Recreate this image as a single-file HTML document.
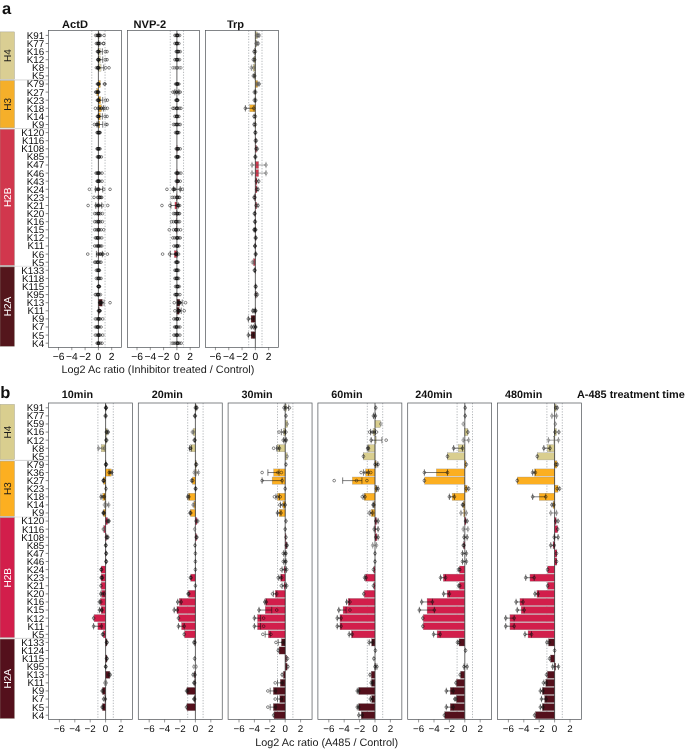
<!DOCTYPE html>
<html><head><meta charset="utf-8"><title>Figure</title>
<style>html,body{margin:0;padding:0;background:#fff}svg{display:block}</style></head>
<body>
<svg width="685" height="749" viewBox="0 0 685 749" font-family="'Liberation Sans', sans-serif" text-rendering="geometricPrecision">
<rect width="685" height="749" fill="#fff"/>
<text x="2" y="13.9" font-size="16.5" font-weight="bold" fill="#111">a</text>
<text x="0.2" y="398.3" font-size="16.5" font-weight="bold" fill="#111">b</text>
<rect x="0" y="31.9" width="14.5" height="47.35" fill="#DACE93" stroke="#9a9a8a" stroke-width="0.4"/>
<text transform="translate(10.6,55.58) rotate(-90)" text-anchor="middle" font-size="10" fill="#1a1a1a">H4</text>
<line x1="0" x2="14.7" y1="79.95" y2="79.95" stroke="#c8c8c8" stroke-width="1.2"/>
<line x1="14.7" x2="48.5" y1="79.95" y2="79.95" stroke="#d6d6d6" stroke-width="1.0"/>
<rect x="0" y="80.65" width="14.5" height="47.2" fill="#F5AF2A" stroke="#9a9a8a" stroke-width="0.4"/>
<text transform="translate(10.6,104.25) rotate(-90)" text-anchor="middle" font-size="10" fill="#1a1a1a">H3</text>
<line x1="0" x2="14.7" y1="128.55" y2="128.55" stroke="#e0e0e0" stroke-width="1.0"/>
<line x1="14.7" x2="48.5" y1="128.55" y2="128.55" stroke="#cccccc" stroke-width="0.7"/>
<rect x="0" y="129.25" width="14.5" height="136.3" fill="#D1374D" stroke="#9a9a8a" stroke-width="0.4"/>
<text transform="translate(10.6,197.4) rotate(-90)" text-anchor="middle" font-size="10" fill="#fff">H2B</text>
<line x1="0" x2="14.7" y1="266.25" y2="266.25" stroke="#bebebe" stroke-width="1.5"/>
<line x1="14.7" x2="48.5" y1="266.25" y2="266.25" stroke="#e2e2e2" stroke-width="1.0"/>
<rect x="0" y="266.95" width="14.5" height="79.35" fill="#54161C" stroke="#9a9a8a" stroke-width="0.4"/>
<text transform="translate(10.6,306.62) rotate(-90)" text-anchor="middle" font-size="10" fill="#fff">H2A</text>
<text x="44.1" y="38.8" text-anchor="end" font-size="9.8" fill="#0a0a0a">K91</text>
<line x1="45.7" x2="48.5" y1="35.4" y2="35.4" stroke="#333" stroke-width="0.6"/>
<text x="44.1" y="46.9" text-anchor="end" font-size="9.8" fill="#0a0a0a">K77</text>
<line x1="45.7" x2="48.5" y1="43.5" y2="43.5" stroke="#333" stroke-width="0.6"/>
<text x="44.1" y="55" text-anchor="end" font-size="9.8" fill="#0a0a0a">K16</text>
<line x1="45.7" x2="48.5" y1="51.6" y2="51.6" stroke="#333" stroke-width="0.6"/>
<text x="44.1" y="63.1" text-anchor="end" font-size="9.8" fill="#0a0a0a">K12</text>
<line x1="45.7" x2="48.5" y1="59.7" y2="59.7" stroke="#333" stroke-width="0.6"/>
<text x="44.1" y="71.2" text-anchor="end" font-size="9.8" fill="#0a0a0a">K8</text>
<line x1="45.7" x2="48.5" y1="67.8" y2="67.8" stroke="#333" stroke-width="0.6"/>
<text x="44.1" y="79.3" text-anchor="end" font-size="9.8" fill="#0a0a0a">K5</text>
<line x1="45.7" x2="48.5" y1="75.9" y2="75.9" stroke="#333" stroke-width="0.6"/>
<text x="44.1" y="87.4" text-anchor="end" font-size="9.8" fill="#0a0a0a">K79</text>
<line x1="45.7" x2="48.5" y1="84" y2="84" stroke="#333" stroke-width="0.6"/>
<text x="44.1" y="95.5" text-anchor="end" font-size="9.8" fill="#0a0a0a">K27</text>
<line x1="45.7" x2="48.5" y1="92.1" y2="92.1" stroke="#333" stroke-width="0.6"/>
<text x="44.1" y="103.6" text-anchor="end" font-size="9.8" fill="#0a0a0a">K23</text>
<line x1="45.7" x2="48.5" y1="100.2" y2="100.2" stroke="#333" stroke-width="0.6"/>
<text x="44.1" y="111.7" text-anchor="end" font-size="9.8" fill="#0a0a0a">K18</text>
<line x1="45.7" x2="48.5" y1="108.3" y2="108.3" stroke="#333" stroke-width="0.6"/>
<text x="44.1" y="119.8" text-anchor="end" font-size="9.8" fill="#0a0a0a">K14</text>
<line x1="45.7" x2="48.5" y1="116.4" y2="116.4" stroke="#333" stroke-width="0.6"/>
<text x="44.1" y="127.9" text-anchor="end" font-size="9.8" fill="#0a0a0a">K9</text>
<line x1="45.7" x2="48.5" y1="124.5" y2="124.5" stroke="#333" stroke-width="0.6"/>
<text x="44.1" y="136" text-anchor="end" font-size="9.8" fill="#0a0a0a">K120</text>
<line x1="45.7" x2="48.5" y1="132.6" y2="132.6" stroke="#333" stroke-width="0.6"/>
<text x="44.1" y="144.1" text-anchor="end" font-size="9.8" fill="#0a0a0a">K116</text>
<line x1="45.7" x2="48.5" y1="140.7" y2="140.7" stroke="#333" stroke-width="0.6"/>
<text x="44.1" y="152.2" text-anchor="end" font-size="9.8" fill="#0a0a0a">K108</text>
<line x1="45.7" x2="48.5" y1="148.8" y2="148.8" stroke="#333" stroke-width="0.6"/>
<text x="44.1" y="160.3" text-anchor="end" font-size="9.8" fill="#0a0a0a">K85</text>
<line x1="45.7" x2="48.5" y1="156.9" y2="156.9" stroke="#333" stroke-width="0.6"/>
<text x="44.1" y="168.4" text-anchor="end" font-size="9.8" fill="#0a0a0a">K47</text>
<line x1="45.7" x2="48.5" y1="165" y2="165" stroke="#333" stroke-width="0.6"/>
<text x="44.1" y="176.5" text-anchor="end" font-size="9.8" fill="#0a0a0a">K46</text>
<line x1="45.7" x2="48.5" y1="173.1" y2="173.1" stroke="#333" stroke-width="0.6"/>
<text x="44.1" y="184.6" text-anchor="end" font-size="9.8" fill="#0a0a0a">K43</text>
<line x1="45.7" x2="48.5" y1="181.2" y2="181.2" stroke="#333" stroke-width="0.6"/>
<text x="44.1" y="192.7" text-anchor="end" font-size="9.8" fill="#0a0a0a">K24</text>
<line x1="45.7" x2="48.5" y1="189.3" y2="189.3" stroke="#333" stroke-width="0.6"/>
<text x="44.1" y="200.8" text-anchor="end" font-size="9.8" fill="#0a0a0a">K23</text>
<line x1="45.7" x2="48.5" y1="197.4" y2="197.4" stroke="#333" stroke-width="0.6"/>
<text x="44.1" y="208.9" text-anchor="end" font-size="9.8" fill="#0a0a0a">K21</text>
<line x1="45.7" x2="48.5" y1="205.5" y2="205.5" stroke="#333" stroke-width="0.6"/>
<text x="44.1" y="217" text-anchor="end" font-size="9.8" fill="#0a0a0a">K20</text>
<line x1="45.7" x2="48.5" y1="213.6" y2="213.6" stroke="#333" stroke-width="0.6"/>
<text x="44.1" y="225.1" text-anchor="end" font-size="9.8" fill="#0a0a0a">K16</text>
<line x1="45.7" x2="48.5" y1="221.7" y2="221.7" stroke="#333" stroke-width="0.6"/>
<text x="44.1" y="233.2" text-anchor="end" font-size="9.8" fill="#0a0a0a">K15</text>
<line x1="45.7" x2="48.5" y1="229.8" y2="229.8" stroke="#333" stroke-width="0.6"/>
<text x="44.1" y="241.3" text-anchor="end" font-size="9.8" fill="#0a0a0a">K12</text>
<line x1="45.7" x2="48.5" y1="237.9" y2="237.9" stroke="#333" stroke-width="0.6"/>
<text x="44.1" y="249.4" text-anchor="end" font-size="9.8" fill="#0a0a0a">K11</text>
<line x1="45.7" x2="48.5" y1="246" y2="246" stroke="#333" stroke-width="0.6"/>
<text x="44.1" y="257.5" text-anchor="end" font-size="9.8" fill="#0a0a0a">K6</text>
<line x1="45.7" x2="48.5" y1="254.1" y2="254.1" stroke="#333" stroke-width="0.6"/>
<text x="44.1" y="265.6" text-anchor="end" font-size="9.8" fill="#0a0a0a">K5</text>
<line x1="45.7" x2="48.5" y1="262.2" y2="262.2" stroke="#333" stroke-width="0.6"/>
<text x="44.1" y="273.7" text-anchor="end" font-size="9.8" fill="#0a0a0a">K133</text>
<line x1="45.7" x2="48.5" y1="270.3" y2="270.3" stroke="#333" stroke-width="0.6"/>
<text x="44.1" y="281.8" text-anchor="end" font-size="9.8" fill="#0a0a0a">K118</text>
<line x1="45.7" x2="48.5" y1="278.4" y2="278.4" stroke="#333" stroke-width="0.6"/>
<text x="44.1" y="289.9" text-anchor="end" font-size="9.8" fill="#0a0a0a">K115</text>
<line x1="45.7" x2="48.5" y1="286.5" y2="286.5" stroke="#333" stroke-width="0.6"/>
<text x="44.1" y="298" text-anchor="end" font-size="9.8" fill="#0a0a0a">K95</text>
<line x1="45.7" x2="48.5" y1="294.6" y2="294.6" stroke="#333" stroke-width="0.6"/>
<text x="44.1" y="306.1" text-anchor="end" font-size="9.8" fill="#0a0a0a">K13</text>
<line x1="45.7" x2="48.5" y1="302.7" y2="302.7" stroke="#333" stroke-width="0.6"/>
<text x="44.1" y="314.2" text-anchor="end" font-size="9.8" fill="#0a0a0a">K11</text>
<line x1="45.7" x2="48.5" y1="310.8" y2="310.8" stroke="#333" stroke-width="0.6"/>
<text x="44.1" y="322.3" text-anchor="end" font-size="9.8" fill="#0a0a0a">K9</text>
<line x1="45.7" x2="48.5" y1="318.9" y2="318.9" stroke="#333" stroke-width="0.6"/>
<text x="44.1" y="330.4" text-anchor="end" font-size="9.8" fill="#0a0a0a">K7</text>
<line x1="45.7" x2="48.5" y1="327" y2="327" stroke="#333" stroke-width="0.6"/>
<text x="44.1" y="338.5" text-anchor="end" font-size="9.8" fill="#0a0a0a">K5</text>
<line x1="45.7" x2="48.5" y1="335.1" y2="335.1" stroke="#333" stroke-width="0.6"/>
<text x="44.1" y="346.6" text-anchor="end" font-size="9.8" fill="#0a0a0a">K4</text>
<line x1="45.7" x2="48.5" y1="343.2" y2="343.2" stroke="#333" stroke-width="0.6"/>
<rect x="48.5" y="30.5" width="73" height="316.9" fill="#fff" stroke="none"/>
<line x1="91.75" x2="91.75" y1="30.5" y2="347.4" stroke="#4a5058" stroke-width="0.4" stroke-dasharray="1.3 1.45"/>
<line x1="105.05" x2="105.05" y1="30.5" y2="347.4" stroke="#4a5058" stroke-width="0.4" stroke-dasharray="1.3 1.45"/>
<rect x="98.4" y="31.9" width="0.67" height="7" fill="#DACE93" fill-opacity="0.7" stroke="#8f8f8f" stroke-width="0.3"/>
<rect x="98.4" y="40" width="0.67" height="7" fill="#DACE93" fill-opacity="0.7" stroke="#8f8f8f" stroke-width="0.3"/>
<rect x="98.4" y="48.1" width="2" height="7" fill="#DACE93" fill-opacity="0.7" stroke="#8f8f8f" stroke-width="0.3"/>
<rect x="98.4" y="56.2" width="2" height="7" fill="#DACE93" fill-opacity="0.7" stroke="#8f8f8f" stroke-width="0.3"/>
<rect x="98.4" y="64.3" width="2.66" height="7" fill="#DACE93" fill-opacity="0.7" stroke="#8f8f8f" stroke-width="0.3"/>
<rect x="98.4" y="80.5" width="2" height="7" fill="#F5AF2A" stroke="#8f8f8f" stroke-width="0.3"/>
<rect x="96.74" y="88.6" width="1.66" height="7" fill="#F5AF2A" stroke="#8f8f8f" stroke-width="0.3"/>
<rect x="98.4" y="96.7" width="2.33" height="7" fill="#F5AF2A" stroke="#8f8f8f" stroke-width="0.3"/>
<rect x="98.4" y="104.8" width="2.99" height="7" fill="#F5AF2A" stroke="#8f8f8f" stroke-width="0.3"/>
<rect x="98.4" y="112.9" width="2" height="7" fill="#F5AF2A" stroke="#8f8f8f" stroke-width="0.3"/>
<rect x="98.4" y="121" width="1.33" height="7" fill="#F5AF2A" stroke="#8f8f8f" stroke-width="0.3"/>
<rect x="98.4" y="185.8" width="0.33" height="7" fill="#D1374D" stroke="#8f8f8f" stroke-width="0.3"/>
<rect x="98.4" y="193.9" width="0.33" height="7" fill="#D1374D" stroke="#8f8f8f" stroke-width="0.3"/>
<rect x="98.4" y="202" width="0.33" height="7" fill="#D1374D" stroke="#8f8f8f" stroke-width="0.3"/>
<rect x="98.4" y="210.1" width="0.33" height="7" fill="#D1374D" stroke="#8f8f8f" stroke-width="0.3"/>
<rect x="98.4" y="218.2" width="0.33" height="7" fill="#D1374D" stroke="#8f8f8f" stroke-width="0.3"/>
<rect x="98.4" y="226.3" width="0.33" height="7" fill="#D1374D" stroke="#8f8f8f" stroke-width="0.3"/>
<rect x="98.4" y="234.4" width="0.2" height="7" fill="#D1374D" stroke="#8f8f8f" stroke-width="0.3"/>
<rect x="98.4" y="242.5" width="0.2" height="7" fill="#D1374D" stroke="#8f8f8f" stroke-width="0.3"/>
<rect x="98.4" y="250.6" width="0.33" height="7" fill="#D1374D" stroke="#8f8f8f" stroke-width="0.3"/>
<rect x="98.4" y="299.2" width="3.99" height="7" fill="#54161C" stroke="#8f8f8f" stroke-width="0.3"/>
<rect x="98.4" y="307.3" width="1" height="7" fill="#54161C" stroke="#8f8f8f" stroke-width="0.3"/>
<rect x="98.4" y="315.4" width="0.2" height="7" fill="#54161C" stroke="#8f8f8f" stroke-width="0.3"/>
<rect x="98.4" y="331.6" width="0.2" height="7" fill="#54161C" stroke="#8f8f8f" stroke-width="0.3"/>
<line x1="98.4" x2="98.4" y1="30.5" y2="347.4" stroke="#222" stroke-width="0.7"/>
<circle cx="95.74" cy="35.4" r="1.35" fill="none" stroke="#111" stroke-width="0.5"/>
<circle cx="97.07" cy="35.4" r="1.35" fill="none" stroke="#111" stroke-width="0.5"/>
<circle cx="97.73" cy="35.4" r="1.35" fill="none" stroke="#111" stroke-width="0.5"/>
<circle cx="98.4" cy="35.4" r="1.35" fill="none" stroke="#111" stroke-width="0.5"/>
<circle cx="99.07" cy="35.4" r="1.35" fill="none" stroke="#111" stroke-width="0.5"/>
<circle cx="99.73" cy="35.4" r="1.35" fill="none" stroke="#111" stroke-width="0.5"/>
<circle cx="100.4" cy="35.4" r="1.35" fill="none" stroke="#111" stroke-width="0.5"/>
<circle cx="104.05" cy="35.4" r="1.35" fill="none" stroke="#111" stroke-width="0.5"/>
<circle cx="98.6" cy="35.4" r="1.35" fill="none" stroke="#111" stroke-width="0.5"/>
<circle cx="98.93" cy="35.4" r="1.35" fill="none" stroke="#111" stroke-width="0.5"/>
<circle cx="96.41" cy="43.5" r="1.35" fill="none" stroke="#111" stroke-width="0.5"/>
<circle cx="97.4" cy="43.5" r="1.35" fill="none" stroke="#111" stroke-width="0.5"/>
<circle cx="98.4" cy="43.5" r="1.35" fill="none" stroke="#111" stroke-width="0.5"/>
<circle cx="99.07" cy="43.5" r="1.35" fill="none" stroke="#111" stroke-width="0.5"/>
<circle cx="100.06" cy="43.5" r="1.35" fill="none" stroke="#111" stroke-width="0.5"/>
<circle cx="103.39" cy="43.5" r="1.35" fill="none" stroke="#111" stroke-width="0.5"/>
<circle cx="103.72" cy="43.5" r="1.35" fill="none" stroke="#111" stroke-width="0.5"/>
<circle cx="98.13" cy="43.5" r="1.35" fill="none" stroke="#111" stroke-width="0.5"/>
<circle cx="98.47" cy="43.5" r="1.35" fill="none" stroke="#111" stroke-width="0.5"/>
<path d="M98.4 51.6H102.39M98.4 48.4v6.4M102.39 48.4v6.4" stroke="#111" stroke-width="0.55" fill="none"/>
<circle cx="97.4" cy="51.6" r="1.35" fill="none" stroke="#111" stroke-width="0.5"/>
<circle cx="98.4" cy="51.6" r="1.35" fill="none" stroke="#111" stroke-width="0.5"/>
<circle cx="99.07" cy="51.6" r="1.35" fill="none" stroke="#111" stroke-width="0.5"/>
<circle cx="105.38" cy="51.6" r="1.35" fill="none" stroke="#111" stroke-width="0.5"/>
<circle cx="107.05" cy="51.6" r="1.35" fill="none" stroke="#111" stroke-width="0.5"/>
<circle cx="98.16" cy="51.6" r="1.35" fill="none" stroke="#111" stroke-width="0.5"/>
<circle cx="98.49" cy="51.6" r="1.35" fill="none" stroke="#111" stroke-width="0.5"/>
<path d="M98.4 59.7H102.72M98.4 56.5v6.4M102.72 56.5v6.4" stroke="#111" stroke-width="0.55" fill="none"/>
<circle cx="97.73" cy="59.7" r="1.35" fill="none" stroke="#111" stroke-width="0.5"/>
<circle cx="98.4" cy="59.7" r="1.35" fill="none" stroke="#111" stroke-width="0.5"/>
<circle cx="99.07" cy="59.7" r="1.35" fill="none" stroke="#111" stroke-width="0.5"/>
<circle cx="105.38" cy="59.7" r="1.35" fill="none" stroke="#111" stroke-width="0.5"/>
<circle cx="107.05" cy="59.7" r="1.35" fill="none" stroke="#111" stroke-width="0.5"/>
<circle cx="98.27" cy="59.7" r="1.35" fill="none" stroke="#111" stroke-width="0.5"/>
<circle cx="98.6" cy="59.7" r="1.35" fill="none" stroke="#111" stroke-width="0.5"/>
<path d="M98.4 67.8H103.72M98.4 64.6v6.4M103.72 64.6v6.4" stroke="#111" stroke-width="0.55" fill="none"/>
<circle cx="96.41" cy="67.8" r="1.35" fill="none" stroke="#111" stroke-width="0.5"/>
<circle cx="97.73" cy="67.8" r="1.35" fill="none" stroke="#111" stroke-width="0.5"/>
<circle cx="98.4" cy="67.8" r="1.35" fill="none" stroke="#111" stroke-width="0.5"/>
<circle cx="99.07" cy="67.8" r="1.35" fill="none" stroke="#111" stroke-width="0.5"/>
<circle cx="105.72" cy="67.8" r="1.35" fill="none" stroke="#111" stroke-width="0.5"/>
<circle cx="109.04" cy="67.8" r="1.35" fill="none" stroke="#111" stroke-width="0.5"/>
<circle cx="97.77" cy="67.8" r="1.35" fill="none" stroke="#111" stroke-width="0.5"/>
<circle cx="98.1" cy="67.8" r="1.35" fill="none" stroke="#111" stroke-width="0.5"/>
<circle cx="97.4" cy="84" r="1.35" fill="none" stroke="#111" stroke-width="0.5"/>
<circle cx="98.4" cy="84" r="1.35" fill="none" stroke="#111" stroke-width="0.5"/>
<circle cx="99.07" cy="84" r="1.35" fill="none" stroke="#111" stroke-width="0.5"/>
<circle cx="104.39" cy="84" r="1.35" fill="none" stroke="#111" stroke-width="0.5"/>
<circle cx="105.05" cy="84" r="1.35" fill="none" stroke="#111" stroke-width="0.5"/>
<circle cx="98.16" cy="84" r="1.35" fill="none" stroke="#111" stroke-width="0.5"/>
<circle cx="98.49" cy="84" r="1.35" fill="none" stroke="#111" stroke-width="0.5"/>
<circle cx="95.74" cy="92.1" r="1.35" fill="none" stroke="#111" stroke-width="0.5"/>
<circle cx="96.41" cy="92.1" r="1.35" fill="none" stroke="#111" stroke-width="0.5"/>
<circle cx="97.73" cy="92.1" r="1.35" fill="none" stroke="#111" stroke-width="0.5"/>
<circle cx="98.4" cy="92.1" r="1.35" fill="none" stroke="#111" stroke-width="0.5"/>
<circle cx="98.73" cy="92.1" r="1.35" fill="none" stroke="#111" stroke-width="0.5"/>
<circle cx="97.27" cy="92.1" r="1.35" fill="none" stroke="#111" stroke-width="0.5"/>
<circle cx="97.6" cy="92.1" r="1.35" fill="none" stroke="#111" stroke-width="0.5"/>
<path d="M98.73 100.2H102.72M98.73 97v6.4M102.72 97v6.4" stroke="#111" stroke-width="0.55" fill="none"/>
<circle cx="97.4" cy="100.2" r="1.35" fill="none" stroke="#111" stroke-width="0.5"/>
<circle cx="98.4" cy="100.2" r="1.35" fill="none" stroke="#111" stroke-width="0.5"/>
<circle cx="99.07" cy="100.2" r="1.35" fill="none" stroke="#111" stroke-width="0.5"/>
<circle cx="105.38" cy="100.2" r="1.35" fill="none" stroke="#111" stroke-width="0.5"/>
<circle cx="107.38" cy="100.2" r="1.35" fill="none" stroke="#111" stroke-width="0.5"/>
<circle cx="98.16" cy="100.2" r="1.35" fill="none" stroke="#111" stroke-width="0.5"/>
<circle cx="98.49" cy="100.2" r="1.35" fill="none" stroke="#111" stroke-width="0.5"/>
<path d="M98.73 108.3H103.39M98.73 105.1v6.4M103.39 105.1v6.4" stroke="#111" stroke-width="0.55" fill="none"/>
<circle cx="95.41" cy="108.3" r="1.35" fill="none" stroke="#111" stroke-width="0.5"/>
<circle cx="98.07" cy="108.3" r="1.35" fill="none" stroke="#111" stroke-width="0.5"/>
<circle cx="99.07" cy="108.3" r="1.35" fill="none" stroke="#111" stroke-width="0.5"/>
<circle cx="103.72" cy="108.3" r="1.35" fill="none" stroke="#111" stroke-width="0.5"/>
<circle cx="105.38" cy="108.3" r="1.35" fill="none" stroke="#111" stroke-width="0.5"/>
<circle cx="107.38" cy="108.3" r="1.35" fill="none" stroke="#111" stroke-width="0.5"/>
<circle cx="101.26" cy="108.3" r="1.35" fill="none" stroke="#111" stroke-width="0.5"/>
<circle cx="101.59" cy="108.3" r="1.35" fill="none" stroke="#111" stroke-width="0.5"/>
<path d="M98.4 116.4H102.39M98.4 113.2v6.4M102.39 113.2v6.4" stroke="#111" stroke-width="0.55" fill="none"/>
<circle cx="97.4" cy="116.4" r="1.35" fill="none" stroke="#111" stroke-width="0.5"/>
<circle cx="98.4" cy="116.4" r="1.35" fill="none" stroke="#111" stroke-width="0.5"/>
<circle cx="99.07" cy="116.4" r="1.35" fill="none" stroke="#111" stroke-width="0.5"/>
<circle cx="105.05" cy="116.4" r="1.35" fill="none" stroke="#111" stroke-width="0.5"/>
<circle cx="107.05" cy="116.4" r="1.35" fill="none" stroke="#111" stroke-width="0.5"/>
<circle cx="98.16" cy="116.4" r="1.35" fill="none" stroke="#111" stroke-width="0.5"/>
<circle cx="98.49" cy="116.4" r="1.35" fill="none" stroke="#111" stroke-width="0.5"/>
<path d="M97.07 124.5H102.72M97.07 121.3v6.4M102.72 121.3v6.4" stroke="#111" stroke-width="0.55" fill="none"/>
<circle cx="94.41" cy="124.5" r="1.35" fill="none" stroke="#111" stroke-width="0.5"/>
<circle cx="96.41" cy="124.5" r="1.35" fill="none" stroke="#111" stroke-width="0.5"/>
<circle cx="98.4" cy="124.5" r="1.35" fill="none" stroke="#111" stroke-width="0.5"/>
<circle cx="105.72" cy="124.5" r="1.35" fill="none" stroke="#111" stroke-width="0.5"/>
<circle cx="107.05" cy="124.5" r="1.35" fill="none" stroke="#111" stroke-width="0.5"/>
<circle cx="97.27" cy="124.5" r="1.35" fill="none" stroke="#111" stroke-width="0.5"/>
<circle cx="97.6" cy="124.5" r="1.35" fill="none" stroke="#111" stroke-width="0.5"/>
<circle cx="97.07" cy="132.6" r="1.35" fill="none" stroke="#111" stroke-width="0.5"/>
<circle cx="97.73" cy="132.6" r="1.35" fill="none" stroke="#111" stroke-width="0.5"/>
<circle cx="98.4" cy="132.6" r="1.35" fill="none" stroke="#111" stroke-width="0.5"/>
<circle cx="99.07" cy="132.6" r="1.35" fill="none" stroke="#111" stroke-width="0.5"/>
<circle cx="99.73" cy="132.6" r="1.35" fill="none" stroke="#111" stroke-width="0.5"/>
<circle cx="100.06" cy="132.6" r="1.35" fill="none" stroke="#111" stroke-width="0.5"/>
<circle cx="98.54" cy="132.6" r="1.35" fill="none" stroke="#111" stroke-width="0.5"/>
<circle cx="98.88" cy="132.6" r="1.35" fill="none" stroke="#111" stroke-width="0.5"/>
<circle cx="97.07" cy="148.8" r="1.35" fill="none" stroke="#111" stroke-width="0.5"/>
<circle cx="97.73" cy="148.8" r="1.35" fill="none" stroke="#111" stroke-width="0.5"/>
<circle cx="98.4" cy="148.8" r="1.35" fill="none" stroke="#111" stroke-width="0.5"/>
<circle cx="99.07" cy="148.8" r="1.35" fill="none" stroke="#111" stroke-width="0.5"/>
<circle cx="100.06" cy="148.8" r="1.35" fill="none" stroke="#111" stroke-width="0.5"/>
<circle cx="98.33" cy="148.8" r="1.35" fill="none" stroke="#111" stroke-width="0.5"/>
<circle cx="98.67" cy="148.8" r="1.35" fill="none" stroke="#111" stroke-width="0.5"/>
<circle cx="97.4" cy="156.9" r="1.35" fill="none" stroke="#111" stroke-width="0.5"/>
<circle cx="98.07" cy="156.9" r="1.35" fill="none" stroke="#111" stroke-width="0.5"/>
<circle cx="98.73" cy="156.9" r="1.35" fill="none" stroke="#111" stroke-width="0.5"/>
<circle cx="99.73" cy="156.9" r="1.35" fill="none" stroke="#111" stroke-width="0.5"/>
<circle cx="101.39" cy="156.9" r="1.35" fill="none" stroke="#111" stroke-width="0.5"/>
<circle cx="98.93" cy="156.9" r="1.35" fill="none" stroke="#111" stroke-width="0.5"/>
<circle cx="99.26" cy="156.9" r="1.35" fill="none" stroke="#111" stroke-width="0.5"/>
<circle cx="96.07" cy="173.1" r="1.35" fill="none" stroke="#111" stroke-width="0.5"/>
<circle cx="97.07" cy="173.1" r="1.35" fill="none" stroke="#111" stroke-width="0.5"/>
<circle cx="98.4" cy="173.1" r="1.35" fill="none" stroke="#111" stroke-width="0.5"/>
<circle cx="99.07" cy="173.1" r="1.35" fill="none" stroke="#111" stroke-width="0.5"/>
<circle cx="99.73" cy="173.1" r="1.35" fill="none" stroke="#111" stroke-width="0.5"/>
<circle cx="102.06" cy="173.1" r="1.35" fill="none" stroke="#111" stroke-width="0.5"/>
<circle cx="97.93" cy="173.1" r="1.35" fill="none" stroke="#111" stroke-width="0.5"/>
<circle cx="98.27" cy="173.1" r="1.35" fill="none" stroke="#111" stroke-width="0.5"/>
<circle cx="97.07" cy="181.2" r="1.35" fill="none" stroke="#111" stroke-width="0.5"/>
<circle cx="97.73" cy="181.2" r="1.35" fill="none" stroke="#111" stroke-width="0.5"/>
<circle cx="98.4" cy="181.2" r="1.35" fill="none" stroke="#111" stroke-width="0.5"/>
<circle cx="99.07" cy="181.2" r="1.35" fill="none" stroke="#111" stroke-width="0.5"/>
<circle cx="99.73" cy="181.2" r="1.35" fill="none" stroke="#111" stroke-width="0.5"/>
<circle cx="102.06" cy="181.2" r="1.35" fill="none" stroke="#111" stroke-width="0.5"/>
<circle cx="98.27" cy="181.2" r="1.35" fill="none" stroke="#111" stroke-width="0.5"/>
<circle cx="98.6" cy="181.2" r="1.35" fill="none" stroke="#111" stroke-width="0.5"/>
<path d="M95.41 189.3H102.72M95.41 186.1v6.4M102.72 186.1v6.4" stroke="#111" stroke-width="0.55" fill="none"/>
<circle cx="89.42" cy="189.3" r="1.35" fill="none" stroke="#111" stroke-width="0.5"/>
<circle cx="96.07" cy="189.3" r="1.35" fill="none" stroke="#111" stroke-width="0.5"/>
<circle cx="98.4" cy="189.3" r="1.35" fill="none" stroke="#111" stroke-width="0.5"/>
<circle cx="99.07" cy="189.3" r="1.35" fill="none" stroke="#111" stroke-width="0.5"/>
<circle cx="103.72" cy="189.3" r="1.35" fill="none" stroke="#111" stroke-width="0.5"/>
<circle cx="110.04" cy="189.3" r="1.35" fill="none" stroke="#111" stroke-width="0.5"/>
<circle cx="97.71" cy="189.3" r="1.35" fill="none" stroke="#111" stroke-width="0.5"/>
<circle cx="98.05" cy="189.3" r="1.35" fill="none" stroke="#111" stroke-width="0.5"/>
<circle cx="94.08" cy="197.4" r="1.35" fill="none" stroke="#111" stroke-width="0.5"/>
<circle cx="97.73" cy="197.4" r="1.35" fill="none" stroke="#111" stroke-width="0.5"/>
<circle cx="98.4" cy="197.4" r="1.35" fill="none" stroke="#111" stroke-width="0.5"/>
<circle cx="99.73" cy="197.4" r="1.35" fill="none" stroke="#111" stroke-width="0.5"/>
<circle cx="101.06" cy="197.4" r="1.35" fill="none" stroke="#111" stroke-width="0.5"/>
<circle cx="101.73" cy="197.4" r="1.35" fill="none" stroke="#111" stroke-width="0.5"/>
<circle cx="99.6" cy="197.4" r="1.35" fill="none" stroke="#111" stroke-width="0.5"/>
<circle cx="99.93" cy="197.4" r="1.35" fill="none" stroke="#111" stroke-width="0.5"/>
<path d="M95.74 205.5H101.73M95.74 202.3v6.4M101.73 202.3v6.4" stroke="#111" stroke-width="0.55" fill="none"/>
<circle cx="88.09" cy="205.5" r="1.35" fill="none" stroke="#111" stroke-width="0.5"/>
<circle cx="96.07" cy="205.5" r="1.35" fill="none" stroke="#111" stroke-width="0.5"/>
<circle cx="98.4" cy="205.5" r="1.35" fill="none" stroke="#111" stroke-width="0.5"/>
<circle cx="99.4" cy="205.5" r="1.35" fill="none" stroke="#111" stroke-width="0.5"/>
<circle cx="102.39" cy="205.5" r="1.35" fill="none" stroke="#111" stroke-width="0.5"/>
<circle cx="107.71" cy="205.5" r="1.35" fill="none" stroke="#111" stroke-width="0.5"/>
<circle cx="97.82" cy="205.5" r="1.35" fill="none" stroke="#111" stroke-width="0.5"/>
<circle cx="98.16" cy="205.5" r="1.35" fill="none" stroke="#111" stroke-width="0.5"/>
<circle cx="94.74" cy="213.6" r="1.35" fill="none" stroke="#111" stroke-width="0.5"/>
<circle cx="96.41" cy="213.6" r="1.35" fill="none" stroke="#111" stroke-width="0.5"/>
<circle cx="97.73" cy="213.6" r="1.35" fill="none" stroke="#111" stroke-width="0.5"/>
<circle cx="99.07" cy="213.6" r="1.35" fill="none" stroke="#111" stroke-width="0.5"/>
<circle cx="100.4" cy="213.6" r="1.35" fill="none" stroke="#111" stroke-width="0.5"/>
<circle cx="102.39" cy="213.6" r="1.35" fill="none" stroke="#111" stroke-width="0.5"/>
<circle cx="98.27" cy="213.6" r="1.35" fill="none" stroke="#111" stroke-width="0.5"/>
<circle cx="98.6" cy="213.6" r="1.35" fill="none" stroke="#111" stroke-width="0.5"/>
<circle cx="94.74" cy="221.7" r="1.35" fill="none" stroke="#111" stroke-width="0.5"/>
<circle cx="96.41" cy="221.7" r="1.35" fill="none" stroke="#111" stroke-width="0.5"/>
<circle cx="97.73" cy="221.7" r="1.35" fill="none" stroke="#111" stroke-width="0.5"/>
<circle cx="99.07" cy="221.7" r="1.35" fill="none" stroke="#111" stroke-width="0.5"/>
<circle cx="100.4" cy="221.7" r="1.35" fill="none" stroke="#111" stroke-width="0.5"/>
<circle cx="102.39" cy="221.7" r="1.35" fill="none" stroke="#111" stroke-width="0.5"/>
<circle cx="98.27" cy="221.7" r="1.35" fill="none" stroke="#111" stroke-width="0.5"/>
<circle cx="98.6" cy="221.7" r="1.35" fill="none" stroke="#111" stroke-width="0.5"/>
<circle cx="94.74" cy="229.8" r="1.35" fill="none" stroke="#111" stroke-width="0.5"/>
<circle cx="96.41" cy="229.8" r="1.35" fill="none" stroke="#111" stroke-width="0.5"/>
<circle cx="97.73" cy="229.8" r="1.35" fill="none" stroke="#111" stroke-width="0.5"/>
<circle cx="99.07" cy="229.8" r="1.35" fill="none" stroke="#111" stroke-width="0.5"/>
<circle cx="101.06" cy="229.8" r="1.35" fill="none" stroke="#111" stroke-width="0.5"/>
<circle cx="103.72" cy="229.8" r="1.35" fill="none" stroke="#111" stroke-width="0.5"/>
<circle cx="98.43" cy="229.8" r="1.35" fill="none" stroke="#111" stroke-width="0.5"/>
<circle cx="98.77" cy="229.8" r="1.35" fill="none" stroke="#111" stroke-width="0.5"/>
<circle cx="95.41" cy="237.9" r="1.35" fill="none" stroke="#111" stroke-width="0.5"/>
<circle cx="96.41" cy="237.9" r="1.35" fill="none" stroke="#111" stroke-width="0.5"/>
<circle cx="97.73" cy="237.9" r="1.35" fill="none" stroke="#111" stroke-width="0.5"/>
<circle cx="98.4" cy="237.9" r="1.35" fill="none" stroke="#111" stroke-width="0.5"/>
<circle cx="99.73" cy="237.9" r="1.35" fill="none" stroke="#111" stroke-width="0.5"/>
<circle cx="101.73" cy="237.9" r="1.35" fill="none" stroke="#111" stroke-width="0.5"/>
<circle cx="97.4" cy="237.9" r="1.35" fill="none" stroke="#111" stroke-width="0.5"/>
<circle cx="97.73" cy="237.9" r="1.35" fill="none" stroke="#111" stroke-width="0.5"/>
<circle cx="94.74" cy="246" r="1.35" fill="none" stroke="#111" stroke-width="0.5"/>
<circle cx="96.41" cy="246" r="1.35" fill="none" stroke="#111" stroke-width="0.5"/>
<circle cx="97.73" cy="246" r="1.35" fill="none" stroke="#111" stroke-width="0.5"/>
<circle cx="99.07" cy="246" r="1.35" fill="none" stroke="#111" stroke-width="0.5"/>
<circle cx="100.4" cy="246" r="1.35" fill="none" stroke="#111" stroke-width="0.5"/>
<circle cx="101.73" cy="246" r="1.35" fill="none" stroke="#111" stroke-width="0.5"/>
<circle cx="98.27" cy="246" r="1.35" fill="none" stroke="#111" stroke-width="0.5"/>
<circle cx="98.6" cy="246" r="1.35" fill="none" stroke="#111" stroke-width="0.5"/>
<path d="M96.41 254.1H102.39M96.41 250.9v6.4M102.39 250.9v6.4" stroke="#111" stroke-width="0.55" fill="none"/>
<circle cx="87.76" cy="254.1" r="1.35" fill="none" stroke="#111" stroke-width="0.5"/>
<circle cx="97.73" cy="254.1" r="1.35" fill="none" stroke="#111" stroke-width="0.5"/>
<circle cx="99.07" cy="254.1" r="1.35" fill="none" stroke="#111" stroke-width="0.5"/>
<circle cx="102.39" cy="254.1" r="1.35" fill="none" stroke="#111" stroke-width="0.5"/>
<circle cx="103.06" cy="254.1" r="1.35" fill="none" stroke="#111" stroke-width="0.5"/>
<circle cx="107.38" cy="254.1" r="1.35" fill="none" stroke="#111" stroke-width="0.5"/>
<circle cx="100.43" cy="254.1" r="1.35" fill="none" stroke="#111" stroke-width="0.5"/>
<circle cx="100.76" cy="254.1" r="1.35" fill="none" stroke="#111" stroke-width="0.5"/>
<circle cx="94.74" cy="262.2" r="1.35" fill="none" stroke="#111" stroke-width="0.5"/>
<circle cx="95.74" cy="262.2" r="1.35" fill="none" stroke="#111" stroke-width="0.5"/>
<circle cx="97.07" cy="262.2" r="1.35" fill="none" stroke="#111" stroke-width="0.5"/>
<circle cx="98.4" cy="262.2" r="1.35" fill="none" stroke="#111" stroke-width="0.5"/>
<circle cx="99.73" cy="262.2" r="1.35" fill="none" stroke="#111" stroke-width="0.5"/>
<circle cx="101.06" cy="262.2" r="1.35" fill="none" stroke="#111" stroke-width="0.5"/>
<circle cx="97.6" cy="262.2" r="1.35" fill="none" stroke="#111" stroke-width="0.5"/>
<circle cx="97.93" cy="262.2" r="1.35" fill="none" stroke="#111" stroke-width="0.5"/>
<circle cx="96.41" cy="270.3" r="1.35" fill="none" stroke="#111" stroke-width="0.5"/>
<circle cx="97.4" cy="270.3" r="1.35" fill="none" stroke="#111" stroke-width="0.5"/>
<circle cx="98.4" cy="270.3" r="1.35" fill="none" stroke="#111" stroke-width="0.5"/>
<circle cx="99.07" cy="270.3" r="1.35" fill="none" stroke="#111" stroke-width="0.5"/>
<circle cx="99.4" cy="270.3" r="1.35" fill="none" stroke="#111" stroke-width="0.5"/>
<circle cx="98" cy="270.3" r="1.35" fill="none" stroke="#111" stroke-width="0.5"/>
<circle cx="98.33" cy="270.3" r="1.35" fill="none" stroke="#111" stroke-width="0.5"/>
<circle cx="96.41" cy="278.4" r="1.35" fill="none" stroke="#111" stroke-width="0.5"/>
<circle cx="97.73" cy="278.4" r="1.35" fill="none" stroke="#111" stroke-width="0.5"/>
<circle cx="98.4" cy="278.4" r="1.35" fill="none" stroke="#111" stroke-width="0.5"/>
<circle cx="99.73" cy="278.4" r="1.35" fill="none" stroke="#111" stroke-width="0.5"/>
<circle cx="101.06" cy="278.4" r="1.35" fill="none" stroke="#111" stroke-width="0.5"/>
<circle cx="98.53" cy="278.4" r="1.35" fill="none" stroke="#111" stroke-width="0.5"/>
<circle cx="98.87" cy="278.4" r="1.35" fill="none" stroke="#111" stroke-width="0.5"/>
<circle cx="98.07" cy="286.5" r="1.35" fill="none" stroke="#111" stroke-width="0.5"/>
<circle cx="98.4" cy="286.5" r="1.35" fill="none" stroke="#111" stroke-width="0.5"/>
<circle cx="98.73" cy="286.5" r="1.35" fill="none" stroke="#111" stroke-width="0.5"/>
<circle cx="99.07" cy="286.5" r="1.35" fill="none" stroke="#111" stroke-width="0.5"/>
<circle cx="99.4" cy="286.5" r="1.35" fill="none" stroke="#111" stroke-width="0.5"/>
<circle cx="98.6" cy="286.5" r="1.35" fill="none" stroke="#111" stroke-width="0.5"/>
<circle cx="98.93" cy="286.5" r="1.35" fill="none" stroke="#111" stroke-width="0.5"/>
<circle cx="95.41" cy="294.6" r="1.35" fill="none" stroke="#111" stroke-width="0.5"/>
<circle cx="96.41" cy="294.6" r="1.35" fill="none" stroke="#111" stroke-width="0.5"/>
<circle cx="97.73" cy="294.6" r="1.35" fill="none" stroke="#111" stroke-width="0.5"/>
<circle cx="98.4" cy="294.6" r="1.35" fill="none" stroke="#111" stroke-width="0.5"/>
<circle cx="99.07" cy="294.6" r="1.35" fill="none" stroke="#111" stroke-width="0.5"/>
<circle cx="100.4" cy="294.6" r="1.35" fill="none" stroke="#111" stroke-width="0.5"/>
<circle cx="97.77" cy="294.6" r="1.35" fill="none" stroke="#111" stroke-width="0.5"/>
<circle cx="98.1" cy="294.6" r="1.35" fill="none" stroke="#111" stroke-width="0.5"/>
<path d="M101.06 302.7H104.05M101.06 299.5v6.4M104.05 299.5v6.4" stroke="#111" stroke-width="0.55" fill="none"/>
<circle cx="99.73" cy="302.7" r="1.35" fill="none" stroke="#111" stroke-width="0.5"/>
<circle cx="100.4" cy="302.7" r="1.35" fill="none" stroke="#111" stroke-width="0.5"/>
<circle cx="101.73" cy="302.7" r="1.35" fill="none" stroke="#111" stroke-width="0.5"/>
<circle cx="110.04" cy="302.7" r="1.35" fill="none" stroke="#111" stroke-width="0.5"/>
<circle cx="100.48" cy="302.7" r="1.35" fill="none" stroke="#111" stroke-width="0.5"/>
<circle cx="100.82" cy="302.7" r="1.35" fill="none" stroke="#111" stroke-width="0.5"/>
<circle cx="98.4" cy="310.8" r="1.35" fill="none" stroke="#111" stroke-width="0.5"/>
<circle cx="99.07" cy="310.8" r="1.35" fill="none" stroke="#111" stroke-width="0.5"/>
<circle cx="99.73" cy="310.8" r="1.35" fill="none" stroke="#111" stroke-width="0.5"/>
<circle cx="100.06" cy="310.8" r="1.35" fill="none" stroke="#111" stroke-width="0.5"/>
<circle cx="99.18" cy="310.8" r="1.35" fill="none" stroke="#111" stroke-width="0.5"/>
<circle cx="99.51" cy="310.8" r="1.35" fill="none" stroke="#111" stroke-width="0.5"/>
<circle cx="95.41" cy="318.9" r="1.35" fill="none" stroke="#111" stroke-width="0.5"/>
<circle cx="97.07" cy="318.9" r="1.35" fill="none" stroke="#111" stroke-width="0.5"/>
<circle cx="98.4" cy="318.9" r="1.35" fill="none" stroke="#111" stroke-width="0.5"/>
<circle cx="99.07" cy="318.9" r="1.35" fill="none" stroke="#111" stroke-width="0.5"/>
<circle cx="100.4" cy="318.9" r="1.35" fill="none" stroke="#111" stroke-width="0.5"/>
<circle cx="102.72" cy="318.9" r="1.35" fill="none" stroke="#111" stroke-width="0.5"/>
<circle cx="98.6" cy="318.9" r="1.35" fill="none" stroke="#111" stroke-width="0.5"/>
<circle cx="98.93" cy="318.9" r="1.35" fill="none" stroke="#111" stroke-width="0.5"/>
<circle cx="95.41" cy="327" r="1.35" fill="none" stroke="#111" stroke-width="0.5"/>
<circle cx="96.74" cy="327" r="1.35" fill="none" stroke="#111" stroke-width="0.5"/>
<circle cx="97.73" cy="327" r="1.35" fill="none" stroke="#111" stroke-width="0.5"/>
<circle cx="98.4" cy="327" r="1.35" fill="none" stroke="#111" stroke-width="0.5"/>
<circle cx="99.07" cy="327" r="1.35" fill="none" stroke="#111" stroke-width="0.5"/>
<circle cx="101.06" cy="327" r="1.35" fill="none" stroke="#111" stroke-width="0.5"/>
<circle cx="97.34" cy="327" r="1.35" fill="none" stroke="#111" stroke-width="0.5"/>
<circle cx="97.67" cy="327" r="1.35" fill="none" stroke="#111" stroke-width="0.5"/>
<circle cx="95.41" cy="335.1" r="1.35" fill="none" stroke="#111" stroke-width="0.5"/>
<circle cx="97.07" cy="335.1" r="1.35" fill="none" stroke="#111" stroke-width="0.5"/>
<circle cx="98.4" cy="335.1" r="1.35" fill="none" stroke="#111" stroke-width="0.5"/>
<circle cx="99.07" cy="335.1" r="1.35" fill="none" stroke="#111" stroke-width="0.5"/>
<circle cx="100.4" cy="335.1" r="1.35" fill="none" stroke="#111" stroke-width="0.5"/>
<circle cx="102.72" cy="335.1" r="1.35" fill="none" stroke="#111" stroke-width="0.5"/>
<circle cx="98.6" cy="335.1" r="1.35" fill="none" stroke="#111" stroke-width="0.5"/>
<circle cx="98.93" cy="335.1" r="1.35" fill="none" stroke="#111" stroke-width="0.5"/>
<circle cx="97.07" cy="343.2" r="1.35" fill="none" stroke="#111" stroke-width="0.5"/>
<circle cx="98.07" cy="343.2" r="1.35" fill="none" stroke="#111" stroke-width="0.5"/>
<circle cx="98.73" cy="343.2" r="1.35" fill="none" stroke="#111" stroke-width="0.5"/>
<circle cx="100.4" cy="343.2" r="1.35" fill="none" stroke="#111" stroke-width="0.5"/>
<circle cx="102.06" cy="343.2" r="1.35" fill="none" stroke="#111" stroke-width="0.5"/>
<circle cx="98.43" cy="343.2" r="1.35" fill="none" stroke="#111" stroke-width="0.5"/>
<circle cx="98.77" cy="343.2" r="1.35" fill="none" stroke="#111" stroke-width="0.5"/>
<rect x="48.5" y="30.5" width="73" height="316.9" fill="none" stroke="#4e5256" stroke-width="0.7"/>
<line x1="58.5" x2="58.5" y1="347.4" y2="350.2" stroke="#333" stroke-width="0.5"/>
<text x="58.5" y="360" text-anchor="middle" font-size="10.3" fill="#0a0a0a">−6</text>
<line x1="71.8" x2="71.8" y1="347.4" y2="350.2" stroke="#333" stroke-width="0.5"/>
<text x="71.8" y="360" text-anchor="middle" font-size="10.3" fill="#0a0a0a">−4</text>
<line x1="85.1" x2="85.1" y1="347.4" y2="350.2" stroke="#333" stroke-width="0.5"/>
<text x="85.1" y="360" text-anchor="middle" font-size="10.3" fill="#0a0a0a">−2</text>
<line x1="98.4" x2="98.4" y1="347.4" y2="350.2" stroke="#333" stroke-width="0.5"/>
<text x="98.4" y="360" text-anchor="middle" font-size="10.3" fill="#0a0a0a">0</text>
<line x1="111.7" x2="111.7" y1="347.4" y2="350.2" stroke="#333" stroke-width="0.5"/>
<text x="111.7" y="360" text-anchor="middle" font-size="10.3" fill="#0a0a0a">2</text>
<rect x="127.4" y="30.5" width="72" height="316.9" fill="#fff" stroke="none"/>
<line x1="170.25" x2="170.25" y1="30.5" y2="347.4" stroke="#4a5058" stroke-width="0.4" stroke-dasharray="1.3 1.45"/>
<line x1="183.55" x2="183.55" y1="30.5" y2="347.4" stroke="#4a5058" stroke-width="0.4" stroke-dasharray="1.3 1.45"/>
<rect x="176.9" y="145.3" width="0.33" height="7" fill="#D1374D" stroke="#8f8f8f" stroke-width="0.3"/>
<rect x="176.9" y="169.6" width="0.33" height="7" fill="#D1374D" stroke="#8f8f8f" stroke-width="0.3"/>
<rect x="176.9" y="177.7" width="0.33" height="7" fill="#D1374D" stroke="#8f8f8f" stroke-width="0.3"/>
<rect x="176.57" y="193.9" width="0.33" height="7" fill="#D1374D" stroke="#8f8f8f" stroke-width="0.3"/>
<rect x="174.91" y="202" width="2" height="7" fill="#D1374D" stroke="#8f8f8f" stroke-width="0.3"/>
<rect x="176.57" y="210.1" width="0.33" height="7" fill="#D1374D" stroke="#8f8f8f" stroke-width="0.3"/>
<rect x="176.57" y="218.2" width="0.33" height="7" fill="#D1374D" stroke="#8f8f8f" stroke-width="0.3"/>
<rect x="176.57" y="226.3" width="0.33" height="7" fill="#D1374D" stroke="#8f8f8f" stroke-width="0.3"/>
<rect x="174.24" y="250.6" width="2.66" height="7" fill="#D1374D" stroke="#8f8f8f" stroke-width="0.3"/>
<rect x="176.9" y="299.2" width="2.99" height="7" fill="#54161C" stroke="#8f8f8f" stroke-width="0.3"/>
<rect x="176.9" y="307.3" width="2.33" height="7" fill="#54161C" stroke="#8f8f8f" stroke-width="0.3"/>
<line x1="176.9" x2="176.9" y1="30.5" y2="347.4" stroke="#222" stroke-width="0.7"/>
<circle cx="174.91" cy="35.4" r="1.35" fill="none" stroke="#111" stroke-width="0.5"/>
<circle cx="175.9" cy="35.4" r="1.35" fill="none" stroke="#111" stroke-width="0.5"/>
<circle cx="176.9" cy="35.4" r="1.35" fill="none" stroke="#111" stroke-width="0.5"/>
<circle cx="177.56" cy="35.4" r="1.35" fill="none" stroke="#111" stroke-width="0.5"/>
<circle cx="178.23" cy="35.4" r="1.35" fill="none" stroke="#111" stroke-width="0.5"/>
<circle cx="179.56" cy="35.4" r="1.35" fill="none" stroke="#111" stroke-width="0.5"/>
<circle cx="177.04" cy="35.4" r="1.35" fill="none" stroke="#111" stroke-width="0.5"/>
<circle cx="177.38" cy="35.4" r="1.35" fill="none" stroke="#111" stroke-width="0.5"/>
<circle cx="174.91" cy="43.5" r="1.35" fill="none" stroke="#111" stroke-width="0.5"/>
<circle cx="176.24" cy="43.5" r="1.35" fill="none" stroke="#111" stroke-width="0.5"/>
<circle cx="176.9" cy="43.5" r="1.35" fill="none" stroke="#111" stroke-width="0.5"/>
<circle cx="177.56" cy="43.5" r="1.35" fill="none" stroke="#111" stroke-width="0.5"/>
<circle cx="178.9" cy="43.5" r="1.35" fill="none" stroke="#111" stroke-width="0.5"/>
<circle cx="176.77" cy="43.5" r="1.35" fill="none" stroke="#111" stroke-width="0.5"/>
<circle cx="177.1" cy="43.5" r="1.35" fill="none" stroke="#111" stroke-width="0.5"/>
<circle cx="176.24" cy="51.6" r="1.35" fill="none" stroke="#111" stroke-width="0.5"/>
<circle cx="176.9" cy="51.6" r="1.35" fill="none" stroke="#111" stroke-width="0.5"/>
<circle cx="177.56" cy="51.6" r="1.35" fill="none" stroke="#111" stroke-width="0.5"/>
<circle cx="178.9" cy="51.6" r="1.35" fill="none" stroke="#111" stroke-width="0.5"/>
<circle cx="180.22" cy="51.6" r="1.35" fill="none" stroke="#111" stroke-width="0.5"/>
<circle cx="177.83" cy="51.6" r="1.35" fill="none" stroke="#111" stroke-width="0.5"/>
<circle cx="178.16" cy="51.6" r="1.35" fill="none" stroke="#111" stroke-width="0.5"/>
<circle cx="174.91" cy="59.7" r="1.35" fill="none" stroke="#111" stroke-width="0.5"/>
<circle cx="176.24" cy="59.7" r="1.35" fill="none" stroke="#111" stroke-width="0.5"/>
<circle cx="176.9" cy="59.7" r="1.35" fill="none" stroke="#111" stroke-width="0.5"/>
<circle cx="178.23" cy="59.7" r="1.35" fill="none" stroke="#111" stroke-width="0.5"/>
<circle cx="179.56" cy="59.7" r="1.35" fill="none" stroke="#111" stroke-width="0.5"/>
<circle cx="177.03" cy="59.7" r="1.35" fill="none" stroke="#111" stroke-width="0.5"/>
<circle cx="177.37" cy="59.7" r="1.35" fill="none" stroke="#111" stroke-width="0.5"/>
<circle cx="172.91" cy="67.8" r="1.35" fill="none" stroke="#5a5a5a" stroke-width="0.5"/>
<circle cx="174.57" cy="67.8" r="1.35" fill="none" stroke="#5a5a5a" stroke-width="0.5"/>
<circle cx="176.24" cy="67.8" r="1.35" fill="none" stroke="#5a5a5a" stroke-width="0.5"/>
<circle cx="177.56" cy="67.8" r="1.35" fill="none" stroke="#5a5a5a" stroke-width="0.5"/>
<circle cx="179.56" cy="67.8" r="1.35" fill="none" stroke="#5a5a5a" stroke-width="0.5"/>
<circle cx="180.89" cy="67.8" r="1.35" fill="none" stroke="#5a5a5a" stroke-width="0.5"/>
<circle cx="176.85" cy="67.8" r="1.35" fill="none" stroke="#5a5a5a" stroke-width="0.5"/>
<circle cx="177.18" cy="67.8" r="1.35" fill="none" stroke="#5a5a5a" stroke-width="0.5"/>
<circle cx="175.57" cy="84" r="1.35" fill="none" stroke="#111" stroke-width="0.5"/>
<circle cx="176.57" cy="84" r="1.35" fill="none" stroke="#111" stroke-width="0.5"/>
<circle cx="177.23" cy="84" r="1.35" fill="none" stroke="#111" stroke-width="0.5"/>
<circle cx="177.9" cy="84" r="1.35" fill="none" stroke="#111" stroke-width="0.5"/>
<circle cx="178.9" cy="84" r="1.35" fill="none" stroke="#111" stroke-width="0.5"/>
<circle cx="177.1" cy="84" r="1.35" fill="none" stroke="#111" stroke-width="0.5"/>
<circle cx="177.43" cy="84" r="1.35" fill="none" stroke="#111" stroke-width="0.5"/>
<path d="M174.91 92.1H178.9M174.91 88.9v6.4M178.9 88.9v6.4" stroke="#111" stroke-width="0.55" fill="none"/>
<circle cx="172.91" cy="92.1" r="1.35" fill="none" stroke="#111" stroke-width="0.5"/>
<circle cx="174.57" cy="92.1" r="1.35" fill="none" stroke="#111" stroke-width="0.5"/>
<circle cx="178.9" cy="92.1" r="1.35" fill="none" stroke="#111" stroke-width="0.5"/>
<circle cx="180.22" cy="92.1" r="1.35" fill="none" stroke="#111" stroke-width="0.5"/>
<circle cx="176.6" cy="92.1" r="1.35" fill="none" stroke="#111" stroke-width="0.5"/>
<circle cx="176.93" cy="92.1" r="1.35" fill="none" stroke="#111" stroke-width="0.5"/>
<circle cx="175.9" cy="100.2" r="1.35" fill="none" stroke="#111" stroke-width="0.5"/>
<circle cx="176.9" cy="100.2" r="1.35" fill="none" stroke="#111" stroke-width="0.5"/>
<circle cx="177.23" cy="100.2" r="1.35" fill="none" stroke="#111" stroke-width="0.5"/>
<circle cx="177.9" cy="100.2" r="1.35" fill="none" stroke="#111" stroke-width="0.5"/>
<circle cx="176.85" cy="100.2" r="1.35" fill="none" stroke="#111" stroke-width="0.5"/>
<circle cx="177.18" cy="100.2" r="1.35" fill="none" stroke="#111" stroke-width="0.5"/>
<circle cx="172.91" cy="108.3" r="1.35" fill="none" stroke="#111" stroke-width="0.5"/>
<circle cx="174.24" cy="108.3" r="1.35" fill="none" stroke="#111" stroke-width="0.5"/>
<circle cx="176.24" cy="108.3" r="1.35" fill="none" stroke="#111" stroke-width="0.5"/>
<circle cx="177.56" cy="108.3" r="1.35" fill="none" stroke="#111" stroke-width="0.5"/>
<circle cx="179.23" cy="108.3" r="1.35" fill="none" stroke="#111" stroke-width="0.5"/>
<circle cx="180.89" cy="108.3" r="1.35" fill="none" stroke="#111" stroke-width="0.5"/>
<circle cx="176.68" cy="108.3" r="1.35" fill="none" stroke="#111" stroke-width="0.5"/>
<circle cx="177.02" cy="108.3" r="1.35" fill="none" stroke="#111" stroke-width="0.5"/>
<circle cx="174.91" cy="116.4" r="1.35" fill="none" stroke="#111" stroke-width="0.5"/>
<circle cx="176.24" cy="116.4" r="1.35" fill="none" stroke="#111" stroke-width="0.5"/>
<circle cx="176.9" cy="116.4" r="1.35" fill="none" stroke="#111" stroke-width="0.5"/>
<circle cx="177.56" cy="116.4" r="1.35" fill="none" stroke="#111" stroke-width="0.5"/>
<circle cx="178.9" cy="116.4" r="1.35" fill="none" stroke="#111" stroke-width="0.5"/>
<circle cx="176.77" cy="116.4" r="1.35" fill="none" stroke="#111" stroke-width="0.5"/>
<circle cx="177.1" cy="116.4" r="1.35" fill="none" stroke="#111" stroke-width="0.5"/>
<circle cx="173.58" cy="124.5" r="1.35" fill="none" stroke="#111" stroke-width="0.5"/>
<circle cx="174.91" cy="124.5" r="1.35" fill="none" stroke="#111" stroke-width="0.5"/>
<circle cx="176.24" cy="124.5" r="1.35" fill="none" stroke="#111" stroke-width="0.5"/>
<circle cx="177.56" cy="124.5" r="1.35" fill="none" stroke="#111" stroke-width="0.5"/>
<circle cx="178.9" cy="124.5" r="1.35" fill="none" stroke="#111" stroke-width="0.5"/>
<circle cx="180.22" cy="124.5" r="1.35" fill="none" stroke="#111" stroke-width="0.5"/>
<circle cx="176.77" cy="124.5" r="1.35" fill="none" stroke="#111" stroke-width="0.5"/>
<circle cx="177.1" cy="124.5" r="1.35" fill="none" stroke="#111" stroke-width="0.5"/>
<circle cx="175.57" cy="132.6" r="1.35" fill="none" stroke="#111" stroke-width="0.5"/>
<circle cx="176.57" cy="132.6" r="1.35" fill="none" stroke="#111" stroke-width="0.5"/>
<circle cx="177.23" cy="132.6" r="1.35" fill="none" stroke="#111" stroke-width="0.5"/>
<circle cx="177.9" cy="132.6" r="1.35" fill="none" stroke="#111" stroke-width="0.5"/>
<circle cx="178.9" cy="132.6" r="1.35" fill="none" stroke="#111" stroke-width="0.5"/>
<circle cx="177.1" cy="132.6" r="1.35" fill="none" stroke="#111" stroke-width="0.5"/>
<circle cx="177.43" cy="132.6" r="1.35" fill="none" stroke="#111" stroke-width="0.5"/>
<circle cx="176.24" cy="148.8" r="1.35" fill="none" stroke="#111" stroke-width="0.5"/>
<circle cx="176.9" cy="148.8" r="1.35" fill="none" stroke="#111" stroke-width="0.5"/>
<circle cx="177.56" cy="148.8" r="1.35" fill="none" stroke="#111" stroke-width="0.5"/>
<circle cx="178.56" cy="148.8" r="1.35" fill="none" stroke="#111" stroke-width="0.5"/>
<circle cx="180.22" cy="148.8" r="1.35" fill="none" stroke="#111" stroke-width="0.5"/>
<circle cx="177.76" cy="148.8" r="1.35" fill="none" stroke="#111" stroke-width="0.5"/>
<circle cx="178.1" cy="148.8" r="1.35" fill="none" stroke="#111" stroke-width="0.5"/>
<circle cx="175.9" cy="156.9" r="1.35" fill="none" stroke="#111" stroke-width="0.5"/>
<circle cx="176.9" cy="156.9" r="1.35" fill="none" stroke="#111" stroke-width="0.5"/>
<circle cx="177.56" cy="156.9" r="1.35" fill="none" stroke="#111" stroke-width="0.5"/>
<circle cx="177.9" cy="156.9" r="1.35" fill="none" stroke="#111" stroke-width="0.5"/>
<circle cx="178.9" cy="156.9" r="1.35" fill="none" stroke="#111" stroke-width="0.5"/>
<circle cx="177.3" cy="156.9" r="1.35" fill="none" stroke="#111" stroke-width="0.5"/>
<circle cx="177.63" cy="156.9" r="1.35" fill="none" stroke="#111" stroke-width="0.5"/>
<circle cx="175.9" cy="173.1" r="1.35" fill="none" stroke="#111" stroke-width="0.5"/>
<circle cx="176.9" cy="173.1" r="1.35" fill="none" stroke="#111" stroke-width="0.5"/>
<circle cx="177.56" cy="173.1" r="1.35" fill="none" stroke="#111" stroke-width="0.5"/>
<circle cx="178.9" cy="173.1" r="1.35" fill="none" stroke="#111" stroke-width="0.5"/>
<circle cx="180.89" cy="173.1" r="1.35" fill="none" stroke="#111" stroke-width="0.5"/>
<circle cx="177.18" cy="173.1" r="1.35" fill="none" stroke="#111" stroke-width="0.5"/>
<circle cx="177.52" cy="173.1" r="1.35" fill="none" stroke="#111" stroke-width="0.5"/>
<circle cx="176.24" cy="181.2" r="1.35" fill="none" stroke="#111" stroke-width="0.5"/>
<circle cx="176.9" cy="181.2" r="1.35" fill="none" stroke="#111" stroke-width="0.5"/>
<circle cx="177.56" cy="181.2" r="1.35" fill="none" stroke="#111" stroke-width="0.5"/>
<circle cx="178.23" cy="181.2" r="1.35" fill="none" stroke="#111" stroke-width="0.5"/>
<circle cx="180.22" cy="181.2" r="1.35" fill="none" stroke="#111" stroke-width="0.5"/>
<circle cx="177.7" cy="181.2" r="1.35" fill="none" stroke="#111" stroke-width="0.5"/>
<circle cx="178.03" cy="181.2" r="1.35" fill="none" stroke="#111" stroke-width="0.5"/>
<path d="M173.58 189.3H180.22M173.58 186.1v6.4M180.22 186.1v6.4" stroke="#111" stroke-width="0.55" fill="none"/>
<circle cx="166.93" cy="189.3" r="1.35" fill="none" stroke="#111" stroke-width="0.5"/>
<circle cx="172.91" cy="189.3" r="1.35" fill="none" stroke="#111" stroke-width="0.5"/>
<circle cx="174.91" cy="189.3" r="1.35" fill="none" stroke="#111" stroke-width="0.5"/>
<circle cx="180.22" cy="189.3" r="1.35" fill="none" stroke="#111" stroke-width="0.5"/>
<circle cx="182.22" cy="189.3" r="1.35" fill="none" stroke="#111" stroke-width="0.5"/>
<circle cx="173.77" cy="189.3" r="1.35" fill="none" stroke="#111" stroke-width="0.5"/>
<circle cx="174.11" cy="189.3" r="1.35" fill="none" stroke="#111" stroke-width="0.5"/>
<circle cx="172.25" cy="197.4" r="1.35" fill="none" stroke="#111" stroke-width="0.5"/>
<circle cx="174.24" cy="197.4" r="1.35" fill="none" stroke="#111" stroke-width="0.5"/>
<circle cx="176.24" cy="197.4" r="1.35" fill="none" stroke="#111" stroke-width="0.5"/>
<circle cx="177.56" cy="197.4" r="1.35" fill="none" stroke="#111" stroke-width="0.5"/>
<circle cx="178.9" cy="197.4" r="1.35" fill="none" stroke="#111" stroke-width="0.5"/>
<circle cx="179.56" cy="197.4" r="1.35" fill="none" stroke="#111" stroke-width="0.5"/>
<circle cx="177.17" cy="197.4" r="1.35" fill="none" stroke="#111" stroke-width="0.5"/>
<circle cx="177.5" cy="197.4" r="1.35" fill="none" stroke="#111" stroke-width="0.5"/>
<path d="M170.91 205.5H178.23M170.91 202.3v6.4M178.23 202.3v6.4" stroke="#111" stroke-width="0.55" fill="none"/>
<circle cx="161.94" cy="205.5" r="1.35" fill="none" stroke="#111" stroke-width="0.5"/>
<circle cx="169.92" cy="205.5" r="1.35" fill="none" stroke="#111" stroke-width="0.5"/>
<circle cx="176.9" cy="205.5" r="1.35" fill="none" stroke="#111" stroke-width="0.5"/>
<circle cx="178.23" cy="205.5" r="1.35" fill="none" stroke="#111" stroke-width="0.5"/>
<circle cx="179.56" cy="205.5" r="1.35" fill="none" stroke="#111" stroke-width="0.5"/>
<circle cx="178.1" cy="205.5" r="1.35" fill="none" stroke="#111" stroke-width="0.5"/>
<circle cx="178.43" cy="205.5" r="1.35" fill="none" stroke="#111" stroke-width="0.5"/>
<circle cx="173.58" cy="213.6" r="1.35" fill="none" stroke="#111" stroke-width="0.5"/>
<circle cx="174.91" cy="213.6" r="1.35" fill="none" stroke="#111" stroke-width="0.5"/>
<circle cx="176.24" cy="213.6" r="1.35" fill="none" stroke="#111" stroke-width="0.5"/>
<circle cx="177.56" cy="213.6" r="1.35" fill="none" stroke="#111" stroke-width="0.5"/>
<circle cx="178.9" cy="213.6" r="1.35" fill="none" stroke="#111" stroke-width="0.5"/>
<circle cx="179.56" cy="213.6" r="1.35" fill="none" stroke="#111" stroke-width="0.5"/>
<circle cx="177.3" cy="213.6" r="1.35" fill="none" stroke="#111" stroke-width="0.5"/>
<circle cx="177.63" cy="213.6" r="1.35" fill="none" stroke="#111" stroke-width="0.5"/>
<circle cx="171.58" cy="221.7" r="1.35" fill="none" stroke="#111" stroke-width="0.5"/>
<circle cx="173.58" cy="221.7" r="1.35" fill="none" stroke="#111" stroke-width="0.5"/>
<circle cx="175.57" cy="221.7" r="1.35" fill="none" stroke="#111" stroke-width="0.5"/>
<circle cx="176.9" cy="221.7" r="1.35" fill="none" stroke="#111" stroke-width="0.5"/>
<circle cx="178.23" cy="221.7" r="1.35" fill="none" stroke="#111" stroke-width="0.5"/>
<circle cx="179.56" cy="221.7" r="1.35" fill="none" stroke="#111" stroke-width="0.5"/>
<circle cx="175.94" cy="221.7" r="1.35" fill="none" stroke="#111" stroke-width="0.5"/>
<circle cx="176.27" cy="221.7" r="1.35" fill="none" stroke="#111" stroke-width="0.5"/>
<circle cx="169.25" cy="229.8" r="1.35" fill="none" stroke="#111" stroke-width="0.5"/>
<circle cx="173.58" cy="229.8" r="1.35" fill="none" stroke="#111" stroke-width="0.5"/>
<circle cx="175.57" cy="229.8" r="1.35" fill="none" stroke="#111" stroke-width="0.5"/>
<circle cx="176.9" cy="229.8" r="1.35" fill="none" stroke="#111" stroke-width="0.5"/>
<circle cx="178.23" cy="229.8" r="1.35" fill="none" stroke="#111" stroke-width="0.5"/>
<circle cx="180.56" cy="229.8" r="1.35" fill="none" stroke="#111" stroke-width="0.5"/>
<circle cx="175.94" cy="229.8" r="1.35" fill="none" stroke="#111" stroke-width="0.5"/>
<circle cx="176.27" cy="229.8" r="1.35" fill="none" stroke="#111" stroke-width="0.5"/>
<circle cx="172.91" cy="237.9" r="1.35" fill="none" stroke="#111" stroke-width="0.5"/>
<circle cx="174.91" cy="237.9" r="1.35" fill="none" stroke="#111" stroke-width="0.5"/>
<circle cx="176.9" cy="237.9" r="1.35" fill="none" stroke="#111" stroke-width="0.5"/>
<circle cx="177.56" cy="237.9" r="1.35" fill="none" stroke="#111" stroke-width="0.5"/>
<circle cx="178.9" cy="237.9" r="1.35" fill="none" stroke="#111" stroke-width="0.5"/>
<circle cx="180.22" cy="237.9" r="1.35" fill="none" stroke="#111" stroke-width="0.5"/>
<circle cx="176.93" cy="237.9" r="1.35" fill="none" stroke="#111" stroke-width="0.5"/>
<circle cx="177.27" cy="237.9" r="1.35" fill="none" stroke="#111" stroke-width="0.5"/>
<circle cx="173.91" cy="246" r="1.35" fill="none" stroke="#111" stroke-width="0.5"/>
<circle cx="175.57" cy="246" r="1.35" fill="none" stroke="#111" stroke-width="0.5"/>
<circle cx="176.9" cy="246" r="1.35" fill="none" stroke="#111" stroke-width="0.5"/>
<circle cx="177.56" cy="246" r="1.35" fill="none" stroke="#111" stroke-width="0.5"/>
<circle cx="178.9" cy="246" r="1.35" fill="none" stroke="#111" stroke-width="0.5"/>
<circle cx="177.1" cy="246" r="1.35" fill="none" stroke="#111" stroke-width="0.5"/>
<circle cx="177.43" cy="246" r="1.35" fill="none" stroke="#111" stroke-width="0.5"/>
<path d="M170.25 254.1H177.56M170.25 250.9v6.4M177.56 250.9v6.4" stroke="#111" stroke-width="0.55" fill="none"/>
<circle cx="162.6" cy="254.1" r="1.35" fill="none" stroke="#111" stroke-width="0.5"/>
<circle cx="169.59" cy="254.1" r="1.35" fill="none" stroke="#111" stroke-width="0.5"/>
<circle cx="175.57" cy="254.1" r="1.35" fill="none" stroke="#111" stroke-width="0.5"/>
<circle cx="176.9" cy="254.1" r="1.35" fill="none" stroke="#111" stroke-width="0.5"/>
<circle cx="178.56" cy="254.1" r="1.35" fill="none" stroke="#111" stroke-width="0.5"/>
<circle cx="176.1" cy="254.1" r="1.35" fill="none" stroke="#111" stroke-width="0.5"/>
<circle cx="176.43" cy="254.1" r="1.35" fill="none" stroke="#111" stroke-width="0.5"/>
<circle cx="175.57" cy="262.2" r="1.35" fill="none" stroke="#111" stroke-width="0.5"/>
<circle cx="176.57" cy="262.2" r="1.35" fill="none" stroke="#111" stroke-width="0.5"/>
<circle cx="177.23" cy="262.2" r="1.35" fill="none" stroke="#111" stroke-width="0.5"/>
<circle cx="178.23" cy="262.2" r="1.35" fill="none" stroke="#111" stroke-width="0.5"/>
<circle cx="176.77" cy="262.2" r="1.35" fill="none" stroke="#111" stroke-width="0.5"/>
<circle cx="177.1" cy="262.2" r="1.35" fill="none" stroke="#111" stroke-width="0.5"/>
<circle cx="174.91" cy="270.3" r="1.35" fill="none" stroke="#111" stroke-width="0.5"/>
<circle cx="175.9" cy="270.3" r="1.35" fill="none" stroke="#111" stroke-width="0.5"/>
<circle cx="176.9" cy="270.3" r="1.35" fill="none" stroke="#111" stroke-width="0.5"/>
<circle cx="177.56" cy="270.3" r="1.35" fill="none" stroke="#111" stroke-width="0.5"/>
<circle cx="178.56" cy="270.3" r="1.35" fill="none" stroke="#111" stroke-width="0.5"/>
<circle cx="176.63" cy="270.3" r="1.35" fill="none" stroke="#111" stroke-width="0.5"/>
<circle cx="176.97" cy="270.3" r="1.35" fill="none" stroke="#111" stroke-width="0.5"/>
<circle cx="174.91" cy="278.4" r="1.35" fill="none" stroke="#111" stroke-width="0.5"/>
<circle cx="175.9" cy="278.4" r="1.35" fill="none" stroke="#111" stroke-width="0.5"/>
<circle cx="176.9" cy="278.4" r="1.35" fill="none" stroke="#111" stroke-width="0.5"/>
<circle cx="177.56" cy="278.4" r="1.35" fill="none" stroke="#111" stroke-width="0.5"/>
<circle cx="178.56" cy="278.4" r="1.35" fill="none" stroke="#111" stroke-width="0.5"/>
<circle cx="176.63" cy="278.4" r="1.35" fill="none" stroke="#111" stroke-width="0.5"/>
<circle cx="176.97" cy="278.4" r="1.35" fill="none" stroke="#111" stroke-width="0.5"/>
<circle cx="175.57" cy="286.5" r="1.35" fill="none" stroke="#111" stroke-width="0.5"/>
<circle cx="176.57" cy="286.5" r="1.35" fill="none" stroke="#111" stroke-width="0.5"/>
<circle cx="177.56" cy="286.5" r="1.35" fill="none" stroke="#111" stroke-width="0.5"/>
<circle cx="178.23" cy="286.5" r="1.35" fill="none" stroke="#111" stroke-width="0.5"/>
<circle cx="179.23" cy="286.5" r="1.35" fill="none" stroke="#111" stroke-width="0.5"/>
<circle cx="177.3" cy="286.5" r="1.35" fill="none" stroke="#111" stroke-width="0.5"/>
<circle cx="177.63" cy="286.5" r="1.35" fill="none" stroke="#111" stroke-width="0.5"/>
<circle cx="174.91" cy="294.6" r="1.35" fill="none" stroke="#111" stroke-width="0.5"/>
<circle cx="175.9" cy="294.6" r="1.35" fill="none" stroke="#111" stroke-width="0.5"/>
<circle cx="176.9" cy="294.6" r="1.35" fill="none" stroke="#111" stroke-width="0.5"/>
<circle cx="177.9" cy="294.6" r="1.35" fill="none" stroke="#111" stroke-width="0.5"/>
<circle cx="179.89" cy="294.6" r="1.35" fill="none" stroke="#111" stroke-width="0.5"/>
<circle cx="176.27" cy="294.6" r="1.35" fill="none" stroke="#111" stroke-width="0.5"/>
<circle cx="176.6" cy="294.6" r="1.35" fill="none" stroke="#111" stroke-width="0.5"/>
<path d="M177.56 302.7H182.22M177.56 299.5v6.4M182.22 299.5v6.4" stroke="#111" stroke-width="0.55" fill="none"/>
<circle cx="174.24" cy="302.7" r="1.35" fill="none" stroke="#111" stroke-width="0.5"/>
<circle cx="178.23" cy="302.7" r="1.35" fill="none" stroke="#111" stroke-width="0.5"/>
<circle cx="179.56" cy="302.7" r="1.35" fill="none" stroke="#111" stroke-width="0.5"/>
<circle cx="180.22" cy="302.7" r="1.35" fill="none" stroke="#111" stroke-width="0.5"/>
<circle cx="185.55" cy="302.7" r="1.35" fill="none" stroke="#111" stroke-width="0.5"/>
<circle cx="179.21" cy="302.7" r="1.35" fill="none" stroke="#111" stroke-width="0.5"/>
<circle cx="179.54" cy="302.7" r="1.35" fill="none" stroke="#111" stroke-width="0.5"/>
<path d="M177.23 310.8H181.22M177.23 307.6v6.4M181.22 307.6v6.4" stroke="#111" stroke-width="0.55" fill="none"/>
<circle cx="174.91" cy="310.8" r="1.35" fill="none" stroke="#111" stroke-width="0.5"/>
<circle cx="178.23" cy="310.8" r="1.35" fill="none" stroke="#111" stroke-width="0.5"/>
<circle cx="178.9" cy="310.8" r="1.35" fill="none" stroke="#111" stroke-width="0.5"/>
<circle cx="179.56" cy="310.8" r="1.35" fill="none" stroke="#111" stroke-width="0.5"/>
<circle cx="184.22" cy="310.8" r="1.35" fill="none" stroke="#111" stroke-width="0.5"/>
<circle cx="178.76" cy="310.8" r="1.35" fill="none" stroke="#111" stroke-width="0.5"/>
<circle cx="179.09" cy="310.8" r="1.35" fill="none" stroke="#111" stroke-width="0.5"/>
<circle cx="173.91" cy="318.9" r="1.35" fill="none" stroke="#111" stroke-width="0.5"/>
<circle cx="175.57" cy="318.9" r="1.35" fill="none" stroke="#111" stroke-width="0.5"/>
<circle cx="176.9" cy="318.9" r="1.35" fill="none" stroke="#111" stroke-width="0.5"/>
<circle cx="177.56" cy="318.9" r="1.35" fill="none" stroke="#111" stroke-width="0.5"/>
<circle cx="179.23" cy="318.9" r="1.35" fill="none" stroke="#111" stroke-width="0.5"/>
<circle cx="177.18" cy="318.9" r="1.35" fill="none" stroke="#111" stroke-width="0.5"/>
<circle cx="177.52" cy="318.9" r="1.35" fill="none" stroke="#111" stroke-width="0.5"/>
<circle cx="174.57" cy="327" r="1.35" fill="none" stroke="#111" stroke-width="0.5"/>
<circle cx="175.9" cy="327" r="1.35" fill="none" stroke="#111" stroke-width="0.5"/>
<circle cx="176.9" cy="327" r="1.35" fill="none" stroke="#111" stroke-width="0.5"/>
<circle cx="178.23" cy="327" r="1.35" fill="none" stroke="#111" stroke-width="0.5"/>
<circle cx="179.89" cy="327" r="1.35" fill="none" stroke="#111" stroke-width="0.5"/>
<circle cx="176.27" cy="327" r="1.35" fill="none" stroke="#111" stroke-width="0.5"/>
<circle cx="176.6" cy="327" r="1.35" fill="none" stroke="#111" stroke-width="0.5"/>
<circle cx="173.91" cy="335.1" r="1.35" fill="none" stroke="#111" stroke-width="0.5"/>
<circle cx="175.24" cy="335.1" r="1.35" fill="none" stroke="#111" stroke-width="0.5"/>
<circle cx="176.9" cy="335.1" r="1.35" fill="none" stroke="#111" stroke-width="0.5"/>
<circle cx="177.9" cy="335.1" r="1.35" fill="none" stroke="#111" stroke-width="0.5"/>
<circle cx="179.89" cy="335.1" r="1.35" fill="none" stroke="#111" stroke-width="0.5"/>
<circle cx="176.55" cy="335.1" r="1.35" fill="none" stroke="#111" stroke-width="0.5"/>
<circle cx="176.88" cy="335.1" r="1.35" fill="none" stroke="#111" stroke-width="0.5"/>
<circle cx="172.25" cy="343.2" r="1.35" fill="none" stroke="#111" stroke-width="0.5"/>
<circle cx="173.91" cy="343.2" r="1.35" fill="none" stroke="#111" stroke-width="0.5"/>
<circle cx="175.57" cy="343.2" r="1.35" fill="none" stroke="#111" stroke-width="0.5"/>
<circle cx="176.9" cy="343.2" r="1.35" fill="none" stroke="#111" stroke-width="0.5"/>
<circle cx="178.23" cy="343.2" r="1.35" fill="none" stroke="#111" stroke-width="0.5"/>
<circle cx="179.56" cy="343.2" r="1.35" fill="none" stroke="#111" stroke-width="0.5"/>
<circle cx="181.22" cy="343.2" r="1.35" fill="none" stroke="#111" stroke-width="0.5"/>
<circle cx="177.43" cy="343.2" r="1.35" fill="none" stroke="#111" stroke-width="0.5"/>
<circle cx="177.76" cy="343.2" r="1.35" fill="none" stroke="#111" stroke-width="0.5"/>
<rect x="127.4" y="30.5" width="72" height="316.9" fill="none" stroke="#4e5256" stroke-width="0.7"/>
<line x1="137" x2="137" y1="347.4" y2="350.2" stroke="#333" stroke-width="0.5"/>
<text x="137" y="360" text-anchor="middle" font-size="10.3" fill="#0a0a0a">−6</text>
<line x1="150.3" x2="150.3" y1="347.4" y2="350.2" stroke="#333" stroke-width="0.5"/>
<text x="150.3" y="360" text-anchor="middle" font-size="10.3" fill="#0a0a0a">−4</text>
<line x1="163.6" x2="163.6" y1="347.4" y2="350.2" stroke="#333" stroke-width="0.5"/>
<text x="163.6" y="360" text-anchor="middle" font-size="10.3" fill="#0a0a0a">−2</text>
<line x1="176.9" x2="176.9" y1="347.4" y2="350.2" stroke="#333" stroke-width="0.5"/>
<text x="176.9" y="360" text-anchor="middle" font-size="10.3" fill="#0a0a0a">0</text>
<line x1="190.2" x2="190.2" y1="347.4" y2="350.2" stroke="#333" stroke-width="0.5"/>
<text x="190.2" y="360" text-anchor="middle" font-size="10.3" fill="#0a0a0a">2</text>
<rect x="205.55" y="30.5" width="73.05" height="316.9" fill="#fff" stroke="none"/>
<line x1="248.7" x2="248.7" y1="30.5" y2="347.4" stroke="#4a5058" stroke-width="0.4" stroke-dasharray="1.3 1.45"/>
<line x1="262" x2="262" y1="30.5" y2="347.4" stroke="#4a5058" stroke-width="0.4" stroke-dasharray="1.3 1.45"/>
<rect x="255.35" y="31.9" width="2" height="7" fill="#DACE93" stroke="#8f8f8f" stroke-width="0.3"/>
<rect x="255.35" y="40" width="1.33" height="7" fill="#DACE93" stroke="#8f8f8f" stroke-width="0.3"/>
<rect x="254.69" y="48.1" width="0.67" height="7" fill="#DACE93" stroke="#8f8f8f" stroke-width="0.3"/>
<rect x="254.02" y="56.2" width="1.33" height="7" fill="#DACE93" stroke="#8f8f8f" stroke-width="0.3"/>
<rect x="253.02" y="64.3" width="2.33" height="7" fill="#DACE93" stroke="#8f8f8f" stroke-width="0.3"/>
<rect x="254.35" y="72.4" width="1" height="7" fill="#DACE93" stroke="#8f8f8f" stroke-width="0.3"/>
<rect x="255.35" y="80.5" width="2.33" height="7" fill="#F5AF2A" stroke="#8f8f8f" stroke-width="0.3"/>
<rect x="255.15" y="88.6" width="0.2" height="7" fill="#F5AF2A" stroke="#8f8f8f" stroke-width="0.3"/>
<rect x="255.15" y="96.7" width="0.2" height="7" fill="#F5AF2A" stroke="#8f8f8f" stroke-width="0.3"/>
<rect x="249.7" y="104.8" width="5.65" height="7" fill="#F5AF2A" stroke="#8f8f8f" stroke-width="0.3"/>
<rect x="255.02" y="112.9" width="0.33" height="7" fill="#F5AF2A" stroke="#8f8f8f" stroke-width="0.3"/>
<rect x="255.02" y="121" width="0.33" height="7" fill="#F5AF2A" stroke="#8f8f8f" stroke-width="0.3"/>
<rect x="255.35" y="137.2" width="0.33" height="7" fill="#D1374D" stroke="#8f8f8f" stroke-width="0.3"/>
<rect x="255.35" y="145.3" width="1.33" height="7" fill="#D1374D" stroke="#8f8f8f" stroke-width="0.3"/>
<rect x="255.35" y="161.5" width="3.33" height="7" fill="#D1374D" stroke="#8f8f8f" stroke-width="0.3"/>
<rect x="255.35" y="169.6" width="3.33" height="7" fill="#D1374D" stroke="#8f8f8f" stroke-width="0.3"/>
<rect x="255.35" y="177.7" width="1.66" height="7" fill="#D1374D" stroke="#8f8f8f" stroke-width="0.3"/>
<rect x="255.35" y="185.8" width="1.66" height="7" fill="#D1374D" stroke="#8f8f8f" stroke-width="0.3"/>
<rect x="254.69" y="193.9" width="0.67" height="7" fill="#D1374D" stroke="#8f8f8f" stroke-width="0.3"/>
<rect x="255.35" y="202" width="1.33" height="7" fill="#D1374D" stroke="#8f8f8f" stroke-width="0.3"/>
<rect x="255.02" y="210.1" width="0.33" height="7" fill="#D1374D" stroke="#8f8f8f" stroke-width="0.3"/>
<rect x="255.15" y="218.2" width="0.2" height="7" fill="#D1374D" stroke="#8f8f8f" stroke-width="0.3"/>
<rect x="255.15" y="226.3" width="0.2" height="7" fill="#D1374D" stroke="#8f8f8f" stroke-width="0.3"/>
<rect x="255.35" y="234.4" width="0.2" height="7" fill="#D1374D" stroke="#8f8f8f" stroke-width="0.3"/>
<rect x="255.15" y="242.5" width="0.2" height="7" fill="#D1374D" stroke="#8f8f8f" stroke-width="0.3"/>
<rect x="255.35" y="250.6" width="0.2" height="7" fill="#D1374D" stroke="#8f8f8f" stroke-width="0.3"/>
<rect x="253.36" y="258.7" width="2" height="7" fill="#D1374D" stroke="#8f8f8f" stroke-width="0.3"/>
<rect x="255.02" y="266.8" width="0.33" height="7" fill="#54161C" stroke="#8f8f8f" stroke-width="0.3"/>
<rect x="255.35" y="283" width="0.2" height="7" fill="#54161C" stroke="#8f8f8f" stroke-width="0.3"/>
<rect x="255.35" y="291.1" width="1" height="7" fill="#54161C" stroke="#8f8f8f" stroke-width="0.3"/>
<rect x="255.02" y="307.3" width="0.33" height="7" fill="#54161C" stroke="#8f8f8f" stroke-width="0.3"/>
<rect x="251.03" y="315.4" width="4.32" height="7" fill="#54161C" stroke="#8f8f8f" stroke-width="0.3"/>
<rect x="254.69" y="323.5" width="0.67" height="7" fill="#54161C" stroke="#8f8f8f" stroke-width="0.3"/>
<rect x="251.03" y="331.6" width="4.32" height="7" fill="#54161C" stroke="#8f8f8f" stroke-width="0.3"/>
<line x1="255.35" x2="255.35" y1="30.5" y2="347.4" stroke="#222" stroke-width="0.7"/>
<circle cx="256.68" cy="35.4" r="1.35" fill="none" stroke="#5a5a5a" stroke-width="0.5"/>
<line x1="256.68" x2="256.68" y1="32.8" y2="38" stroke="#5a5a5a" stroke-width="0.45"/>
<circle cx="257.68" cy="35.4" r="1.35" fill="none" stroke="#5a5a5a" stroke-width="0.5"/>
<line x1="257.68" x2="257.68" y1="32.8" y2="38" stroke="#5a5a5a" stroke-width="0.45"/>
<circle cx="258.34" cy="35.4" r="1.35" fill="none" stroke="#5a5a5a" stroke-width="0.5"/>
<line x1="258.34" x2="258.34" y1="32.8" y2="38" stroke="#5a5a5a" stroke-width="0.45"/>
<circle cx="259.34" cy="35.4" r="1.35" fill="none" stroke="#5a5a5a" stroke-width="0.5"/>
<line x1="259.34" x2="259.34" y1="32.8" y2="38" stroke="#5a5a5a" stroke-width="0.45"/>
<circle cx="256.02" cy="43.5" r="1.35" fill="none" stroke="#5a5a5a" stroke-width="0.5"/>
<line x1="256.02" x2="256.02" y1="40.9" y2="46.1" stroke="#5a5a5a" stroke-width="0.45"/>
<circle cx="256.68" cy="43.5" r="1.35" fill="none" stroke="#5a5a5a" stroke-width="0.5"/>
<line x1="256.68" x2="256.68" y1="40.9" y2="46.1" stroke="#5a5a5a" stroke-width="0.45"/>
<circle cx="257.68" cy="43.5" r="1.35" fill="none" stroke="#5a5a5a" stroke-width="0.5"/>
<line x1="257.68" x2="257.68" y1="40.9" y2="46.1" stroke="#5a5a5a" stroke-width="0.45"/>
<circle cx="258.34" cy="43.5" r="1.35" fill="none" stroke="#5a5a5a" stroke-width="0.5"/>
<line x1="258.34" x2="258.34" y1="40.9" y2="46.1" stroke="#5a5a5a" stroke-width="0.45"/>
<circle cx="254.02" cy="51.6" r="1.35" fill="none" stroke="#111" stroke-width="0.5"/>
<line x1="254.02" x2="254.02" y1="49" y2="54.2" stroke="#111" stroke-width="0.45"/>
<circle cx="255.35" cy="51.6" r="1.35" fill="none" stroke="#111" stroke-width="0.5"/>
<line x1="255.35" x2="255.35" y1="49" y2="54.2" stroke="#111" stroke-width="0.45"/>
<circle cx="253.36" cy="59.7" r="1.35" fill="none" stroke="#111" stroke-width="0.5"/>
<line x1="253.36" x2="253.36" y1="57.1" y2="62.3" stroke="#111" stroke-width="0.45"/>
<circle cx="254.69" cy="59.7" r="1.35" fill="none" stroke="#111" stroke-width="0.5"/>
<line x1="254.69" x2="254.69" y1="57.1" y2="62.3" stroke="#111" stroke-width="0.45"/>
<path d="M251.36 67.8H254.69M251.36 64.6v6.4M254.69 64.6v6.4" stroke="#5a5a5a" stroke-width="0.55" fill="none"/>
<circle cx="251.36" cy="67.8" r="1.35" fill="none" stroke="#5a5a5a" stroke-width="0.5"/>
<circle cx="253.69" cy="67.8" r="1.35" fill="none" stroke="#5a5a5a" stroke-width="0.5"/>
<circle cx="253.36" cy="75.9" r="1.35" fill="none" stroke="#111" stroke-width="0.5"/>
<line x1="253.36" x2="253.36" y1="73.3" y2="78.5" stroke="#111" stroke-width="0.45"/>
<circle cx="254.69" cy="75.9" r="1.35" fill="none" stroke="#111" stroke-width="0.5"/>
<line x1="254.69" x2="254.69" y1="73.3" y2="78.5" stroke="#111" stroke-width="0.45"/>
<circle cx="256.68" cy="84" r="1.35" fill="none" stroke="#5a5a5a" stroke-width="0.5"/>
<line x1="256.68" x2="256.68" y1="81.4" y2="86.6" stroke="#5a5a5a" stroke-width="0.45"/>
<circle cx="257.68" cy="84" r="1.35" fill="none" stroke="#5a5a5a" stroke-width="0.5"/>
<line x1="257.68" x2="257.68" y1="81.4" y2="86.6" stroke="#5a5a5a" stroke-width="0.45"/>
<circle cx="258.68" cy="84" r="1.35" fill="none" stroke="#5a5a5a" stroke-width="0.5"/>
<line x1="258.68" x2="258.68" y1="81.4" y2="86.6" stroke="#5a5a5a" stroke-width="0.45"/>
<circle cx="259.34" cy="84" r="1.35" fill="none" stroke="#5a5a5a" stroke-width="0.5"/>
<line x1="259.34" x2="259.34" y1="81.4" y2="86.6" stroke="#5a5a5a" stroke-width="0.45"/>
<circle cx="254.35" cy="92.1" r="1.35" fill="none" stroke="#111" stroke-width="0.5"/>
<line x1="254.35" x2="254.35" y1="89.5" y2="94.7" stroke="#111" stroke-width="0.45"/>
<circle cx="255.68" cy="92.1" r="1.35" fill="none" stroke="#111" stroke-width="0.5"/>
<line x1="255.68" x2="255.68" y1="89.5" y2="94.7" stroke="#111" stroke-width="0.45"/>
<circle cx="254.35" cy="100.2" r="1.35" fill="none" stroke="#111" stroke-width="0.5"/>
<line x1="254.35" x2="254.35" y1="97.6" y2="102.8" stroke="#111" stroke-width="0.45"/>
<circle cx="255.68" cy="100.2" r="1.35" fill="none" stroke="#111" stroke-width="0.5"/>
<line x1="255.68" x2="255.68" y1="97.6" y2="102.8" stroke="#111" stroke-width="0.45"/>
<path d="M245.38 108.3H254.02M245.38 105.1v6.4M254.02 105.1v6.4" stroke="#111" stroke-width="0.55" fill="none"/>
<circle cx="245.38" cy="108.3" r="1.35" fill="none" stroke="#111" stroke-width="0.5"/>
<circle cx="253.69" cy="108.3" r="1.35" fill="none" stroke="#111" stroke-width="0.5"/>
<circle cx="254.02" cy="116.4" r="1.35" fill="none" stroke="#111" stroke-width="0.5"/>
<line x1="254.02" x2="254.02" y1="113.8" y2="119" stroke="#111" stroke-width="0.45"/>
<circle cx="255.35" cy="116.4" r="1.35" fill="none" stroke="#111" stroke-width="0.5"/>
<line x1="255.35" x2="255.35" y1="113.8" y2="119" stroke="#111" stroke-width="0.45"/>
<circle cx="254.02" cy="124.5" r="1.35" fill="none" stroke="#111" stroke-width="0.5"/>
<line x1="254.02" x2="254.02" y1="121.9" y2="127.1" stroke="#111" stroke-width="0.45"/>
<circle cx="255.35" cy="124.5" r="1.35" fill="none" stroke="#111" stroke-width="0.5"/>
<line x1="255.35" x2="255.35" y1="121.9" y2="127.1" stroke="#111" stroke-width="0.45"/>
<circle cx="255.02" cy="132.6" r="1.35" fill="none" stroke="#111" stroke-width="0.5"/>
<line x1="255.02" x2="255.02" y1="130" y2="135.2" stroke="#111" stroke-width="0.45"/>
<circle cx="255.68" cy="132.6" r="1.35" fill="none" stroke="#111" stroke-width="0.5"/>
<line x1="255.68" x2="255.68" y1="130" y2="135.2" stroke="#111" stroke-width="0.45"/>
<circle cx="255.35" cy="140.7" r="1.35" fill="none" stroke="#111" stroke-width="0.5"/>
<line x1="255.35" x2="255.35" y1="138.1" y2="143.3" stroke="#111" stroke-width="0.45"/>
<circle cx="256.35" cy="140.7" r="1.35" fill="none" stroke="#111" stroke-width="0.5"/>
<line x1="256.35" x2="256.35" y1="138.1" y2="143.3" stroke="#111" stroke-width="0.45"/>
<circle cx="256.02" cy="148.8" r="1.35" fill="none" stroke="#111" stroke-width="0.5"/>
<line x1="256.02" x2="256.02" y1="146.2" y2="151.4" stroke="#111" stroke-width="0.45"/>
<circle cx="257.35" cy="148.8" r="1.35" fill="none" stroke="#111" stroke-width="0.5"/>
<line x1="257.35" x2="257.35" y1="146.2" y2="151.4" stroke="#111" stroke-width="0.45"/>
<circle cx="255.02" cy="156.9" r="1.35" fill="none" stroke="#111" stroke-width="0.5"/>
<line x1="255.02" x2="255.02" y1="154.3" y2="159.5" stroke="#111" stroke-width="0.45"/>
<circle cx="255.68" cy="156.9" r="1.35" fill="none" stroke="#111" stroke-width="0.5"/>
<line x1="255.68" x2="255.68" y1="154.3" y2="159.5" stroke="#111" stroke-width="0.45"/>
<path d="M252.03 165H265.99M252.03 161.8v6.4M265.99 161.8v6.4" stroke="#5a5a5a" stroke-width="0.55" fill="none"/>
<circle cx="252.03" cy="165" r="1.35" fill="none" stroke="#5a5a5a" stroke-width="0.5"/>
<circle cx="265.99" cy="165" r="1.35" fill="none" stroke="#5a5a5a" stroke-width="0.5"/>
<path d="M252.03 173.1H265.99M252.03 169.9v6.4M265.99 169.9v6.4" stroke="#5a5a5a" stroke-width="0.55" fill="none"/>
<circle cx="252.03" cy="173.1" r="1.35" fill="none" stroke="#5a5a5a" stroke-width="0.5"/>
<circle cx="265.99" cy="173.1" r="1.35" fill="none" stroke="#5a5a5a" stroke-width="0.5"/>
<circle cx="256.35" cy="181.2" r="1.35" fill="none" stroke="#111" stroke-width="0.5"/>
<line x1="256.35" x2="256.35" y1="178.6" y2="183.8" stroke="#111" stroke-width="0.45"/>
<circle cx="258.68" cy="181.2" r="1.35" fill="none" stroke="#111" stroke-width="0.5"/>
<line x1="258.68" x2="258.68" y1="178.6" y2="183.8" stroke="#111" stroke-width="0.45"/>
<circle cx="256.68" cy="189.3" r="1.35" fill="none" stroke="#111" stroke-width="0.5"/>
<line x1="256.68" x2="256.68" y1="186.7" y2="191.9" stroke="#111" stroke-width="0.45"/>
<circle cx="258.01" cy="189.3" r="1.35" fill="none" stroke="#111" stroke-width="0.5"/>
<line x1="258.01" x2="258.01" y1="186.7" y2="191.9" stroke="#111" stroke-width="0.45"/>
<circle cx="254.02" cy="197.4" r="1.35" fill="none" stroke="#111" stroke-width="0.5"/>
<line x1="254.02" x2="254.02" y1="194.8" y2="200" stroke="#111" stroke-width="0.45"/>
<circle cx="255.02" cy="197.4" r="1.35" fill="none" stroke="#111" stroke-width="0.5"/>
<line x1="255.02" x2="255.02" y1="194.8" y2="200" stroke="#111" stroke-width="0.45"/>
<circle cx="256.02" cy="205.5" r="1.35" fill="none" stroke="#111" stroke-width="0.5"/>
<line x1="256.02" x2="256.02" y1="202.9" y2="208.1" stroke="#111" stroke-width="0.45"/>
<circle cx="258.01" cy="205.5" r="1.35" fill="none" stroke="#111" stroke-width="0.5"/>
<line x1="258.01" x2="258.01" y1="202.9" y2="208.1" stroke="#111" stroke-width="0.45"/>
<circle cx="254.35" cy="213.6" r="1.35" fill="none" stroke="#111" stroke-width="0.5"/>
<line x1="254.35" x2="254.35" y1="211" y2="216.2" stroke="#111" stroke-width="0.45"/>
<circle cx="255.02" cy="213.6" r="1.35" fill="none" stroke="#111" stroke-width="0.5"/>
<line x1="255.02" x2="255.02" y1="211" y2="216.2" stroke="#111" stroke-width="0.45"/>
<circle cx="254.69" cy="221.7" r="1.35" fill="none" stroke="#111" stroke-width="0.5"/>
<line x1="254.69" x2="254.69" y1="219.1" y2="224.3" stroke="#111" stroke-width="0.45"/>
<circle cx="255.35" cy="221.7" r="1.35" fill="none" stroke="#111" stroke-width="0.5"/>
<line x1="255.35" x2="255.35" y1="219.1" y2="224.3" stroke="#111" stroke-width="0.45"/>
<circle cx="254.02" cy="229.8" r="1.35" fill="none" stroke="#111" stroke-width="0.5"/>
<line x1="254.02" x2="254.02" y1="227.2" y2="232.4" stroke="#111" stroke-width="0.45"/>
<circle cx="254.69" cy="229.8" r="1.35" fill="none" stroke="#111" stroke-width="0.5"/>
<line x1="254.69" x2="254.69" y1="227.2" y2="232.4" stroke="#111" stroke-width="0.45"/>
<circle cx="255.35" cy="229.8" r="1.35" fill="none" stroke="#111" stroke-width="0.5"/>
<line x1="255.35" x2="255.35" y1="227.2" y2="232.4" stroke="#111" stroke-width="0.45"/>
<circle cx="255.68" cy="229.8" r="1.35" fill="none" stroke="#111" stroke-width="0.5"/>
<line x1="255.68" x2="255.68" y1="227.2" y2="232.4" stroke="#111" stroke-width="0.45"/>
<circle cx="255.35" cy="237.9" r="1.35" fill="none" stroke="#111" stroke-width="0.5"/>
<line x1="255.35" x2="255.35" y1="235.3" y2="240.5" stroke="#111" stroke-width="0.45"/>
<circle cx="256.02" cy="237.9" r="1.35" fill="none" stroke="#111" stroke-width="0.5"/>
<line x1="256.02" x2="256.02" y1="235.3" y2="240.5" stroke="#111" stroke-width="0.45"/>
<circle cx="254.69" cy="246" r="1.35" fill="none" stroke="#111" stroke-width="0.5"/>
<line x1="254.69" x2="254.69" y1="243.4" y2="248.6" stroke="#111" stroke-width="0.45"/>
<circle cx="255.35" cy="246" r="1.35" fill="none" stroke="#111" stroke-width="0.5"/>
<line x1="255.35" x2="255.35" y1="243.4" y2="248.6" stroke="#111" stroke-width="0.45"/>
<circle cx="255.35" cy="254.1" r="1.35" fill="none" stroke="#111" stroke-width="0.5"/>
<line x1="255.35" x2="255.35" y1="251.5" y2="256.7" stroke="#111" stroke-width="0.45"/>
<circle cx="256.02" cy="254.1" r="1.35" fill="none" stroke="#111" stroke-width="0.5"/>
<line x1="256.02" x2="256.02" y1="251.5" y2="256.7" stroke="#111" stroke-width="0.45"/>
<circle cx="252.36" cy="262.2" r="1.35" fill="none" stroke="#5a5a5a" stroke-width="0.5"/>
<line x1="252.36" x2="252.36" y1="259.6" y2="264.8" stroke="#5a5a5a" stroke-width="0.45"/>
<circle cx="254.02" cy="262.2" r="1.35" fill="none" stroke="#5a5a5a" stroke-width="0.5"/>
<line x1="254.02" x2="254.02" y1="259.6" y2="264.8" stroke="#5a5a5a" stroke-width="0.45"/>
<circle cx="254.35" cy="270.3" r="1.35" fill="none" stroke="#111" stroke-width="0.5"/>
<line x1="254.35" x2="254.35" y1="267.7" y2="272.9" stroke="#111" stroke-width="0.45"/>
<circle cx="255.02" cy="270.3" r="1.35" fill="none" stroke="#111" stroke-width="0.5"/>
<line x1="255.02" x2="255.02" y1="267.7" y2="272.9" stroke="#111" stroke-width="0.45"/>
<circle cx="255.35" cy="286.5" r="1.35" fill="none" stroke="#111" stroke-width="0.5"/>
<line x1="255.35" x2="255.35" y1="283.9" y2="289.1" stroke="#111" stroke-width="0.45"/>
<circle cx="256.02" cy="286.5" r="1.35" fill="none" stroke="#111" stroke-width="0.5"/>
<line x1="256.02" x2="256.02" y1="283.9" y2="289.1" stroke="#111" stroke-width="0.45"/>
<circle cx="255.68" cy="294.6" r="1.35" fill="none" stroke="#111" stroke-width="0.5"/>
<line x1="255.68" x2="255.68" y1="292" y2="297.2" stroke="#111" stroke-width="0.45"/>
<circle cx="257.35" cy="294.6" r="1.35" fill="none" stroke="#111" stroke-width="0.5"/>
<line x1="257.35" x2="257.35" y1="292" y2="297.2" stroke="#111" stroke-width="0.45"/>
<circle cx="252.69" cy="310.8" r="1.35" fill="none" stroke="#111" stroke-width="0.5"/>
<line x1="252.69" x2="252.69" y1="308.2" y2="313.4" stroke="#111" stroke-width="0.45"/>
<circle cx="254.02" cy="310.8" r="1.35" fill="none" stroke="#111" stroke-width="0.5"/>
<line x1="254.02" x2="254.02" y1="308.2" y2="313.4" stroke="#111" stroke-width="0.45"/>
<circle cx="255.35" cy="310.8" r="1.35" fill="none" stroke="#111" stroke-width="0.5"/>
<line x1="255.35" x2="255.35" y1="308.2" y2="313.4" stroke="#111" stroke-width="0.45"/>
<circle cx="255.68" cy="310.8" r="1.35" fill="none" stroke="#111" stroke-width="0.5"/>
<line x1="255.68" x2="255.68" y1="308.2" y2="313.4" stroke="#111" stroke-width="0.45"/>
<path d="M248.37 318.9H253.69M248.37 315.7v6.4M253.69 315.7v6.4" stroke="#111" stroke-width="0.55" fill="none"/>
<circle cx="248.37" cy="318.9" r="1.35" fill="none" stroke="#111" stroke-width="0.5"/>
<circle cx="252.69" cy="318.9" r="1.35" fill="none" stroke="#111" stroke-width="0.5"/>
<circle cx="251.36" cy="327" r="1.35" fill="none" stroke="#111" stroke-width="0.5"/>
<line x1="251.36" x2="251.36" y1="324.4" y2="329.6" stroke="#111" stroke-width="0.45"/>
<circle cx="253.36" cy="327" r="1.35" fill="none" stroke="#111" stroke-width="0.5"/>
<line x1="253.36" x2="253.36" y1="324.4" y2="329.6" stroke="#111" stroke-width="0.45"/>
<circle cx="255.35" cy="327" r="1.35" fill="none" stroke="#111" stroke-width="0.5"/>
<line x1="255.35" x2="255.35" y1="324.4" y2="329.6" stroke="#111" stroke-width="0.45"/>
<circle cx="255.68" cy="327" r="1.35" fill="none" stroke="#111" stroke-width="0.5"/>
<line x1="255.68" x2="255.68" y1="324.4" y2="329.6" stroke="#111" stroke-width="0.45"/>
<path d="M248.37 335.1H253.69M248.37 331.9v6.4M253.69 331.9v6.4" stroke="#111" stroke-width="0.55" fill="none"/>
<circle cx="248.37" cy="335.1" r="1.35" fill="none" stroke="#111" stroke-width="0.5"/>
<circle cx="252.69" cy="335.1" r="1.35" fill="none" stroke="#111" stroke-width="0.5"/>
<rect x="205.55" y="30.5" width="73.05" height="316.9" fill="none" stroke="#4e5256" stroke-width="0.7"/>
<line x1="215.45" x2="215.45" y1="347.4" y2="350.2" stroke="#333" stroke-width="0.5"/>
<text x="215.45" y="360" text-anchor="middle" font-size="10.3" fill="#0a0a0a">−6</text>
<line x1="228.75" x2="228.75" y1="347.4" y2="350.2" stroke="#333" stroke-width="0.5"/>
<text x="228.75" y="360" text-anchor="middle" font-size="10.3" fill="#0a0a0a">−4</text>
<line x1="242.05" x2="242.05" y1="347.4" y2="350.2" stroke="#333" stroke-width="0.5"/>
<text x="242.05" y="360" text-anchor="middle" font-size="10.3" fill="#0a0a0a">−2</text>
<line x1="255.35" x2="255.35" y1="347.4" y2="350.2" stroke="#333" stroke-width="0.5"/>
<text x="255.35" y="360" text-anchor="middle" font-size="10.3" fill="#0a0a0a">0</text>
<line x1="268.65" x2="268.65" y1="347.4" y2="350.2" stroke="#333" stroke-width="0.5"/>
<text x="268.65" y="360" text-anchor="middle" font-size="10.3" fill="#0a0a0a">2</text>
<text x="62.0" y="27.6" font-size="11.1" font-weight="bold" fill="#111">ActD</text>
<text x="133.5" y="27.6" font-size="11.1" font-weight="bold" fill="#111">NVP-2</text>
<text x="226.9" y="27.6" font-size="11.1" font-weight="bold" fill="#111">Trp</text>
<text x="61.5" y="372.9" font-size="10.85" fill="#1a1a1a">Log2 Ac ratio (Inhibitor treated / Control)</text>
<rect x="0" y="404.4" width="14.5" height="55.29" fill="#D9CE8F" stroke="#9a9a8a" stroke-width="0.4"/>
<text transform="translate(10.6,432.04) rotate(-90)" text-anchor="middle" font-size="10" fill="#1a1a1a">H4</text>
<line x1="0" x2="14.7" y1="460.38" y2="460.38" stroke="#e2e2e2" stroke-width="1.0"/>
<line x1="14.7" x2="48.5" y1="460.38" y2="460.38" stroke="#c4c4c4" stroke-width="0.8"/>
<rect x="0" y="461.08" width="14.5" height="55.23" fill="#FCAF21" stroke="#9a9a8a" stroke-width="0.4"/>
<text transform="translate(10.6,488.7) rotate(-90)" text-anchor="middle" font-size="10" fill="#1a1a1a">H3</text>
<line x1="0" x2="14.7" y1="517.01" y2="517.01" stroke="#c0c0c0" stroke-width="1.5"/>
<line x1="14.7" x2="48.5" y1="517.01" y2="517.01" stroke="#e4e4e4" stroke-width="1.0"/>
<rect x="0" y="517.72" width="14.5" height="119.95" fill="#D21E4B" stroke="#9a9a8a" stroke-width="0.4"/>
<text transform="translate(10.6,577.69) rotate(-90)" text-anchor="middle" font-size="10" fill="#fff">H2B</text>
<line x1="0" x2="14.7" y1="638.37" y2="638.37" stroke="#e2e2e2" stroke-width="1.0"/>
<line x1="14.7" x2="48.5" y1="638.37" y2="638.37" stroke="#c8c8c8" stroke-width="0.8"/>
<rect x="0" y="639.07" width="14.5" height="79.43" fill="#54101C" stroke="#9a9a8a" stroke-width="0.4"/>
<text transform="translate(10.6,678.78) rotate(-90)" text-anchor="middle" font-size="10" fill="#fff">H2A</text>
<text x="44.1" y="411.2" text-anchor="end" font-size="9.8" fill="#0a0a0a">K91</text>
<line x1="45.7" x2="48.5" y1="407.8" y2="407.8" stroke="#333" stroke-width="0.6"/>
<text x="44.1" y="419.29" text-anchor="end" font-size="9.8" fill="#0a0a0a">K77</text>
<line x1="45.7" x2="48.5" y1="415.89" y2="415.89" stroke="#333" stroke-width="0.6"/>
<text x="44.1" y="427.38" text-anchor="end" font-size="9.8" fill="#0a0a0a">K59</text>
<line x1="45.7" x2="48.5" y1="423.98" y2="423.98" stroke="#333" stroke-width="0.6"/>
<text x="44.1" y="435.47" text-anchor="end" font-size="9.8" fill="#0a0a0a">K16</text>
<line x1="45.7" x2="48.5" y1="432.07" y2="432.07" stroke="#333" stroke-width="0.6"/>
<text x="44.1" y="443.56" text-anchor="end" font-size="9.8" fill="#0a0a0a">K12</text>
<line x1="45.7" x2="48.5" y1="440.16" y2="440.16" stroke="#333" stroke-width="0.6"/>
<text x="44.1" y="451.65" text-anchor="end" font-size="9.8" fill="#0a0a0a">K8</text>
<line x1="45.7" x2="48.5" y1="448.25" y2="448.25" stroke="#333" stroke-width="0.6"/>
<text x="44.1" y="459.74" text-anchor="end" font-size="9.8" fill="#0a0a0a">K5</text>
<line x1="45.7" x2="48.5" y1="456.34" y2="456.34" stroke="#333" stroke-width="0.6"/>
<text x="44.1" y="467.83" text-anchor="end" font-size="9.8" fill="#0a0a0a">K79</text>
<line x1="45.7" x2="48.5" y1="464.43" y2="464.43" stroke="#333" stroke-width="0.6"/>
<text x="44.1" y="475.92" text-anchor="end" font-size="9.8" fill="#0a0a0a">K36</text>
<line x1="45.7" x2="48.5" y1="472.52" y2="472.52" stroke="#333" stroke-width="0.6"/>
<text x="44.1" y="484.01" text-anchor="end" font-size="9.8" fill="#0a0a0a">K27</text>
<line x1="45.7" x2="48.5" y1="480.61" y2="480.61" stroke="#333" stroke-width="0.6"/>
<text x="44.1" y="492.1" text-anchor="end" font-size="9.8" fill="#0a0a0a">K23</text>
<line x1="45.7" x2="48.5" y1="488.7" y2="488.7" stroke="#333" stroke-width="0.6"/>
<text x="44.1" y="500.19" text-anchor="end" font-size="9.8" fill="#0a0a0a">K18</text>
<line x1="45.7" x2="48.5" y1="496.79" y2="496.79" stroke="#333" stroke-width="0.6"/>
<text x="44.1" y="508.28" text-anchor="end" font-size="9.8" fill="#0a0a0a">K14</text>
<line x1="45.7" x2="48.5" y1="504.88" y2="504.88" stroke="#333" stroke-width="0.6"/>
<text x="44.1" y="516.37" text-anchor="end" font-size="9.8" fill="#0a0a0a">K9</text>
<line x1="45.7" x2="48.5" y1="512.97" y2="512.97" stroke="#333" stroke-width="0.6"/>
<text x="44.1" y="524.46" text-anchor="end" font-size="9.8" fill="#0a0a0a">K120</text>
<line x1="45.7" x2="48.5" y1="521.06" y2="521.06" stroke="#333" stroke-width="0.6"/>
<text x="44.1" y="532.55" text-anchor="end" font-size="9.8" fill="#0a0a0a">K116</text>
<line x1="45.7" x2="48.5" y1="529.15" y2="529.15" stroke="#333" stroke-width="0.6"/>
<text x="44.1" y="540.64" text-anchor="end" font-size="9.8" fill="#0a0a0a">K108</text>
<line x1="45.7" x2="48.5" y1="537.24" y2="537.24" stroke="#333" stroke-width="0.6"/>
<text x="44.1" y="548.73" text-anchor="end" font-size="9.8" fill="#0a0a0a">K85</text>
<line x1="45.7" x2="48.5" y1="545.33" y2="545.33" stroke="#333" stroke-width="0.6"/>
<text x="44.1" y="556.82" text-anchor="end" font-size="9.8" fill="#0a0a0a">K47</text>
<line x1="45.7" x2="48.5" y1="553.42" y2="553.42" stroke="#333" stroke-width="0.6"/>
<text x="44.1" y="564.91" text-anchor="end" font-size="9.8" fill="#0a0a0a">K46</text>
<line x1="45.7" x2="48.5" y1="561.51" y2="561.51" stroke="#333" stroke-width="0.6"/>
<text x="44.1" y="573" text-anchor="end" font-size="9.8" fill="#0a0a0a">K24</text>
<line x1="45.7" x2="48.5" y1="569.6" y2="569.6" stroke="#333" stroke-width="0.6"/>
<text x="44.1" y="581.09" text-anchor="end" font-size="9.8" fill="#0a0a0a">K23</text>
<line x1="45.7" x2="48.5" y1="577.69" y2="577.69" stroke="#333" stroke-width="0.6"/>
<text x="44.1" y="589.18" text-anchor="end" font-size="9.8" fill="#0a0a0a">K21</text>
<line x1="45.7" x2="48.5" y1="585.78" y2="585.78" stroke="#333" stroke-width="0.6"/>
<text x="44.1" y="597.27" text-anchor="end" font-size="9.8" fill="#0a0a0a">K20</text>
<line x1="45.7" x2="48.5" y1="593.87" y2="593.87" stroke="#333" stroke-width="0.6"/>
<text x="44.1" y="605.36" text-anchor="end" font-size="9.8" fill="#0a0a0a">K16</text>
<line x1="45.7" x2="48.5" y1="601.96" y2="601.96" stroke="#333" stroke-width="0.6"/>
<text x="44.1" y="613.45" text-anchor="end" font-size="9.8" fill="#0a0a0a">K15</text>
<line x1="45.7" x2="48.5" y1="610.05" y2="610.05" stroke="#333" stroke-width="0.6"/>
<text x="44.1" y="621.54" text-anchor="end" font-size="9.8" fill="#0a0a0a">K12</text>
<line x1="45.7" x2="48.5" y1="618.14" y2="618.14" stroke="#333" stroke-width="0.6"/>
<text x="44.1" y="629.63" text-anchor="end" font-size="9.8" fill="#0a0a0a">K11</text>
<line x1="45.7" x2="48.5" y1="626.23" y2="626.23" stroke="#333" stroke-width="0.6"/>
<text x="44.1" y="637.72" text-anchor="end" font-size="9.8" fill="#0a0a0a">K5</text>
<line x1="45.7" x2="48.5" y1="634.32" y2="634.32" stroke="#333" stroke-width="0.6"/>
<text x="44.1" y="645.81" text-anchor="end" font-size="9.8" fill="#0a0a0a">K133</text>
<line x1="45.7" x2="48.5" y1="642.41" y2="642.41" stroke="#333" stroke-width="0.6"/>
<text x="44.1" y="653.9" text-anchor="end" font-size="9.8" fill="#0a0a0a">K124</text>
<line x1="45.7" x2="48.5" y1="650.5" y2="650.5" stroke="#333" stroke-width="0.6"/>
<text x="44.1" y="661.99" text-anchor="end" font-size="9.8" fill="#0a0a0a">K115</text>
<line x1="45.7" x2="48.5" y1="658.59" y2="658.59" stroke="#333" stroke-width="0.6"/>
<text x="44.1" y="670.08" text-anchor="end" font-size="9.8" fill="#0a0a0a">K95</text>
<line x1="45.7" x2="48.5" y1="666.68" y2="666.68" stroke="#333" stroke-width="0.6"/>
<text x="44.1" y="678.17" text-anchor="end" font-size="9.8" fill="#0a0a0a">K13</text>
<line x1="45.7" x2="48.5" y1="674.77" y2="674.77" stroke="#333" stroke-width="0.6"/>
<text x="44.1" y="686.26" text-anchor="end" font-size="9.8" fill="#0a0a0a">K11</text>
<line x1="45.7" x2="48.5" y1="682.86" y2="682.86" stroke="#333" stroke-width="0.6"/>
<text x="44.1" y="694.35" text-anchor="end" font-size="9.8" fill="#0a0a0a">K9</text>
<line x1="45.7" x2="48.5" y1="690.95" y2="690.95" stroke="#333" stroke-width="0.6"/>
<text x="44.1" y="702.44" text-anchor="end" font-size="9.8" fill="#0a0a0a">K7</text>
<line x1="45.7" x2="48.5" y1="699.04" y2="699.04" stroke="#333" stroke-width="0.6"/>
<text x="44.1" y="710.53" text-anchor="end" font-size="9.8" fill="#0a0a0a">K5</text>
<line x1="45.7" x2="48.5" y1="707.13" y2="707.13" stroke="#333" stroke-width="0.6"/>
<text x="44.1" y="718.62" text-anchor="end" font-size="9.8" fill="#0a0a0a">K4</text>
<line x1="45.7" x2="48.5" y1="715.22" y2="715.22" stroke="#333" stroke-width="0.6"/>
<rect x="48.5" y="403" width="83.95" height="316.6" fill="#fff" stroke="none"/>
<line x1="97.9" x2="97.9" y1="403" y2="719.6" stroke="#4a5058" stroke-width="0.4" stroke-dasharray="1.3 1.45"/>
<line x1="113.3" x2="113.3" y1="403" y2="719.6" stroke="#4a5058" stroke-width="0.4" stroke-dasharray="1.3 1.45"/>
<rect x="105.6" y="404.2" width="0.39" height="7.2" fill="#D9CE8F" stroke="#8f8f8f" stroke-width="0.3"/>
<rect x="105.6" y="428.47" width="1.54" height="7.2" fill="#D9CE8F" stroke="#8f8f8f" stroke-width="0.3"/>
<rect x="105.6" y="436.56" width="0.77" height="7.2" fill="#D9CE8F" stroke="#8f8f8f" stroke-width="0.3"/>
<rect x="101.13" y="444.65" width="4.47" height="7.2" fill="#D9CE8F" stroke="#8f8f8f" stroke-width="0.3"/>
<rect x="105.6" y="460.83" width="0.39" height="7.2" fill="#FCAF21" stroke="#8f8f8f" stroke-width="0.3"/>
<rect x="105.6" y="468.92" width="5.78" height="7.2" fill="#FCAF21" stroke="#8f8f8f" stroke-width="0.3"/>
<rect x="103.52" y="477.01" width="2.08" height="7.2" fill="#FCAF21" stroke="#8f8f8f" stroke-width="0.3"/>
<rect x="105.6" y="485.1" width="0.39" height="7.2" fill="#FCAF21" stroke="#8f8f8f" stroke-width="0.3"/>
<rect x="102.75" y="493.19" width="2.85" height="7.2" fill="#FCAF21" stroke="#8f8f8f" stroke-width="0.3"/>
<rect x="105.6" y="501.28" width="0.39" height="7.2" fill="#FCAF21" stroke="#8f8f8f" stroke-width="0.3"/>
<rect x="103.52" y="509.37" width="2.08" height="7.2" fill="#FCAF21" stroke="#8f8f8f" stroke-width="0.3"/>
<rect x="105.6" y="517.46" width="1.93" height="7.2" fill="#D21E4B" stroke="#8f8f8f" stroke-width="0.3"/>
<rect x="103.83" y="525.55" width="1.77" height="7.2" fill="#D21E4B" stroke="#8f8f8f" stroke-width="0.3"/>
<rect x="105.6" y="533.64" width="0.77" height="7.2" fill="#D21E4B" stroke="#8f8f8f" stroke-width="0.3"/>
<rect x="105.6" y="549.82" width="0.23" height="7.2" fill="#D21E4B" stroke="#8f8f8f" stroke-width="0.3"/>
<rect x="105.6" y="557.91" width="0.23" height="7.2" fill="#D21E4B" stroke="#8f8f8f" stroke-width="0.3"/>
<rect x="101.13" y="566" width="4.47" height="7.2" fill="#D21E4B" stroke="#8f8f8f" stroke-width="0.3"/>
<rect x="101.13" y="574.09" width="4.47" height="7.2" fill="#D21E4B" stroke="#8f8f8f" stroke-width="0.3"/>
<rect x="101.13" y="582.18" width="4.47" height="7.2" fill="#D21E4B" stroke="#8f8f8f" stroke-width="0.3"/>
<rect x="101.6" y="590.27" width="4" height="7.2" fill="#D21E4B" stroke="#8f8f8f" stroke-width="0.3"/>
<rect x="100.29" y="598.36" width="5.31" height="7.2" fill="#D21E4B" stroke="#8f8f8f" stroke-width="0.3"/>
<rect x="101.13" y="606.45" width="4.47" height="7.2" fill="#D21E4B" stroke="#8f8f8f" stroke-width="0.3"/>
<rect x="94.05" y="614.54" width="11.55" height="7.2" fill="#D21E4B" stroke="#8f8f8f" stroke-width="0.3"/>
<rect x="97.9" y="622.63" width="7.7" height="7.2" fill="#D21E4B" stroke="#8f8f8f" stroke-width="0.3"/>
<rect x="103.29" y="630.72" width="2.31" height="7.2" fill="#D21E4B" stroke="#8f8f8f" stroke-width="0.3"/>
<rect x="105.6" y="638.81" width="1.39" height="7.2" fill="#54101C" stroke="#8f8f8f" stroke-width="0.3"/>
<rect x="105.6" y="654.99" width="1.39" height="7.2" fill="#54101C" stroke="#8f8f8f" stroke-width="0.3"/>
<rect x="105.6" y="671.17" width="4.31" height="7.2" fill="#54101C" stroke="#8f8f8f" stroke-width="0.3"/>
<rect x="102.44" y="687.35" width="3.16" height="7.2" fill="#54101C" stroke="#8f8f8f" stroke-width="0.3"/>
<rect x="104.83" y="695.44" width="0.77" height="7.2" fill="#54101C" stroke="#8f8f8f" stroke-width="0.3"/>
<rect x="102.44" y="703.53" width="3.16" height="7.2" fill="#54101C" stroke="#8f8f8f" stroke-width="0.3"/>
<line x1="105.6" x2="105.6" y1="403" y2="719.6" stroke="#222" stroke-width="0.7"/>
<circle cx="105.6" cy="407.8" r="1.35" fill="none" stroke="#111" stroke-width="0.5"/>
<line x1="105.6" x2="105.6" y1="405.2" y2="410.4" stroke="#111" stroke-width="0.45"/>
<circle cx="105.98" cy="407.8" r="1.35" fill="none" stroke="#111" stroke-width="0.5"/>
<line x1="105.98" x2="105.98" y1="405.2" y2="410.4" stroke="#111" stroke-width="0.45"/>
<circle cx="106.37" cy="407.8" r="1.35" fill="none" stroke="#111" stroke-width="0.5"/>
<line x1="106.37" x2="106.37" y1="405.2" y2="410.4" stroke="#111" stroke-width="0.45"/>
<circle cx="105.21" cy="415.89" r="1.35" fill="none" stroke="#111" stroke-width="0.5"/>
<line x1="105.21" x2="105.21" y1="413.29" y2="418.49" stroke="#111" stroke-width="0.45"/>
<circle cx="105.98" cy="415.89" r="1.35" fill="none" stroke="#111" stroke-width="0.5"/>
<line x1="105.98" x2="105.98" y1="413.29" y2="418.49" stroke="#111" stroke-width="0.45"/>
<circle cx="106.37" cy="432.07" r="1.35" fill="none" stroke="#111" stroke-width="0.5"/>
<line x1="106.37" x2="106.37" y1="429.47" y2="434.67" stroke="#111" stroke-width="0.45"/>
<circle cx="107.14" cy="432.07" r="1.35" fill="none" stroke="#111" stroke-width="0.5"/>
<line x1="107.14" x2="107.14" y1="429.47" y2="434.67" stroke="#111" stroke-width="0.45"/>
<circle cx="108.29" cy="432.07" r="1.35" fill="none" stroke="#111" stroke-width="0.5"/>
<line x1="108.29" x2="108.29" y1="429.47" y2="434.67" stroke="#111" stroke-width="0.45"/>
<circle cx="105.98" cy="440.16" r="1.35" fill="none" stroke="#111" stroke-width="0.5"/>
<line x1="105.98" x2="105.98" y1="437.56" y2="442.76" stroke="#111" stroke-width="0.45"/>
<circle cx="106.75" cy="440.16" r="1.35" fill="none" stroke="#111" stroke-width="0.5"/>
<line x1="106.75" x2="106.75" y1="437.56" y2="442.76" stroke="#111" stroke-width="0.45"/>
<path d="M98.21 448.25H104.29M98.21 445.05v6.4M104.29 445.05v6.4" stroke="#5a5a5a" stroke-width="0.55" fill="none"/>
<circle cx="98.67" cy="448.25" r="1.35" fill="none" stroke="#5a5a5a" stroke-width="0.5"/>
<circle cx="102.52" cy="448.25" r="1.35" fill="none" stroke="#5a5a5a" stroke-width="0.5"/>
<circle cx="104.29" cy="448.25" r="1.35" fill="none" stroke="#5a5a5a" stroke-width="0.5"/>
<circle cx="105.6" cy="464.43" r="1.35" fill="none" stroke="#111" stroke-width="0.5"/>
<line x1="105.6" x2="105.6" y1="461.83" y2="467.03" stroke="#111" stroke-width="0.45"/>
<circle cx="105.98" cy="464.43" r="1.35" fill="none" stroke="#111" stroke-width="0.5"/>
<line x1="105.98" x2="105.98" y1="461.83" y2="467.03" stroke="#111" stroke-width="0.45"/>
<circle cx="106.37" cy="464.43" r="1.35" fill="none" stroke="#111" stroke-width="0.5"/>
<line x1="106.37" x2="106.37" y1="461.83" y2="467.03" stroke="#111" stroke-width="0.45"/>
<path d="M109.06 472.52H112.38M109.06 469.32v6.4M112.38 469.32v6.4" stroke="#111" stroke-width="0.55" fill="none"/>
<circle cx="109.14" cy="472.52" r="1.35" fill="none" stroke="#111" stroke-width="0.5"/>
<circle cx="110.37" cy="472.52" r="1.35" fill="none" stroke="#111" stroke-width="0.5"/>
<circle cx="111.53" cy="472.52" r="1.35" fill="none" stroke="#111" stroke-width="0.5"/>
<circle cx="103.14" cy="480.61" r="1.35" fill="none" stroke="#111" stroke-width="0.5"/>
<line x1="103.14" x2="103.14" y1="478.01" y2="483.21" stroke="#111" stroke-width="0.45"/>
<circle cx="103.67" cy="480.61" r="1.35" fill="none" stroke="#111" stroke-width="0.5"/>
<line x1="103.67" x2="103.67" y1="478.01" y2="483.21" stroke="#111" stroke-width="0.45"/>
<circle cx="104.06" cy="480.61" r="1.35" fill="none" stroke="#111" stroke-width="0.5"/>
<line x1="104.06" x2="104.06" y1="478.01" y2="483.21" stroke="#111" stroke-width="0.45"/>
<circle cx="105.98" cy="488.7" r="1.35" fill="none" stroke="#111" stroke-width="0.5"/>
<line x1="105.98" x2="105.98" y1="486.1" y2="491.3" stroke="#111" stroke-width="0.45"/>
<path d="M100.98 496.79H104.44M100.98 493.59v6.4M104.44 493.59v6.4" stroke="#111" stroke-width="0.55" fill="none"/>
<circle cx="101.13" cy="496.79" r="1.35" fill="none" stroke="#111" stroke-width="0.5"/>
<circle cx="102.91" cy="496.79" r="1.35" fill="none" stroke="#111" stroke-width="0.5"/>
<circle cx="104.29" cy="496.79" r="1.35" fill="none" stroke="#111" stroke-width="0.5"/>
<path d="M104.44 504.88H108.68M104.44 501.68v6.4M108.68 501.68v6.4" stroke="#5a5a5a" stroke-width="0.55" fill="none"/>
<circle cx="104.44" cy="504.88" r="1.35" fill="none" stroke="#5a5a5a" stroke-width="0.5"/>
<circle cx="106.75" cy="504.88" r="1.35" fill="none" stroke="#5a5a5a" stroke-width="0.5"/>
<circle cx="108.68" cy="504.88" r="1.35" fill="none" stroke="#5a5a5a" stroke-width="0.5"/>
<circle cx="103.14" cy="512.97" r="1.35" fill="none" stroke="#111" stroke-width="0.5"/>
<line x1="103.14" x2="103.14" y1="510.37" y2="515.57" stroke="#111" stroke-width="0.45"/>
<circle cx="103.67" cy="512.97" r="1.35" fill="none" stroke="#111" stroke-width="0.5"/>
<line x1="103.67" x2="103.67" y1="510.37" y2="515.57" stroke="#111" stroke-width="0.45"/>
<circle cx="104.06" cy="512.97" r="1.35" fill="none" stroke="#111" stroke-width="0.5"/>
<line x1="104.06" x2="104.06" y1="510.37" y2="515.57" stroke="#111" stroke-width="0.45"/>
<circle cx="107.14" cy="521.06" r="1.35" fill="none" stroke="#111" stroke-width="0.5"/>
<line x1="107.14" x2="107.14" y1="518.46" y2="523.66" stroke="#111" stroke-width="0.45"/>
<circle cx="108.29" cy="521.06" r="1.35" fill="none" stroke="#111" stroke-width="0.5"/>
<line x1="108.29" x2="108.29" y1="518.46" y2="523.66" stroke="#111" stroke-width="0.45"/>
<circle cx="109.06" cy="521.06" r="1.35" fill="none" stroke="#111" stroke-width="0.5"/>
<line x1="109.06" x2="109.06" y1="518.46" y2="523.66" stroke="#111" stroke-width="0.45"/>
<circle cx="103.29" cy="529.15" r="1.35" fill="none" stroke="#5a5a5a" stroke-width="0.5"/>
<line x1="103.29" x2="103.29" y1="526.55" y2="531.75" stroke="#5a5a5a" stroke-width="0.45"/>
<circle cx="104.06" cy="529.15" r="1.35" fill="none" stroke="#5a5a5a" stroke-width="0.5"/>
<line x1="104.06" x2="104.06" y1="526.55" y2="531.75" stroke="#5a5a5a" stroke-width="0.45"/>
<circle cx="106.37" cy="537.24" r="1.35" fill="none" stroke="#111" stroke-width="0.5"/>
<line x1="106.37" x2="106.37" y1="534.64" y2="539.84" stroke="#111" stroke-width="0.45"/>
<circle cx="107.14" cy="537.24" r="1.35" fill="none" stroke="#111" stroke-width="0.5"/>
<line x1="107.14" x2="107.14" y1="534.64" y2="539.84" stroke="#111" stroke-width="0.45"/>
<circle cx="107.91" cy="537.24" r="1.35" fill="none" stroke="#111" stroke-width="0.5"/>
<line x1="107.91" x2="107.91" y1="534.64" y2="539.84" stroke="#111" stroke-width="0.45"/>
<circle cx="105.6" cy="545.33" r="1.35" fill="none" stroke="#111" stroke-width="0.5"/>
<line x1="105.6" x2="105.6" y1="542.73" y2="547.93" stroke="#111" stroke-width="0.45"/>
<circle cx="105.98" cy="545.33" r="1.35" fill="none" stroke="#111" stroke-width="0.5"/>
<line x1="105.98" x2="105.98" y1="542.73" y2="547.93" stroke="#111" stroke-width="0.45"/>
<circle cx="105.98" cy="553.42" r="1.35" fill="none" stroke="#111" stroke-width="0.5"/>
<line x1="105.98" x2="105.98" y1="550.82" y2="556.02" stroke="#111" stroke-width="0.45"/>
<circle cx="106.37" cy="553.42" r="1.35" fill="none" stroke="#111" stroke-width="0.5"/>
<line x1="106.37" x2="106.37" y1="550.82" y2="556.02" stroke="#111" stroke-width="0.45"/>
<circle cx="105.98" cy="561.51" r="1.35" fill="none" stroke="#111" stroke-width="0.5"/>
<line x1="105.98" x2="105.98" y1="558.91" y2="564.11" stroke="#111" stroke-width="0.45"/>
<circle cx="106.37" cy="561.51" r="1.35" fill="none" stroke="#111" stroke-width="0.5"/>
<line x1="106.37" x2="106.37" y1="558.91" y2="564.11" stroke="#111" stroke-width="0.45"/>
<circle cx="101.13" cy="569.6" r="1.35" fill="none" stroke="#111" stroke-width="0.5"/>
<line x1="101.13" x2="101.13" y1="567" y2="572.2" stroke="#111" stroke-width="0.45"/>
<circle cx="101.6" cy="569.6" r="1.35" fill="none" stroke="#111" stroke-width="0.5"/>
<line x1="101.6" x2="101.6" y1="567" y2="572.2" stroke="#111" stroke-width="0.45"/>
<circle cx="101.13" cy="577.69" r="1.35" fill="none" stroke="#111" stroke-width="0.5"/>
<line x1="101.13" x2="101.13" y1="575.09" y2="580.29" stroke="#111" stroke-width="0.45"/>
<circle cx="101.9" cy="577.69" r="1.35" fill="none" stroke="#111" stroke-width="0.5"/>
<line x1="101.9" x2="101.9" y1="575.09" y2="580.29" stroke="#111" stroke-width="0.45"/>
<circle cx="102.37" cy="577.69" r="1.35" fill="none" stroke="#111" stroke-width="0.5"/>
<line x1="102.37" x2="102.37" y1="575.09" y2="580.29" stroke="#111" stroke-width="0.45"/>
<circle cx="100.98" cy="585.78" r="1.35" fill="none" stroke="#111" stroke-width="0.5"/>
<line x1="100.98" x2="100.98" y1="583.18" y2="588.38" stroke="#111" stroke-width="0.45"/>
<path d="M100.83 593.87H104.06M100.83 590.67v6.4M104.06 590.67v6.4" stroke="#111" stroke-width="0.55" fill="none"/>
<circle cx="100.83" cy="593.87" r="1.35" fill="none" stroke="#111" stroke-width="0.5"/>
<circle cx="102.37" cy="593.87" r="1.35" fill="none" stroke="#111" stroke-width="0.5"/>
<circle cx="104.06" cy="593.87" r="1.35" fill="none" stroke="#111" stroke-width="0.5"/>
<circle cx="99.44" cy="601.96" r="1.35" fill="none" stroke="#111" stroke-width="0.5"/>
<line x1="99.44" x2="99.44" y1="599.36" y2="604.56" stroke="#111" stroke-width="0.45"/>
<circle cx="100.83" cy="601.96" r="1.35" fill="none" stroke="#111" stroke-width="0.5"/>
<line x1="100.83" x2="100.83" y1="599.36" y2="604.56" stroke="#111" stroke-width="0.45"/>
<path d="M99.59 610.05H102.13M99.59 606.85v6.4M102.13 606.85v6.4" stroke="#111" stroke-width="0.55" fill="none"/>
<circle cx="99.59" cy="610.05" r="1.35" fill="none" stroke="#111" stroke-width="0.5"/>
<circle cx="101.36" cy="610.05" r="1.35" fill="none" stroke="#111" stroke-width="0.5"/>
<circle cx="101.98" cy="610.05" r="1.35" fill="none" stroke="#111" stroke-width="0.5"/>
<circle cx="93.66" cy="618.14" r="1.35" fill="none" stroke="#111" stroke-width="0.5"/>
<line x1="93.66" x2="93.66" y1="615.54" y2="620.74" stroke="#111" stroke-width="0.45"/>
<path d="M93.59 626.23H101.75M93.59 623.03v6.4M101.75 623.03v6.4" stroke="#111" stroke-width="0.55" fill="none"/>
<circle cx="93.59" cy="626.23" r="1.35" fill="none" stroke="#111" stroke-width="0.5"/>
<circle cx="101.36" cy="626.23" r="1.35" fill="none" stroke="#111" stroke-width="0.5"/>
<circle cx="102.52" cy="634.32" r="1.35" fill="none" stroke="#111" stroke-width="0.5"/>
<line x1="102.52" x2="102.52" y1="631.72" y2="636.92" stroke="#111" stroke-width="0.45"/>
<circle cx="103.29" cy="634.32" r="1.35" fill="none" stroke="#111" stroke-width="0.5"/>
<line x1="103.29" x2="103.29" y1="631.72" y2="636.92" stroke="#111" stroke-width="0.45"/>
<circle cx="106.52" cy="642.41" r="1.35" fill="none" stroke="#111" stroke-width="0.5"/>
<line x1="106.52" x2="106.52" y1="639.81" y2="645.01" stroke="#111" stroke-width="0.45"/>
<circle cx="107.14" cy="642.41" r="1.35" fill="none" stroke="#111" stroke-width="0.5"/>
<line x1="107.14" x2="107.14" y1="639.81" y2="645.01" stroke="#111" stroke-width="0.45"/>
<circle cx="106.52" cy="658.59" r="1.35" fill="none" stroke="#111" stroke-width="0.5"/>
<line x1="106.52" x2="106.52" y1="655.99" y2="661.19" stroke="#111" stroke-width="0.45"/>
<circle cx="107.14" cy="658.59" r="1.35" fill="none" stroke="#111" stroke-width="0.5"/>
<line x1="107.14" x2="107.14" y1="655.99" y2="661.19" stroke="#111" stroke-width="0.45"/>
<circle cx="105.6" cy="666.68" r="1.35" fill="none" stroke="#111" stroke-width="0.5"/>
<line x1="105.6" x2="105.6" y1="664.08" y2="669.28" stroke="#111" stroke-width="0.45"/>
<circle cx="105.83" cy="666.68" r="1.35" fill="none" stroke="#111" stroke-width="0.5"/>
<line x1="105.83" x2="105.83" y1="664.08" y2="669.28" stroke="#111" stroke-width="0.45"/>
<circle cx="108.83" cy="674.77" r="1.35" fill="none" stroke="#111" stroke-width="0.5"/>
<line x1="108.83" x2="108.83" y1="672.17" y2="677.37" stroke="#111" stroke-width="0.45"/>
<circle cx="110.22" cy="674.77" r="1.35" fill="none" stroke="#111" stroke-width="0.5"/>
<line x1="110.22" x2="110.22" y1="672.17" y2="677.37" stroke="#111" stroke-width="0.45"/>
<path d="M104.83 682.86H106.37M104.83 679.66v6.4M106.37 679.66v6.4" stroke="#5a5a5a" stroke-width="0.55" fill="none"/>
<circle cx="104.83" cy="682.86" r="1.35" fill="none" stroke="#5a5a5a" stroke-width="0.5"/>
<circle cx="106.22" cy="682.86" r="1.35" fill="none" stroke="#5a5a5a" stroke-width="0.5"/>
<circle cx="102.13" cy="690.95" r="1.35" fill="none" stroke="#111" stroke-width="0.5"/>
<line x1="102.13" x2="102.13" y1="688.35" y2="693.55" stroke="#111" stroke-width="0.45"/>
<circle cx="103.14" cy="690.95" r="1.35" fill="none" stroke="#111" stroke-width="0.5"/>
<line x1="103.14" x2="103.14" y1="688.35" y2="693.55" stroke="#111" stroke-width="0.45"/>
<circle cx="103.6" cy="699.04" r="1.35" fill="none" stroke="#111" stroke-width="0.5"/>
<line x1="103.6" x2="103.6" y1="696.44" y2="701.64" stroke="#111" stroke-width="0.45"/>
<circle cx="105.37" cy="699.04" r="1.35" fill="none" stroke="#111" stroke-width="0.5"/>
<line x1="105.37" x2="105.37" y1="696.44" y2="701.64" stroke="#111" stroke-width="0.45"/>
<circle cx="102.13" cy="707.13" r="1.35" fill="none" stroke="#111" stroke-width="0.5"/>
<line x1="102.13" x2="102.13" y1="704.53" y2="709.73" stroke="#111" stroke-width="0.45"/>
<circle cx="103.14" cy="707.13" r="1.35" fill="none" stroke="#111" stroke-width="0.5"/>
<line x1="103.14" x2="103.14" y1="704.53" y2="709.73" stroke="#111" stroke-width="0.45"/>
<rect x="48.5" y="403" width="83.95" height="316.6" fill="none" stroke="#4e5256" stroke-width="0.7"/>
<line x1="59.4" x2="59.4" y1="719.6" y2="722.4" stroke="#333" stroke-width="0.5"/>
<text x="59.4" y="732.3" text-anchor="middle" font-size="9.8" fill="#0a0a0a">−6</text>
<line x1="74.8" x2="74.8" y1="719.6" y2="722.4" stroke="#333" stroke-width="0.5"/>
<text x="74.8" y="732.3" text-anchor="middle" font-size="9.8" fill="#0a0a0a">−4</text>
<line x1="90.2" x2="90.2" y1="719.6" y2="722.4" stroke="#333" stroke-width="0.5"/>
<text x="90.2" y="732.3" text-anchor="middle" font-size="9.8" fill="#0a0a0a">−2</text>
<line x1="105.6" x2="105.6" y1="719.6" y2="722.4" stroke="#333" stroke-width="0.5"/>
<text x="105.6" y="732.3" text-anchor="middle" font-size="9.8" fill="#0a0a0a">0</text>
<line x1="121" x2="121" y1="719.6" y2="722.4" stroke="#333" stroke-width="0.5"/>
<text x="121" y="732.3" text-anchor="middle" font-size="9.8" fill="#0a0a0a">2</text>
<rect x="138.3" y="403" width="83.95" height="316.6" fill="#fff" stroke="none"/>
<line x1="187.7" x2="187.7" y1="403" y2="719.6" stroke="#4a5058" stroke-width="0.4" stroke-dasharray="1.3 1.45"/>
<line x1="203.1" x2="203.1" y1="403" y2="719.6" stroke="#4a5058" stroke-width="0.4" stroke-dasharray="1.3 1.45"/>
<rect x="195.4" y="404.2" width="0.77" height="7.2" fill="#D9CE8F" stroke="#8f8f8f" stroke-width="0.3"/>
<rect x="193.09" y="428.47" width="2.31" height="7.2" fill="#D9CE8F" stroke="#8f8f8f" stroke-width="0.3"/>
<rect x="195.02" y="436.56" width="0.39" height="7.2" fill="#D9CE8F" stroke="#8f8f8f" stroke-width="0.3"/>
<rect x="190.78" y="444.65" width="4.62" height="7.2" fill="#D9CE8F" stroke="#8f8f8f" stroke-width="0.3"/>
<rect x="195.4" y="460.83" width="0.77" height="7.2" fill="#FCAF21" stroke="#8f8f8f" stroke-width="0.3"/>
<rect x="195.4" y="468.92" width="0.77" height="7.2" fill="#FCAF21" stroke="#8f8f8f" stroke-width="0.3"/>
<rect x="192.32" y="477.01" width="3.08" height="7.2" fill="#FCAF21" stroke="#8f8f8f" stroke-width="0.3"/>
<rect x="188.47" y="493.19" width="6.93" height="7.2" fill="#FCAF21" stroke="#8f8f8f" stroke-width="0.3"/>
<rect x="193.86" y="501.28" width="1.54" height="7.2" fill="#FCAF21" stroke="#8f8f8f" stroke-width="0.3"/>
<rect x="190.4" y="509.37" width="5" height="7.2" fill="#FCAF21" stroke="#8f8f8f" stroke-width="0.3"/>
<rect x="195.4" y="517.46" width="1.54" height="7.2" fill="#D21E4B" stroke="#8f8f8f" stroke-width="0.3"/>
<rect x="195.4" y="533.64" width="1.16" height="7.2" fill="#D21E4B" stroke="#8f8f8f" stroke-width="0.3"/>
<rect x="190.78" y="574.09" width="4.62" height="7.2" fill="#D21E4B" stroke="#8f8f8f" stroke-width="0.3"/>
<rect x="188.47" y="590.27" width="6.93" height="7.2" fill="#D21E4B" stroke="#8f8f8f" stroke-width="0.3"/>
<rect x="179.23" y="598.36" width="16.17" height="7.2" fill="#D21E4B" stroke="#8f8f8f" stroke-width="0.3"/>
<rect x="176.92" y="606.45" width="18.48" height="7.2" fill="#D21E4B" stroke="#8f8f8f" stroke-width="0.3"/>
<rect x="178.84" y="614.54" width="16.55" height="7.2" fill="#D21E4B" stroke="#8f8f8f" stroke-width="0.3"/>
<rect x="181.54" y="622.63" width="13.86" height="7.2" fill="#D21E4B" stroke="#8f8f8f" stroke-width="0.3"/>
<rect x="184.62" y="630.72" width="10.78" height="7.2" fill="#D21E4B" stroke="#8f8f8f" stroke-width="0.3"/>
<rect x="194.63" y="638.81" width="0.77" height="7.2" fill="#54101C" stroke="#8f8f8f" stroke-width="0.3"/>
<rect x="194.25" y="671.17" width="1.16" height="7.2" fill="#54101C" stroke="#8f8f8f" stroke-width="0.3"/>
<rect x="194.63" y="679.26" width="0.77" height="7.2" fill="#54101C" stroke="#8f8f8f" stroke-width="0.3"/>
<rect x="186.93" y="687.35" width="8.47" height="7.2" fill="#54101C" stroke="#8f8f8f" stroke-width="0.3"/>
<rect x="194.25" y="695.44" width="1.16" height="7.2" fill="#54101C" stroke="#8f8f8f" stroke-width="0.3"/>
<rect x="186.93" y="703.53" width="8.47" height="7.2" fill="#54101C" stroke="#8f8f8f" stroke-width="0.3"/>
<line x1="195.4" x2="195.4" y1="403" y2="719.6" stroke="#222" stroke-width="0.7"/>
<circle cx="195.4" cy="407.8" r="1.35" fill="none" stroke="#111" stroke-width="0.5"/>
<line x1="195.4" x2="195.4" y1="405.2" y2="410.4" stroke="#111" stroke-width="0.45"/>
<circle cx="196.17" cy="407.8" r="1.35" fill="none" stroke="#111" stroke-width="0.5"/>
<line x1="196.17" x2="196.17" y1="405.2" y2="410.4" stroke="#111" stroke-width="0.45"/>
<circle cx="196.94" cy="407.8" r="1.35" fill="none" stroke="#111" stroke-width="0.5"/>
<line x1="196.94" x2="196.94" y1="405.2" y2="410.4" stroke="#111" stroke-width="0.45"/>
<circle cx="194.63" cy="415.89" r="1.35" fill="none" stroke="#111" stroke-width="0.5"/>
<line x1="194.63" x2="194.63" y1="413.29" y2="418.49" stroke="#111" stroke-width="0.45"/>
<circle cx="195.4" cy="415.89" r="1.35" fill="none" stroke="#111" stroke-width="0.5"/>
<line x1="195.4" x2="195.4" y1="413.29" y2="418.49" stroke="#111" stroke-width="0.45"/>
<circle cx="192.32" cy="432.07" r="1.35" fill="none" stroke="#5a5a5a" stroke-width="0.5"/>
<line x1="192.32" x2="192.32" y1="429.47" y2="434.67" stroke="#5a5a5a" stroke-width="0.45"/>
<circle cx="193.47" cy="432.07" r="1.35" fill="none" stroke="#5a5a5a" stroke-width="0.5"/>
<line x1="193.47" x2="193.47" y1="429.47" y2="434.67" stroke="#5a5a5a" stroke-width="0.45"/>
<circle cx="194.25" cy="440.16" r="1.35" fill="none" stroke="#111" stroke-width="0.5"/>
<line x1="194.25" x2="194.25" y1="437.56" y2="442.76" stroke="#111" stroke-width="0.45"/>
<circle cx="195.02" cy="440.16" r="1.35" fill="none" stroke="#111" stroke-width="0.5"/>
<line x1="195.02" x2="195.02" y1="437.56" y2="442.76" stroke="#111" stroke-width="0.45"/>
<path d="M189.62 448.25H191.55M189.62 445.05v6.4M191.55 445.05v6.4" stroke="#111" stroke-width="0.55" fill="none"/>
<circle cx="190.01" cy="448.25" r="1.35" fill="none" stroke="#111" stroke-width="0.5"/>
<circle cx="190.78" cy="448.25" r="1.35" fill="none" stroke="#111" stroke-width="0.5"/>
<circle cx="195.78" cy="464.43" r="1.35" fill="none" stroke="#111" stroke-width="0.5"/>
<line x1="195.78" x2="195.78" y1="461.83" y2="467.03" stroke="#111" stroke-width="0.45"/>
<circle cx="196.56" cy="464.43" r="1.35" fill="none" stroke="#111" stroke-width="0.5"/>
<line x1="196.56" x2="196.56" y1="461.83" y2="467.03" stroke="#111" stroke-width="0.45"/>
<path d="M194.25 472.52H198.48M194.25 469.32v6.4M198.48 469.32v6.4" stroke="#5a5a5a" stroke-width="0.55" fill="none"/>
<circle cx="194.25" cy="472.52" r="1.35" fill="none" stroke="#5a5a5a" stroke-width="0.5"/>
<circle cx="196.17" cy="472.52" r="1.35" fill="none" stroke="#5a5a5a" stroke-width="0.5"/>
<circle cx="198.48" cy="472.52" r="1.35" fill="none" stroke="#5a5a5a" stroke-width="0.5"/>
<circle cx="191.55" cy="480.61" r="1.35" fill="none" stroke="#111" stroke-width="0.5"/>
<line x1="191.55" x2="191.55" y1="478.01" y2="483.21" stroke="#111" stroke-width="0.45"/>
<circle cx="192.71" cy="480.61" r="1.35" fill="none" stroke="#111" stroke-width="0.5"/>
<line x1="192.71" x2="192.71" y1="478.01" y2="483.21" stroke="#111" stroke-width="0.45"/>
<circle cx="195.4" cy="488.7" r="1.35" fill="none" stroke="#111" stroke-width="0.5"/>
<line x1="195.4" x2="195.4" y1="486.1" y2="491.3" stroke="#111" stroke-width="0.45"/>
<circle cx="195.78" cy="488.7" r="1.35" fill="none" stroke="#111" stroke-width="0.5"/>
<line x1="195.78" x2="195.78" y1="486.1" y2="491.3" stroke="#111" stroke-width="0.45"/>
<path d="M187.7 496.79H189.24M187.7 493.59v6.4M189.24 493.59v6.4" stroke="#111" stroke-width="0.55" fill="none"/>
<circle cx="187.7" cy="496.79" r="1.35" fill="none" stroke="#111" stroke-width="0.5"/>
<circle cx="188.86" cy="496.79" r="1.35" fill="none" stroke="#111" stroke-width="0.5"/>
<circle cx="193.09" cy="504.88" r="1.35" fill="none" stroke="#5a5a5a" stroke-width="0.5"/>
<line x1="193.09" x2="193.09" y1="502.28" y2="507.48" stroke="#5a5a5a" stroke-width="0.45"/>
<circle cx="194.25" cy="504.88" r="1.35" fill="none" stroke="#5a5a5a" stroke-width="0.5"/>
<line x1="194.25" x2="194.25" y1="502.28" y2="507.48" stroke="#5a5a5a" stroke-width="0.45"/>
<circle cx="190.01" cy="512.97" r="1.35" fill="none" stroke="#111" stroke-width="0.5"/>
<line x1="190.01" x2="190.01" y1="510.37" y2="515.57" stroke="#111" stroke-width="0.45"/>
<circle cx="190.78" cy="512.97" r="1.35" fill="none" stroke="#111" stroke-width="0.5"/>
<line x1="190.78" x2="190.78" y1="510.37" y2="515.57" stroke="#111" stroke-width="0.45"/>
<circle cx="196.17" cy="521.06" r="1.35" fill="none" stroke="#111" stroke-width="0.5"/>
<line x1="196.17" x2="196.17" y1="518.46" y2="523.66" stroke="#111" stroke-width="0.45"/>
<circle cx="197.71" cy="521.06" r="1.35" fill="none" stroke="#111" stroke-width="0.5"/>
<line x1="197.71" x2="197.71" y1="518.46" y2="523.66" stroke="#111" stroke-width="0.45"/>
<circle cx="194.63" cy="529.15" r="1.35" fill="none" stroke="#5a5a5a" stroke-width="0.5"/>
<line x1="194.63" x2="194.63" y1="526.55" y2="531.75" stroke="#5a5a5a" stroke-width="0.45"/>
<circle cx="196.17" cy="537.24" r="1.35" fill="none" stroke="#111" stroke-width="0.5"/>
<line x1="196.17" x2="196.17" y1="534.64" y2="539.84" stroke="#111" stroke-width="0.45"/>
<circle cx="196.94" cy="537.24" r="1.35" fill="none" stroke="#111" stroke-width="0.5"/>
<line x1="196.94" x2="196.94" y1="534.64" y2="539.84" stroke="#111" stroke-width="0.45"/>
<circle cx="195.02" cy="545.33" r="1.35" fill="none" stroke="#111" stroke-width="0.5"/>
<line x1="195.02" x2="195.02" y1="542.73" y2="547.93" stroke="#111" stroke-width="0.45"/>
<circle cx="195.4" cy="553.42" r="1.35" fill="none" stroke="#111" stroke-width="0.5"/>
<line x1="195.4" x2="195.4" y1="550.82" y2="556.02" stroke="#111" stroke-width="0.45"/>
<circle cx="195.4" cy="561.51" r="1.35" fill="none" stroke="#111" stroke-width="0.5"/>
<line x1="195.4" x2="195.4" y1="558.91" y2="564.11" stroke="#111" stroke-width="0.45"/>
<circle cx="195.4" cy="569.6" r="1.35" fill="none" stroke="#111" stroke-width="0.5"/>
<line x1="195.4" x2="195.4" y1="567" y2="572.2" stroke="#111" stroke-width="0.45"/>
<circle cx="190.4" cy="577.69" r="1.35" fill="none" stroke="#111" stroke-width="0.5"/>
<line x1="190.4" x2="190.4" y1="575.09" y2="580.29" stroke="#111" stroke-width="0.45"/>
<circle cx="191.16" cy="577.69" r="1.35" fill="none" stroke="#111" stroke-width="0.5"/>
<line x1="191.16" x2="191.16" y1="575.09" y2="580.29" stroke="#111" stroke-width="0.45"/>
<circle cx="195.4" cy="585.78" r="1.35" fill="none" stroke="#111" stroke-width="0.5"/>
<line x1="195.4" x2="195.4" y1="583.18" y2="588.38" stroke="#111" stroke-width="0.45"/>
<circle cx="188.09" cy="593.87" r="1.35" fill="none" stroke="#111" stroke-width="0.5"/>
<line x1="188.09" x2="188.09" y1="591.27" y2="596.47" stroke="#111" stroke-width="0.45"/>
<circle cx="188.86" cy="593.87" r="1.35" fill="none" stroke="#111" stroke-width="0.5"/>
<line x1="188.86" x2="188.86" y1="591.27" y2="596.47" stroke="#111" stroke-width="0.45"/>
<path d="M177.69 601.96H181.16M177.69 598.76v6.4M181.16 598.76v6.4" stroke="#111" stroke-width="0.55" fill="none"/>
<circle cx="177.69" cy="601.96" r="1.35" fill="none" stroke="#111" stroke-width="0.5"/>
<circle cx="181.16" cy="601.96" r="1.35" fill="none" stroke="#111" stroke-width="0.5"/>
<path d="M174.22 610.05H177.69M174.22 606.85v6.4M177.69 606.85v6.4" stroke="#111" stroke-width="0.55" fill="none"/>
<circle cx="174.22" cy="610.05" r="1.35" fill="none" stroke="#111" stroke-width="0.5"/>
<circle cx="177.31" cy="610.05" r="1.35" fill="none" stroke="#111" stroke-width="0.5"/>
<circle cx="178.46" cy="618.14" r="1.35" fill="none" stroke="#111" stroke-width="0.5"/>
<line x1="178.46" x2="178.46" y1="615.54" y2="620.74" stroke="#111" stroke-width="0.45"/>
<path d="M178.46 626.23H184.24M178.46 623.03v6.4M184.24 623.03v6.4" stroke="#111" stroke-width="0.55" fill="none"/>
<circle cx="178.46" cy="626.23" r="1.35" fill="none" stroke="#111" stroke-width="0.5"/>
<circle cx="184.24" cy="626.23" r="1.35" fill="none" stroke="#111" stroke-width="0.5"/>
<circle cx="184.24" cy="634.32" r="1.35" fill="none" stroke="#111" stroke-width="0.5"/>
<line x1="184.24" x2="184.24" y1="631.72" y2="636.92" stroke="#111" stroke-width="0.45"/>
<circle cx="193.86" cy="642.41" r="1.35" fill="none" stroke="#111" stroke-width="0.5"/>
<line x1="193.86" x2="193.86" y1="639.81" y2="645.01" stroke="#111" stroke-width="0.45"/>
<circle cx="195.02" cy="642.41" r="1.35" fill="none" stroke="#111" stroke-width="0.5"/>
<line x1="195.02" x2="195.02" y1="639.81" y2="645.01" stroke="#111" stroke-width="0.45"/>
<circle cx="194.63" cy="658.59" r="1.35" fill="none" stroke="#111" stroke-width="0.5"/>
<line x1="194.63" x2="194.63" y1="655.99" y2="661.19" stroke="#111" stroke-width="0.45"/>
<circle cx="193.86" cy="666.68" r="1.35" fill="none" stroke="#5a5a5a" stroke-width="0.5"/>
<line x1="193.86" x2="193.86" y1="664.08" y2="669.28" stroke="#5a5a5a" stroke-width="0.45"/>
<circle cx="196.17" cy="666.68" r="1.35" fill="none" stroke="#5a5a5a" stroke-width="0.5"/>
<line x1="196.17" x2="196.17" y1="664.08" y2="669.28" stroke="#5a5a5a" stroke-width="0.45"/>
<circle cx="193.09" cy="674.77" r="1.35" fill="none" stroke="#111" stroke-width="0.5"/>
<line x1="193.09" x2="193.09" y1="672.17" y2="677.37" stroke="#111" stroke-width="0.45"/>
<circle cx="195.02" cy="674.77" r="1.35" fill="none" stroke="#111" stroke-width="0.5"/>
<line x1="195.02" x2="195.02" y1="672.17" y2="677.37" stroke="#111" stroke-width="0.45"/>
<circle cx="193.86" cy="682.86" r="1.35" fill="none" stroke="#111" stroke-width="0.5"/>
<line x1="193.86" x2="193.86" y1="680.26" y2="685.46" stroke="#111" stroke-width="0.45"/>
<circle cx="194.63" cy="682.86" r="1.35" fill="none" stroke="#111" stroke-width="0.5"/>
<line x1="194.63" x2="194.63" y1="680.26" y2="685.46" stroke="#111" stroke-width="0.45"/>
<circle cx="186.55" cy="690.95" r="1.35" fill="none" stroke="#111" stroke-width="0.5"/>
<line x1="186.55" x2="186.55" y1="688.35" y2="693.55" stroke="#111" stroke-width="0.45"/>
<circle cx="187.7" cy="690.95" r="1.35" fill="none" stroke="#111" stroke-width="0.5"/>
<line x1="187.7" x2="187.7" y1="688.35" y2="693.55" stroke="#111" stroke-width="0.45"/>
<circle cx="193.86" cy="699.04" r="1.35" fill="none" stroke="#111" stroke-width="0.5"/>
<line x1="193.86" x2="193.86" y1="696.44" y2="701.64" stroke="#111" stroke-width="0.45"/>
<circle cx="194.63" cy="699.04" r="1.35" fill="none" stroke="#111" stroke-width="0.5"/>
<line x1="194.63" x2="194.63" y1="696.44" y2="701.64" stroke="#111" stroke-width="0.45"/>
<circle cx="186.55" cy="707.13" r="1.35" fill="none" stroke="#111" stroke-width="0.5"/>
<line x1="186.55" x2="186.55" y1="704.53" y2="709.73" stroke="#111" stroke-width="0.45"/>
<rect x="138.3" y="403" width="83.95" height="316.6" fill="none" stroke="#4e5256" stroke-width="0.7"/>
<line x1="149.2" x2="149.2" y1="719.6" y2="722.4" stroke="#333" stroke-width="0.5"/>
<text x="149.2" y="732.3" text-anchor="middle" font-size="9.8" fill="#0a0a0a">−6</text>
<line x1="164.6" x2="164.6" y1="719.6" y2="722.4" stroke="#333" stroke-width="0.5"/>
<text x="164.6" y="732.3" text-anchor="middle" font-size="9.8" fill="#0a0a0a">−4</text>
<line x1="180" x2="180" y1="719.6" y2="722.4" stroke="#333" stroke-width="0.5"/>
<text x="180" y="732.3" text-anchor="middle" font-size="9.8" fill="#0a0a0a">−2</text>
<line x1="195.4" x2="195.4" y1="719.6" y2="722.4" stroke="#333" stroke-width="0.5"/>
<text x="195.4" y="732.3" text-anchor="middle" font-size="9.8" fill="#0a0a0a">0</text>
<line x1="210.8" x2="210.8" y1="719.6" y2="722.4" stroke="#333" stroke-width="0.5"/>
<text x="210.8" y="732.3" text-anchor="middle" font-size="9.8" fill="#0a0a0a">2</text>
<rect x="228.1" y="403" width="83.95" height="316.6" fill="#fff" stroke="none"/>
<line x1="277.5" x2="277.5" y1="403" y2="719.6" stroke="#4a5058" stroke-width="0.4" stroke-dasharray="1.3 1.45"/>
<line x1="292.9" x2="292.9" y1="403" y2="719.6" stroke="#4a5058" stroke-width="0.4" stroke-dasharray="1.3 1.45"/>
<rect x="285.2" y="404.2" width="1.16" height="7.2" fill="#D9CE8F" stroke="#8f8f8f" stroke-width="0.3"/>
<rect x="285.2" y="420.38" width="2.31" height="7.2" fill="#D9CE8F" stroke="#8f8f8f" stroke-width="0.3"/>
<rect x="283.66" y="428.47" width="1.54" height="7.2" fill="#D9CE8F" stroke="#8f8f8f" stroke-width="0.3"/>
<rect x="277.5" y="444.65" width="7.7" height="7.2" fill="#D9CE8F" stroke="#8f8f8f" stroke-width="0.3"/>
<rect x="285.2" y="452.74" width="1.93" height="7.2" fill="#D9CE8F" stroke="#8f8f8f" stroke-width="0.3"/>
<rect x="273.65" y="468.92" width="11.55" height="7.2" fill="#FCAF21" stroke="#8f8f8f" stroke-width="0.3"/>
<rect x="272.11" y="477.01" width="13.09" height="7.2" fill="#FCAF21" stroke="#8f8f8f" stroke-width="0.3"/>
<rect x="277.5" y="493.19" width="7.7" height="7.2" fill="#FCAF21" stroke="#8f8f8f" stroke-width="0.3"/>
<rect x="282.89" y="501.28" width="2.31" height="7.2" fill="#FCAF21" stroke="#8f8f8f" stroke-width="0.3"/>
<rect x="279.04" y="509.37" width="6.16" height="7.2" fill="#FCAF21" stroke="#8f8f8f" stroke-width="0.3"/>
<rect x="285.2" y="533.64" width="0.77" height="7.2" fill="#D21E4B" stroke="#8f8f8f" stroke-width="0.3"/>
<rect x="285.2" y="541.73" width="1.54" height="7.2" fill="#D21E4B" stroke="#8f8f8f" stroke-width="0.3"/>
<rect x="284.05" y="566" width="1.16" height="7.2" fill="#D21E4B" stroke="#8f8f8f" stroke-width="0.3"/>
<rect x="280.58" y="574.09" width="4.62" height="7.2" fill="#D21E4B" stroke="#8f8f8f" stroke-width="0.3"/>
<rect x="284.05" y="582.18" width="1.16" height="7.2" fill="#D21E4B" stroke="#8f8f8f" stroke-width="0.3"/>
<rect x="275.19" y="590.27" width="10.01" height="7.2" fill="#D21E4B" stroke="#8f8f8f" stroke-width="0.3"/>
<rect x="265.56" y="598.36" width="19.63" height="7.2" fill="#D21E4B" stroke="#8f8f8f" stroke-width="0.3"/>
<rect x="265.18" y="606.45" width="20.02" height="7.2" fill="#D21E4B" stroke="#8f8f8f" stroke-width="0.3"/>
<rect x="257.48" y="614.54" width="27.72" height="7.2" fill="#D21E4B" stroke="#8f8f8f" stroke-width="0.3"/>
<rect x="257.48" y="622.63" width="27.72" height="7.2" fill="#D21E4B" stroke="#8f8f8f" stroke-width="0.3"/>
<rect x="268.26" y="630.72" width="16.94" height="7.2" fill="#D21E4B" stroke="#8f8f8f" stroke-width="0.3"/>
<rect x="281.35" y="638.81" width="3.85" height="7.2" fill="#54101C" stroke="#8f8f8f" stroke-width="0.3"/>
<rect x="279.04" y="646.9" width="6.16" height="7.2" fill="#54101C" stroke="#8f8f8f" stroke-width="0.3"/>
<rect x="285.2" y="654.99" width="1.54" height="7.2" fill="#54101C" stroke="#8f8f8f" stroke-width="0.3"/>
<rect x="285.2" y="663.08" width="1.93" height="7.2" fill="#54101C" stroke="#8f8f8f" stroke-width="0.3"/>
<rect x="283.27" y="671.17" width="1.93" height="7.2" fill="#54101C" stroke="#8f8f8f" stroke-width="0.3"/>
<rect x="280.19" y="679.26" width="5" height="7.2" fill="#54101C" stroke="#8f8f8f" stroke-width="0.3"/>
<rect x="273.26" y="687.35" width="11.94" height="7.2" fill="#54101C" stroke="#8f8f8f" stroke-width="0.3"/>
<rect x="279.81" y="695.44" width="5.39" height="7.2" fill="#54101C" stroke="#8f8f8f" stroke-width="0.3"/>
<rect x="273.26" y="703.53" width="11.94" height="7.2" fill="#54101C" stroke="#8f8f8f" stroke-width="0.3"/>
<rect x="274.03" y="711.62" width="11.16" height="7.2" fill="#54101C" stroke="#8f8f8f" stroke-width="0.3"/>
<line x1="285.2" x2="285.2" y1="403" y2="719.6" stroke="#222" stroke-width="0.7"/>
<path d="M284.25 407.8H288.71M284.25 404.6v6.4M288.71 404.6v6.4" stroke="#111" stroke-width="0.55" fill="none"/>
<circle cx="284.05" cy="407.8" r="1.35" fill="none" stroke="#111" stroke-width="0.5"/>
<circle cx="285.97" cy="407.8" r="1.35" fill="none" stroke="#111" stroke-width="0.5"/>
<circle cx="289.44" cy="407.8" r="1.35" fill="none" stroke="#111" stroke-width="0.5"/>
<circle cx="285.97" cy="415.89" r="1.35" fill="none" stroke="#111" stroke-width="0.5"/>
<line x1="285.97" x2="285.97" y1="413.29" y2="418.49" stroke="#111" stroke-width="0.45"/>
<circle cx="287.12" cy="423.98" r="1.35" fill="none" stroke="#5a5a5a" stroke-width="0.5"/>
<line x1="287.12" x2="287.12" y1="421.38" y2="426.58" stroke="#5a5a5a" stroke-width="0.45"/>
<path d="M281.35 432.07H285.58M281.35 428.87v6.4M285.58 428.87v6.4" stroke="#111" stroke-width="0.55" fill="none"/>
<circle cx="279.04" cy="432.07" r="1.35" fill="none" stroke="#111" stroke-width="0.5"/>
<circle cx="284.05" cy="432.07" r="1.35" fill="none" stroke="#111" stroke-width="0.5"/>
<circle cx="285.97" cy="432.07" r="1.35" fill="none" stroke="#111" stroke-width="0.5"/>
<path d="M283.67 440.16H286.21M283.67 436.96v6.4M286.21 436.96v6.4" stroke="#111" stroke-width="0.55" fill="none"/>
<circle cx="283.27" cy="440.16" r="1.35" fill="none" stroke="#111" stroke-width="0.5"/>
<circle cx="285.2" cy="440.16" r="1.35" fill="none" stroke="#111" stroke-width="0.5"/>
<circle cx="286.35" cy="440.16" r="1.35" fill="none" stroke="#111" stroke-width="0.5"/>
<path d="M276.73 448.25H279.43M276.73 445.05v6.4M279.43 445.05v6.4" stroke="#111" stroke-width="0.55" fill="none"/>
<circle cx="273.65" cy="448.25" r="1.35" fill="none" stroke="#111" stroke-width="0.5"/>
<circle cx="277.5" cy="448.25" r="1.35" fill="none" stroke="#111" stroke-width="0.5"/>
<circle cx="279.43" cy="448.25" r="1.35" fill="none" stroke="#111" stroke-width="0.5"/>
<circle cx="287.12" cy="456.34" r="1.35" fill="none" stroke="#5a5a5a" stroke-width="0.5"/>
<line x1="287.12" x2="287.12" y1="453.74" y2="458.94" stroke="#5a5a5a" stroke-width="0.45"/>
<circle cx="285.97" cy="464.43" r="1.35" fill="none" stroke="#111" stroke-width="0.5"/>
<line x1="285.97" x2="285.97" y1="461.83" y2="467.03" stroke="#111" stroke-width="0.45"/>
<path d="M267.88 472.52H279.04M267.88 469.32v6.4M279.04 469.32v6.4" stroke="#111" stroke-width="0.55" fill="none"/>
<circle cx="262.1" cy="472.52" r="1.35" fill="none" stroke="#111" stroke-width="0.5"/>
<circle cx="277.88" cy="472.52" r="1.35" fill="none" stroke="#111" stroke-width="0.5"/>
<circle cx="281.35" cy="472.52" r="1.35" fill="none" stroke="#111" stroke-width="0.5"/>
<path d="M262.1 480.61H282.12M262.1 477.41v6.4M282.12 477.41v6.4" stroke="#111" stroke-width="0.55" fill="none"/>
<circle cx="262.1" cy="480.61" r="1.35" fill="none" stroke="#111" stroke-width="0.5"/>
<circle cx="282.12" cy="480.61" r="1.35" fill="none" stroke="#111" stroke-width="0.5"/>
<circle cx="285.2" cy="488.7" r="1.35" fill="none" stroke="#111" stroke-width="0.5"/>
<line x1="285.2" x2="285.2" y1="486.1" y2="491.3" stroke="#111" stroke-width="0.45"/>
<path d="M275.96 496.79H279.43M275.96 493.59v6.4M279.43 493.59v6.4" stroke="#111" stroke-width="0.55" fill="none"/>
<circle cx="274.42" cy="496.79" r="1.35" fill="none" stroke="#111" stroke-width="0.5"/>
<circle cx="277.5" cy="496.79" r="1.35" fill="none" stroke="#111" stroke-width="0.5"/>
<circle cx="280.19" cy="496.79" r="1.35" fill="none" stroke="#111" stroke-width="0.5"/>
<path d="M280.43 504.88H284.84M280.43 501.68v6.4M284.84 501.68v6.4" stroke="#111" stroke-width="0.55" fill="none"/>
<circle cx="279.81" cy="504.88" r="1.35" fill="none" stroke="#111" stroke-width="0.5"/>
<circle cx="282.89" cy="504.88" r="1.35" fill="none" stroke="#111" stroke-width="0.5"/>
<circle cx="285.2" cy="504.88" r="1.35" fill="none" stroke="#111" stroke-width="0.5"/>
<path d="M277.5 512.97H280.96M277.5 509.77v6.4M280.96 509.77v6.4" stroke="#111" stroke-width="0.55" fill="none"/>
<circle cx="277.5" cy="512.97" r="1.35" fill="none" stroke="#111" stroke-width="0.5"/>
<circle cx="280.96" cy="512.97" r="1.35" fill="none" stroke="#111" stroke-width="0.5"/>
<circle cx="285.97" cy="521.06" r="1.35" fill="none" stroke="#111" stroke-width="0.5"/>
<line x1="285.97" x2="285.97" y1="518.46" y2="523.66" stroke="#111" stroke-width="0.45"/>
<circle cx="285.2" cy="529.15" r="1.35" fill="none" stroke="#111" stroke-width="0.5"/>
<line x1="285.2" x2="285.2" y1="526.55" y2="531.75" stroke="#111" stroke-width="0.45"/>
<circle cx="285.97" cy="537.24" r="1.35" fill="none" stroke="#111" stroke-width="0.5"/>
<line x1="285.97" x2="285.97" y1="534.64" y2="539.84" stroke="#111" stroke-width="0.45"/>
<path d="M286.35 545.33H287.12M286.35 542.13v6.4M287.12 542.13v6.4" stroke="#111" stroke-width="0.55" fill="none"/>
<circle cx="286.35" cy="545.33" r="1.35" fill="none" stroke="#111" stroke-width="0.5"/>
<circle cx="287.12" cy="545.33" r="1.35" fill="none" stroke="#111" stroke-width="0.5"/>
<path d="M283.68 553.42H285.95M283.68 550.22v6.4M285.95 550.22v6.4" stroke="#111" stroke-width="0.55" fill="none"/>
<circle cx="283.27" cy="553.42" r="1.35" fill="none" stroke="#111" stroke-width="0.5"/>
<circle cx="285.2" cy="553.42" r="1.35" fill="none" stroke="#111" stroke-width="0.5"/>
<circle cx="285.97" cy="553.42" r="1.35" fill="none" stroke="#111" stroke-width="0.5"/>
<path d="M283.68 561.51H285.95M283.68 558.31v6.4M285.95 558.31v6.4" stroke="#111" stroke-width="0.55" fill="none"/>
<circle cx="283.27" cy="561.51" r="1.35" fill="none" stroke="#111" stroke-width="0.5"/>
<circle cx="285.2" cy="561.51" r="1.35" fill="none" stroke="#111" stroke-width="0.5"/>
<circle cx="285.97" cy="561.51" r="1.35" fill="none" stroke="#111" stroke-width="0.5"/>
<path d="M282.07 569.6H286.53M282.07 566.4v6.4M286.53 566.4v6.4" stroke="#111" stroke-width="0.55" fill="none"/>
<circle cx="281.35" cy="569.6" r="1.35" fill="none" stroke="#111" stroke-width="0.5"/>
<circle cx="284.81" cy="569.6" r="1.35" fill="none" stroke="#111" stroke-width="0.5"/>
<circle cx="286.74" cy="569.6" r="1.35" fill="none" stroke="#111" stroke-width="0.5"/>
<path d="M278.75 577.69H281.64M278.75 574.49v6.4M281.64 574.49v6.4" stroke="#111" stroke-width="0.55" fill="none"/>
<circle cx="278.27" cy="577.69" r="1.35" fill="none" stroke="#111" stroke-width="0.5"/>
<circle cx="280.58" cy="577.69" r="1.35" fill="none" stroke="#111" stroke-width="0.5"/>
<circle cx="281.74" cy="577.69" r="1.35" fill="none" stroke="#111" stroke-width="0.5"/>
<path d="M282.07 585.78H286.53M282.07 582.58v6.4M286.53 582.58v6.4" stroke="#111" stroke-width="0.55" fill="none"/>
<circle cx="281.35" cy="585.78" r="1.35" fill="none" stroke="#111" stroke-width="0.5"/>
<circle cx="284.81" cy="585.78" r="1.35" fill="none" stroke="#111" stroke-width="0.5"/>
<circle cx="286.74" cy="585.78" r="1.35" fill="none" stroke="#111" stroke-width="0.5"/>
<path d="M273.26 593.87H276.73M273.26 590.67v6.4M276.73 590.67v6.4" stroke="#111" stroke-width="0.55" fill="none"/>
<circle cx="272.5" cy="593.87" r="1.35" fill="none" stroke="#111" stroke-width="0.5"/>
<circle cx="276.73" cy="593.87" r="1.35" fill="none" stroke="#111" stroke-width="0.5"/>
<path d="M264.8 601.96H266.33M264.8 598.76v6.4M266.33 598.76v6.4" stroke="#111" stroke-width="0.55" fill="none"/>
<circle cx="264.79" cy="601.96" r="1.35" fill="none" stroke="#111" stroke-width="0.5"/>
<circle cx="266.33" cy="601.96" r="1.35" fill="none" stroke="#111" stroke-width="0.5"/>
<path d="M259.02 610.05H271.72M259.02 606.85v6.4M271.72 606.85v6.4" stroke="#111" stroke-width="0.55" fill="none"/>
<circle cx="259.02" cy="610.05" r="1.35" fill="none" stroke="#111" stroke-width="0.5"/>
<circle cx="276.73" cy="610.05" r="1.35" fill="none" stroke="#111" stroke-width="0.5"/>
<path d="M254.4 618.14H260.56M254.4 614.94v6.4M260.56 614.94v6.4" stroke="#111" stroke-width="0.55" fill="none"/>
<circle cx="254.4" cy="618.14" r="1.35" fill="none" stroke="#111" stroke-width="0.5"/>
<circle cx="263.64" cy="618.14" r="1.35" fill="none" stroke="#111" stroke-width="0.5"/>
<path d="M254.4 626.23H260.56M254.4 623.03v6.4M260.56 623.03v6.4" stroke="#111" stroke-width="0.55" fill="none"/>
<circle cx="254.4" cy="626.23" r="1.35" fill="none" stroke="#111" stroke-width="0.5"/>
<circle cx="263.64" cy="626.23" r="1.35" fill="none" stroke="#111" stroke-width="0.5"/>
<path d="M265.18 634.32H270.19M265.18 631.12v6.4M270.19 631.12v6.4" stroke="#111" stroke-width="0.55" fill="none"/>
<circle cx="262.87" cy="634.32" r="1.35" fill="none" stroke="#111" stroke-width="0.5"/>
<circle cx="270.95" cy="634.32" r="1.35" fill="none" stroke="#111" stroke-width="0.5"/>
<path d="M278.27 642.41H284.43M278.27 639.21v6.4M284.43 639.21v6.4" stroke="#111" stroke-width="0.55" fill="none"/>
<circle cx="275.96" cy="642.41" r="1.35" fill="none" stroke="#111" stroke-width="0.5"/>
<circle cx="282.89" cy="642.41" r="1.35" fill="none" stroke="#111" stroke-width="0.5"/>
<circle cx="278.27" cy="650.5" r="1.35" fill="none" stroke="#111" stroke-width="0.5"/>
<line x1="278.27" x2="278.27" y1="647.9" y2="653.1" stroke="#111" stroke-width="0.45"/>
<circle cx="287.51" cy="658.59" r="1.35" fill="none" stroke="#111" stroke-width="0.5"/>
<line x1="287.51" x2="287.51" y1="655.99" y2="661.19" stroke="#111" stroke-width="0.45"/>
<circle cx="287.89" cy="666.68" r="1.35" fill="none" stroke="#111" stroke-width="0.5"/>
<line x1="287.89" x2="287.89" y1="664.08" y2="669.28" stroke="#111" stroke-width="0.45"/>
<circle cx="282.12" cy="674.77" r="1.35" fill="none" stroke="#111" stroke-width="0.5"/>
<line x1="282.12" x2="282.12" y1="672.17" y2="677.37" stroke="#111" stroke-width="0.45"/>
<path d="M277.5 682.86H282.89M277.5 679.66v6.4M282.89 679.66v6.4" stroke="#111" stroke-width="0.55" fill="none"/>
<circle cx="275.19" cy="682.86" r="1.35" fill="none" stroke="#111" stroke-width="0.5"/>
<circle cx="282.12" cy="682.86" r="1.35" fill="none" stroke="#111" stroke-width="0.5"/>
<path d="M270.19 690.95H275.96M270.19 687.75v6.4M275.96 687.75v6.4" stroke="#111" stroke-width="0.55" fill="none"/>
<circle cx="267.88" cy="690.95" r="1.35" fill="none" stroke="#111" stroke-width="0.5"/>
<circle cx="275.57" cy="690.95" r="1.35" fill="none" stroke="#111" stroke-width="0.5"/>
<path d="M277.5 699.04H282.12M277.5 695.84v6.4M282.12 695.84v6.4" stroke="#111" stroke-width="0.55" fill="none"/>
<circle cx="275.19" cy="699.04" r="1.35" fill="none" stroke="#111" stroke-width="0.5"/>
<circle cx="281.35" cy="699.04" r="1.35" fill="none" stroke="#111" stroke-width="0.5"/>
<path d="M270.19 707.13H275.96M270.19 703.93v6.4M275.96 703.93v6.4" stroke="#111" stroke-width="0.55" fill="none"/>
<circle cx="267.88" cy="707.13" r="1.35" fill="none" stroke="#111" stroke-width="0.5"/>
<circle cx="275.57" cy="707.13" r="1.35" fill="none" stroke="#111" stroke-width="0.5"/>
<circle cx="273.65" cy="715.22" r="1.35" fill="none" stroke="#111" stroke-width="0.5"/>
<line x1="273.65" x2="273.65" y1="712.62" y2="717.82" stroke="#111" stroke-width="0.45"/>
<rect x="228.1" y="403" width="83.95" height="316.6" fill="none" stroke="#4e5256" stroke-width="0.7"/>
<line x1="239" x2="239" y1="719.6" y2="722.4" stroke="#333" stroke-width="0.5"/>
<text x="239" y="732.3" text-anchor="middle" font-size="9.8" fill="#0a0a0a">−6</text>
<line x1="254.4" x2="254.4" y1="719.6" y2="722.4" stroke="#333" stroke-width="0.5"/>
<text x="254.4" y="732.3" text-anchor="middle" font-size="9.8" fill="#0a0a0a">−4</text>
<line x1="269.8" x2="269.8" y1="719.6" y2="722.4" stroke="#333" stroke-width="0.5"/>
<text x="269.8" y="732.3" text-anchor="middle" font-size="9.8" fill="#0a0a0a">−2</text>
<line x1="285.2" x2="285.2" y1="719.6" y2="722.4" stroke="#333" stroke-width="0.5"/>
<text x="285.2" y="732.3" text-anchor="middle" font-size="9.8" fill="#0a0a0a">0</text>
<line x1="300.6" x2="300.6" y1="719.6" y2="722.4" stroke="#333" stroke-width="0.5"/>
<text x="300.6" y="732.3" text-anchor="middle" font-size="9.8" fill="#0a0a0a">2</text>
<rect x="317.9" y="403" width="83.95" height="316.6" fill="#fff" stroke="none"/>
<line x1="367.3" x2="367.3" y1="403" y2="719.6" stroke="#4a5058" stroke-width="0.4" stroke-dasharray="1.3 1.45"/>
<line x1="382.7" x2="382.7" y1="403" y2="719.6" stroke="#4a5058" stroke-width="0.4" stroke-dasharray="1.3 1.45"/>
<rect x="375" y="420.38" width="5.39" height="7.2" fill="#D9CE8F" stroke="#8f8f8f" stroke-width="0.3"/>
<rect x="373.07" y="428.47" width="1.93" height="7.2" fill="#D9CE8F" stroke="#8f8f8f" stroke-width="0.3"/>
<rect x="375" y="436.56" width="1.16" height="7.2" fill="#D9CE8F" stroke="#8f8f8f" stroke-width="0.3"/>
<rect x="368.07" y="444.65" width="6.93" height="7.2" fill="#D9CE8F" stroke="#8f8f8f" stroke-width="0.3"/>
<rect x="363.45" y="452.74" width="11.55" height="7.2" fill="#D9CE8F" stroke="#8f8f8f" stroke-width="0.3"/>
<rect x="375" y="460.83" width="1.16" height="7.2" fill="#FCAF21" stroke="#8f8f8f" stroke-width="0.3"/>
<rect x="365.76" y="468.92" width="9.24" height="7.2" fill="#FCAF21" stroke="#8f8f8f" stroke-width="0.3"/>
<rect x="352.28" y="477.01" width="22.72" height="7.2" fill="#FCAF21" stroke="#8f8f8f" stroke-width="0.3"/>
<rect x="375" y="485.1" width="1.54" height="7.2" fill="#FCAF21" stroke="#8f8f8f" stroke-width="0.3"/>
<rect x="364.22" y="493.19" width="10.78" height="7.2" fill="#FCAF21" stroke="#8f8f8f" stroke-width="0.3"/>
<rect x="374.23" y="501.28" width="0.77" height="7.2" fill="#FCAF21" stroke="#8f8f8f" stroke-width="0.3"/>
<rect x="371.15" y="509.37" width="3.85" height="7.2" fill="#FCAF21" stroke="#8f8f8f" stroke-width="0.3"/>
<rect x="375" y="517.46" width="1.54" height="7.2" fill="#D21E4B" stroke="#8f8f8f" stroke-width="0.3"/>
<rect x="375" y="525.55" width="0.77" height="7.2" fill="#D21E4B" stroke="#8f8f8f" stroke-width="0.3"/>
<rect x="375" y="533.64" width="1.93" height="7.2" fill="#D21E4B" stroke="#8f8f8f" stroke-width="0.3"/>
<rect x="373.85" y="566" width="1.16" height="7.2" fill="#D21E4B" stroke="#8f8f8f" stroke-width="0.3"/>
<rect x="365.38" y="574.09" width="9.62" height="7.2" fill="#D21E4B" stroke="#8f8f8f" stroke-width="0.3"/>
<rect x="373.85" y="582.18" width="1.16" height="7.2" fill="#D21E4B" stroke="#8f8f8f" stroke-width="0.3"/>
<rect x="364.22" y="590.27" width="10.78" height="7.2" fill="#D21E4B" stroke="#8f8f8f" stroke-width="0.3"/>
<rect x="348.05" y="598.36" width="26.95" height="7.2" fill="#D21E4B" stroke="#8f8f8f" stroke-width="0.3"/>
<rect x="343.05" y="606.45" width="31.96" height="7.2" fill="#D21E4B" stroke="#8f8f8f" stroke-width="0.3"/>
<rect x="339.97" y="614.54" width="35.03" height="7.2" fill="#D21E4B" stroke="#8f8f8f" stroke-width="0.3"/>
<rect x="339.97" y="622.63" width="35.03" height="7.2" fill="#D21E4B" stroke="#8f8f8f" stroke-width="0.3"/>
<rect x="351.51" y="630.72" width="23.48" height="7.2" fill="#D21E4B" stroke="#8f8f8f" stroke-width="0.3"/>
<rect x="371.54" y="638.81" width="3.47" height="7.2" fill="#54101C" stroke="#8f8f8f" stroke-width="0.3"/>
<rect x="375" y="663.08" width="0.39" height="7.2" fill="#54101C" stroke="#8f8f8f" stroke-width="0.3"/>
<rect x="371.15" y="671.17" width="3.85" height="7.2" fill="#54101C" stroke="#8f8f8f" stroke-width="0.3"/>
<rect x="371.54" y="679.26" width="3.47" height="7.2" fill="#54101C" stroke="#8f8f8f" stroke-width="0.3"/>
<rect x="358.83" y="687.35" width="16.17" height="7.2" fill="#54101C" stroke="#8f8f8f" stroke-width="0.3"/>
<rect x="371.54" y="695.44" width="3.47" height="7.2" fill="#54101C" stroke="#8f8f8f" stroke-width="0.3"/>
<rect x="358.83" y="703.53" width="16.17" height="7.2" fill="#54101C" stroke="#8f8f8f" stroke-width="0.3"/>
<rect x="361.14" y="711.62" width="13.86" height="7.2" fill="#54101C" stroke="#8f8f8f" stroke-width="0.3"/>
<line x1="375" x2="375" y1="403" y2="719.6" stroke="#222" stroke-width="0.7"/>
<circle cx="375.77" cy="407.8" r="1.35" fill="none" stroke="#111" stroke-width="0.5"/>
<line x1="375.77" x2="375.77" y1="405.2" y2="410.4" stroke="#111" stroke-width="0.45"/>
<path d="M373.46 415.89H375.38M373.46 412.69v6.4M375.38 412.69v6.4" stroke="#111" stroke-width="0.55" fill="none"/>
<circle cx="373.46" cy="415.89" r="1.35" fill="none" stroke="#111" stroke-width="0.5"/>
<circle cx="375.38" cy="415.89" r="1.35" fill="none" stroke="#111" stroke-width="0.5"/>
<circle cx="380.77" cy="423.98" r="1.35" fill="none" stroke="#5a5a5a" stroke-width="0.5"/>
<line x1="380.77" x2="380.77" y1="421.38" y2="426.58" stroke="#5a5a5a" stroke-width="0.45"/>
<path d="M370.57 432.07H375.58M370.57 428.87v6.4M375.58 428.87v6.4" stroke="#111" stroke-width="0.55" fill="none"/>
<circle cx="369.61" cy="432.07" r="1.35" fill="none" stroke="#111" stroke-width="0.5"/>
<circle cx="372.31" cy="432.07" r="1.35" fill="none" stroke="#111" stroke-width="0.5"/>
<circle cx="373.85" cy="432.07" r="1.35" fill="none" stroke="#111" stroke-width="0.5"/>
<circle cx="376.54" cy="432.07" r="1.35" fill="none" stroke="#111" stroke-width="0.5"/>
<path d="M371.15 440.16H381.93M371.15 436.96v6.4M381.93 436.96v6.4" stroke="#111" stroke-width="0.55" fill="none"/>
<circle cx="371.15" cy="440.16" r="1.35" fill="none" stroke="#111" stroke-width="0.5"/>
<circle cx="386.17" cy="440.16" r="1.35" fill="none" stroke="#111" stroke-width="0.5"/>
<path d="M367.3 448.25H368.84M367.3 445.05v6.4M368.84 445.05v6.4" stroke="#111" stroke-width="0.55" fill="none"/>
<circle cx="367.69" cy="448.25" r="1.35" fill="none" stroke="#111" stroke-width="0.5"/>
<circle cx="368.45" cy="448.25" r="1.35" fill="none" stroke="#111" stroke-width="0.5"/>
<circle cx="363.45" cy="456.34" r="1.35" fill="none" stroke="#111" stroke-width="0.5"/>
<line x1="363.45" x2="363.45" y1="453.74" y2="458.94" stroke="#111" stroke-width="0.45"/>
<path d="M375.28 464.43H377.8M375.28 461.23v6.4M377.8 461.23v6.4" stroke="#111" stroke-width="0.55" fill="none"/>
<circle cx="375" cy="464.43" r="1.35" fill="none" stroke="#111" stroke-width="0.5"/>
<circle cx="376.54" cy="464.43" r="1.35" fill="none" stroke="#111" stroke-width="0.5"/>
<circle cx="378.08" cy="464.43" r="1.35" fill="none" stroke="#111" stroke-width="0.5"/>
<path d="M363.45 472.52H368.45M363.45 469.32v6.4M368.45 469.32v6.4" stroke="#111" stroke-width="0.55" fill="none"/>
<circle cx="361.14" cy="472.52" r="1.35" fill="none" stroke="#111" stroke-width="0.5"/>
<circle cx="365.38" cy="472.52" r="1.35" fill="none" stroke="#111" stroke-width="0.5"/>
<circle cx="368.45" cy="472.52" r="1.35" fill="none" stroke="#111" stroke-width="0.5"/>
<circle cx="370.76" cy="472.52" r="1.35" fill="none" stroke="#111" stroke-width="0.5"/>
<path d="M342.66 480.61H361.91M342.66 477.41v6.4M361.91 477.41v6.4" stroke="#111" stroke-width="0.55" fill="none"/>
<circle cx="334.19" cy="480.61" r="1.35" fill="none" stroke="#111" stroke-width="0.5"/>
<circle cx="356.52" cy="480.61" r="1.35" fill="none" stroke="#111" stroke-width="0.5"/>
<circle cx="366.92" cy="480.61" r="1.35" fill="none" stroke="#111" stroke-width="0.5"/>
<path d="M376.54 488.7H378.08M376.54 485.5v6.4M378.08 485.5v6.4" stroke="#111" stroke-width="0.55" fill="none"/>
<circle cx="376.54" cy="488.7" r="1.35" fill="none" stroke="#111" stroke-width="0.5"/>
<circle cx="378.08" cy="488.7" r="1.35" fill="none" stroke="#111" stroke-width="0.5"/>
<path d="M363.06 496.79H364.99M363.06 493.59v6.4M364.99 493.59v6.4" stroke="#111" stroke-width="0.55" fill="none"/>
<circle cx="362.3" cy="496.79" r="1.35" fill="none" stroke="#111" stroke-width="0.5"/>
<circle cx="364.99" cy="496.79" r="1.35" fill="none" stroke="#111" stroke-width="0.5"/>
<path d="M373.07 504.88H373.85M373.07 501.68v6.4M373.85 501.68v6.4" stroke="#111" stroke-width="0.55" fill="none"/>
<circle cx="373.07" cy="504.88" r="1.35" fill="none" stroke="#111" stroke-width="0.5"/>
<circle cx="373.85" cy="504.88" r="1.35" fill="none" stroke="#111" stroke-width="0.5"/>
<path d="M370 512.97H372.69M370 509.77v6.4M372.69 509.77v6.4" stroke="#111" stroke-width="0.55" fill="none"/>
<circle cx="369.23" cy="512.97" r="1.35" fill="none" stroke="#111" stroke-width="0.5"/>
<circle cx="372.69" cy="512.97" r="1.35" fill="none" stroke="#111" stroke-width="0.5"/>
<path d="M375.77 521.06H378.08M375.77 517.86v6.4M378.08 517.86v6.4" stroke="#111" stroke-width="0.55" fill="none"/>
<circle cx="375.77" cy="521.06" r="1.35" fill="none" stroke="#111" stroke-width="0.5"/>
<circle cx="378.08" cy="521.06" r="1.35" fill="none" stroke="#111" stroke-width="0.5"/>
<path d="M374.23 529.15H378.08M374.23 525.95v6.4M378.08 525.95v6.4" stroke="#111" stroke-width="0.55" fill="none"/>
<circle cx="374.23" cy="529.15" r="1.35" fill="none" stroke="#111" stroke-width="0.5"/>
<circle cx="378.08" cy="529.15" r="1.35" fill="none" stroke="#111" stroke-width="0.5"/>
<path d="M375.77 537.24H378.08M375.77 534.04v6.4M378.08 534.04v6.4" stroke="#111" stroke-width="0.55" fill="none"/>
<circle cx="375.77" cy="537.24" r="1.35" fill="none" stroke="#111" stroke-width="0.5"/>
<circle cx="378.08" cy="537.24" r="1.35" fill="none" stroke="#111" stroke-width="0.5"/>
<path d="M372.69 545.33H376.54M372.69 542.13v6.4M376.54 542.13v6.4" stroke="#5a5a5a" stroke-width="0.55" fill="none"/>
<circle cx="372.69" cy="545.33" r="1.35" fill="none" stroke="#5a5a5a" stroke-width="0.5"/>
<circle cx="376.54" cy="545.33" r="1.35" fill="none" stroke="#5a5a5a" stroke-width="0.5"/>
<circle cx="375" cy="553.42" r="1.35" fill="none" stroke="#111" stroke-width="0.5"/>
<line x1="375" x2="375" y1="550.82" y2="556.02" stroke="#111" stroke-width="0.45"/>
<circle cx="375" cy="561.51" r="1.35" fill="none" stroke="#111" stroke-width="0.5"/>
<line x1="375" x2="375" y1="558.91" y2="564.11" stroke="#111" stroke-width="0.45"/>
<circle cx="373.46" cy="569.6" r="1.35" fill="none" stroke="#111" stroke-width="0.5"/>
<line x1="373.46" x2="373.46" y1="567" y2="572.2" stroke="#111" stroke-width="0.45"/>
<path d="M364.61 577.69H366.14M364.61 574.49v6.4M366.14 574.49v6.4" stroke="#111" stroke-width="0.55" fill="none"/>
<circle cx="364.61" cy="577.69" r="1.35" fill="none" stroke="#111" stroke-width="0.5"/>
<circle cx="366.14" cy="577.69" r="1.35" fill="none" stroke="#111" stroke-width="0.5"/>
<circle cx="373.46" cy="585.78" r="1.35" fill="none" stroke="#111" stroke-width="0.5"/>
<line x1="373.46" x2="373.46" y1="583.18" y2="588.38" stroke="#111" stroke-width="0.45"/>
<circle cx="363.83" cy="593.87" r="1.35" fill="none" stroke="#111" stroke-width="0.5"/>
<line x1="363.83" x2="363.83" y1="591.27" y2="596.47" stroke="#111" stroke-width="0.45"/>
<path d="M346.51 601.96H349.59M346.51 598.76v6.4M349.59 598.76v6.4" stroke="#111" stroke-width="0.55" fill="none"/>
<circle cx="346.89" cy="601.96" r="1.35" fill="none" stroke="#111" stroke-width="0.5"/>
<circle cx="349.98" cy="601.96" r="1.35" fill="none" stroke="#111" stroke-width="0.5"/>
<path d="M338.81 610.05H346.12M338.81 606.85v6.4M346.12 606.85v6.4" stroke="#111" stroke-width="0.55" fill="none"/>
<circle cx="338.81" cy="610.05" r="1.35" fill="none" stroke="#111" stroke-width="0.5"/>
<circle cx="349.98" cy="610.05" r="1.35" fill="none" stroke="#111" stroke-width="0.5"/>
<path d="M337.27 618.14H341.12M337.27 614.94v6.4M341.12 614.94v6.4" stroke="#111" stroke-width="0.55" fill="none"/>
<circle cx="337.27" cy="618.14" r="1.35" fill="none" stroke="#111" stroke-width="0.5"/>
<circle cx="341.12" cy="618.14" r="1.35" fill="none" stroke="#111" stroke-width="0.5"/>
<path d="M337.27 626.23H341.12M337.27 623.03v6.4M341.12 623.03v6.4" stroke="#111" stroke-width="0.55" fill="none"/>
<circle cx="337.27" cy="626.23" r="1.35" fill="none" stroke="#111" stroke-width="0.5"/>
<circle cx="341.12" cy="626.23" r="1.35" fill="none" stroke="#111" stroke-width="0.5"/>
<path d="M349.2 634.32H352.28M349.2 631.12v6.4M352.28 631.12v6.4" stroke="#111" stroke-width="0.55" fill="none"/>
<circle cx="349.2" cy="634.32" r="1.35" fill="none" stroke="#111" stroke-width="0.5"/>
<circle cx="352.28" cy="634.32" r="1.35" fill="none" stroke="#111" stroke-width="0.5"/>
<path d="M369.23 642.41H372.69M369.23 639.21v6.4M372.69 639.21v6.4" stroke="#111" stroke-width="0.55" fill="none"/>
<circle cx="369.23" cy="642.41" r="1.35" fill="none" stroke="#111" stroke-width="0.5"/>
<circle cx="372.69" cy="642.41" r="1.35" fill="none" stroke="#111" stroke-width="0.5"/>
<circle cx="375.38" cy="650.5" r="1.35" fill="none" stroke="#111" stroke-width="0.5"/>
<line x1="375.38" x2="375.38" y1="647.9" y2="653.1" stroke="#111" stroke-width="0.45"/>
<circle cx="373.85" cy="658.59" r="1.35" fill="none" stroke="#111" stroke-width="0.5"/>
<line x1="373.85" x2="373.85" y1="655.99" y2="661.19" stroke="#111" stroke-width="0.45"/>
<path d="M375 666.68H376.93M375 663.48v6.4M376.93 663.48v6.4" stroke="#111" stroke-width="0.55" fill="none"/>
<circle cx="375" cy="666.68" r="1.35" fill="none" stroke="#111" stroke-width="0.5"/>
<circle cx="376.93" cy="666.68" r="1.35" fill="none" stroke="#111" stroke-width="0.5"/>
<circle cx="370" cy="674.77" r="1.35" fill="none" stroke="#111" stroke-width="0.5"/>
<line x1="370" x2="370" y1="672.17" y2="677.37" stroke="#111" stroke-width="0.45"/>
<path d="M371.15 682.86H372.69M371.15 679.66v6.4M372.69 679.66v6.4" stroke="#111" stroke-width="0.55" fill="none"/>
<circle cx="371.15" cy="682.86" r="1.35" fill="none" stroke="#111" stroke-width="0.5"/>
<circle cx="372.69" cy="682.86" r="1.35" fill="none" stroke="#111" stroke-width="0.5"/>
<path d="M357.29 690.95H358.83M357.29 687.75v6.4M358.83 687.75v6.4" stroke="#111" stroke-width="0.55" fill="none"/>
<circle cx="357.29" cy="690.95" r="1.35" fill="none" stroke="#111" stroke-width="0.5"/>
<circle cx="358.83" cy="690.95" r="1.35" fill="none" stroke="#111" stroke-width="0.5"/>
<path d="M370.38 699.04H372.69M370.38 695.84v6.4M372.69 695.84v6.4" stroke="#111" stroke-width="0.55" fill="none"/>
<circle cx="370.38" cy="699.04" r="1.35" fill="none" stroke="#111" stroke-width="0.5"/>
<circle cx="372.69" cy="699.04" r="1.35" fill="none" stroke="#111" stroke-width="0.5"/>
<path d="M357.29 707.13H358.83M357.29 703.93v6.4M358.83 703.93v6.4" stroke="#111" stroke-width="0.55" fill="none"/>
<circle cx="357.29" cy="707.13" r="1.35" fill="none" stroke="#111" stroke-width="0.5"/>
<circle cx="358.83" cy="707.13" r="1.35" fill="none" stroke="#111" stroke-width="0.5"/>
<path d="M358.83 715.22H362.68M358.83 712.02v6.4M362.68 712.02v6.4" stroke="#111" stroke-width="0.55" fill="none"/>
<circle cx="358.83" cy="715.22" r="1.35" fill="none" stroke="#111" stroke-width="0.5"/>
<circle cx="362.3" cy="715.22" r="1.35" fill="none" stroke="#111" stroke-width="0.5"/>
<rect x="317.9" y="403" width="83.95" height="316.6" fill="none" stroke="#4e5256" stroke-width="0.7"/>
<line x1="328.8" x2="328.8" y1="719.6" y2="722.4" stroke="#333" stroke-width="0.5"/>
<text x="328.8" y="732.3" text-anchor="middle" font-size="9.8" fill="#0a0a0a">−6</text>
<line x1="344.2" x2="344.2" y1="719.6" y2="722.4" stroke="#333" stroke-width="0.5"/>
<text x="344.2" y="732.3" text-anchor="middle" font-size="9.8" fill="#0a0a0a">−4</text>
<line x1="359.6" x2="359.6" y1="719.6" y2="722.4" stroke="#333" stroke-width="0.5"/>
<text x="359.6" y="732.3" text-anchor="middle" font-size="9.8" fill="#0a0a0a">−2</text>
<line x1="375" x2="375" y1="719.6" y2="722.4" stroke="#333" stroke-width="0.5"/>
<text x="375" y="732.3" text-anchor="middle" font-size="9.8" fill="#0a0a0a">0</text>
<line x1="390.4" x2="390.4" y1="719.6" y2="722.4" stroke="#333" stroke-width="0.5"/>
<text x="390.4" y="732.3" text-anchor="middle" font-size="9.8" fill="#0a0a0a">2</text>
<rect x="407.7" y="403" width="83.95" height="316.6" fill="#fff" stroke="none"/>
<line x1="457.1" x2="457.1" y1="403" y2="719.6" stroke="#4a5058" stroke-width="0.4" stroke-dasharray="1.3 1.45"/>
<line x1="472.5" x2="472.5" y1="403" y2="719.6" stroke="#4a5058" stroke-width="0.4" stroke-dasharray="1.3 1.45"/>
<rect x="464.8" y="428.47" width="3.08" height="7.2" fill="#D9CE8F" stroke="#8f8f8f" stroke-width="0.3"/>
<rect x="458.25" y="444.65" width="6.54" height="7.2" fill="#D9CE8F" stroke="#8f8f8f" stroke-width="0.3"/>
<rect x="447.48" y="452.74" width="17.32" height="7.2" fill="#D9CE8F" stroke="#8f8f8f" stroke-width="0.3"/>
<rect x="464.8" y="460.83" width="1.16" height="7.2" fill="#FCAF21" stroke="#8f8f8f" stroke-width="0.3"/>
<rect x="436.31" y="468.92" width="28.49" height="7.2" fill="#FCAF21" stroke="#8f8f8f" stroke-width="0.3"/>
<rect x="424.76" y="477.01" width="40.04" height="7.2" fill="#FCAF21" stroke="#8f8f8f" stroke-width="0.3"/>
<rect x="464.8" y="485.1" width="2.31" height="7.2" fill="#FCAF21" stroke="#8f8f8f" stroke-width="0.3"/>
<rect x="452.1" y="493.19" width="12.71" height="7.2" fill="#FCAF21" stroke="#8f8f8f" stroke-width="0.3"/>
<rect x="463.26" y="501.28" width="1.54" height="7.2" fill="#FCAF21" stroke="#8f8f8f" stroke-width="0.3"/>
<rect x="463.65" y="509.37" width="1.16" height="7.2" fill="#FCAF21" stroke="#8f8f8f" stroke-width="0.3"/>
<rect x="464.8" y="517.46" width="1.16" height="7.2" fill="#D21E4B" stroke="#8f8f8f" stroke-width="0.3"/>
<rect x="463.65" y="541.73" width="1.16" height="7.2" fill="#D21E4B" stroke="#8f8f8f" stroke-width="0.3"/>
<rect x="459.41" y="566" width="5.39" height="7.2" fill="#D21E4B" stroke="#8f8f8f" stroke-width="0.3"/>
<rect x="443.24" y="574.09" width="21.56" height="7.2" fill="#D21E4B" stroke="#8f8f8f" stroke-width="0.3"/>
<rect x="459.41" y="582.18" width="5.39" height="7.2" fill="#D21E4B" stroke="#8f8f8f" stroke-width="0.3"/>
<rect x="447.09" y="590.27" width="17.71" height="7.2" fill="#D21E4B" stroke="#8f8f8f" stroke-width="0.3"/>
<rect x="427.07" y="598.36" width="37.73" height="7.2" fill="#D21E4B" stroke="#8f8f8f" stroke-width="0.3"/>
<rect x="427.07" y="606.45" width="37.73" height="7.2" fill="#D21E4B" stroke="#8f8f8f" stroke-width="0.3"/>
<rect x="423.22" y="614.54" width="41.58" height="7.2" fill="#D21E4B" stroke="#8f8f8f" stroke-width="0.3"/>
<rect x="423.22" y="622.63" width="41.58" height="7.2" fill="#D21E4B" stroke="#8f8f8f" stroke-width="0.3"/>
<rect x="437.08" y="630.72" width="27.72" height="7.2" fill="#D21E4B" stroke="#8f8f8f" stroke-width="0.3"/>
<rect x="459.03" y="638.81" width="5.78" height="7.2" fill="#54101C" stroke="#8f8f8f" stroke-width="0.3"/>
<rect x="460.56" y="671.17" width="4.24" height="7.2" fill="#54101C" stroke="#8f8f8f" stroke-width="0.3"/>
<rect x="456.33" y="679.26" width="8.47" height="7.2" fill="#54101C" stroke="#8f8f8f" stroke-width="0.3"/>
<rect x="450.17" y="687.35" width="14.63" height="7.2" fill="#54101C" stroke="#8f8f8f" stroke-width="0.3"/>
<rect x="456.33" y="695.44" width="8.47" height="7.2" fill="#54101C" stroke="#8f8f8f" stroke-width="0.3"/>
<rect x="450.17" y="703.53" width="14.63" height="7.2" fill="#54101C" stroke="#8f8f8f" stroke-width="0.3"/>
<rect x="444.78" y="711.62" width="20.02" height="7.2" fill="#54101C" stroke="#8f8f8f" stroke-width="0.3"/>
<line x1="464.8" x2="464.8" y1="403" y2="719.6" stroke="#222" stroke-width="0.7"/>
<circle cx="465.19" cy="407.8" r="1.35" fill="none" stroke="#111" stroke-width="0.5"/>
<line x1="465.19" x2="465.19" y1="405.2" y2="410.4" stroke="#111" stroke-width="0.45"/>
<circle cx="465.19" cy="415.89" r="1.35" fill="none" stroke="#111" stroke-width="0.5"/>
<line x1="465.19" x2="465.19" y1="413.29" y2="418.49" stroke="#111" stroke-width="0.45"/>
<circle cx="463.26" cy="423.98" r="1.35" fill="none" stroke="#5a5a5a" stroke-width="0.5"/>
<line x1="463.26" x2="463.26" y1="421.38" y2="426.58" stroke="#5a5a5a" stroke-width="0.45"/>
<circle cx="467.88" cy="432.07" r="1.35" fill="none" stroke="#111" stroke-width="0.5"/>
<line x1="467.88" x2="467.88" y1="429.47" y2="434.67" stroke="#111" stroke-width="0.45"/>
<path d="M463.26 440.16H468.65M463.26 436.96v6.4M468.65 436.96v6.4" stroke="#5a5a5a" stroke-width="0.55" fill="none"/>
<circle cx="463.26" cy="440.16" r="1.35" fill="none" stroke="#5a5a5a" stroke-width="0.5"/>
<circle cx="468.65" cy="440.16" r="1.35" fill="none" stroke="#5a5a5a" stroke-width="0.5"/>
<path d="M453.63 448.25H462.49M453.63 445.05v6.4M462.49 445.05v6.4" stroke="#111" stroke-width="0.55" fill="none"/>
<circle cx="453.63" cy="448.25" r="1.35" fill="none" stroke="#111" stroke-width="0.5"/>
<circle cx="462.49" cy="448.25" r="1.35" fill="none" stroke="#111" stroke-width="0.5"/>
<circle cx="447.48" cy="456.34" r="1.35" fill="none" stroke="#111" stroke-width="0.5"/>
<line x1="447.48" x2="447.48" y1="453.74" y2="458.94" stroke="#111" stroke-width="0.45"/>
<circle cx="466.34" cy="464.43" r="1.35" fill="none" stroke="#111" stroke-width="0.5"/>
<line x1="466.34" x2="466.34" y1="461.83" y2="467.03" stroke="#111" stroke-width="0.45"/>
<path d="M424.38 472.52H447.48M424.38 469.32v6.4M447.48 469.32v6.4" stroke="#111" stroke-width="0.55" fill="none"/>
<circle cx="424.38" cy="472.52" r="1.35" fill="none" stroke="#111" stroke-width="0.5"/>
<circle cx="447.48" cy="472.52" r="1.35" fill="none" stroke="#111" stroke-width="0.5"/>
<circle cx="424.38" cy="480.61" r="1.35" fill="none" stroke="#111" stroke-width="0.5"/>
<line x1="424.38" x2="424.38" y1="478.01" y2="483.21" stroke="#111" stroke-width="0.45"/>
<circle cx="466.34" cy="488.7" r="1.35" fill="none" stroke="#111" stroke-width="0.5"/>
<line x1="466.34" x2="466.34" y1="486.1" y2="491.3" stroke="#111" stroke-width="0.45"/>
<circle cx="468.65" cy="488.7" r="1.35" fill="none" stroke="#111" stroke-width="0.5"/>
<line x1="468.65" x2="468.65" y1="486.1" y2="491.3" stroke="#111" stroke-width="0.45"/>
<path d="M449.4 496.79H454.41M449.4 493.59v6.4M454.41 493.59v6.4" stroke="#111" stroke-width="0.55" fill="none"/>
<circle cx="449.4" cy="496.79" r="1.35" fill="none" stroke="#111" stroke-width="0.5"/>
<circle cx="454.41" cy="496.79" r="1.35" fill="none" stroke="#111" stroke-width="0.5"/>
<circle cx="462.49" cy="504.88" r="1.35" fill="none" stroke="#111" stroke-width="0.5"/>
<line x1="462.49" x2="462.49" y1="502.28" y2="507.48" stroke="#111" stroke-width="0.45"/>
<circle cx="463.26" cy="504.88" r="1.35" fill="none" stroke="#111" stroke-width="0.5"/>
<line x1="463.26" x2="463.26" y1="502.28" y2="507.48" stroke="#111" stroke-width="0.45"/>
<path d="M460.95 512.97H466.34M460.95 509.77v6.4M466.34 509.77v6.4" stroke="#5a5a5a" stroke-width="0.55" fill="none"/>
<circle cx="460.95" cy="512.97" r="1.35" fill="none" stroke="#5a5a5a" stroke-width="0.5"/>
<circle cx="466.34" cy="512.97" r="1.35" fill="none" stroke="#5a5a5a" stroke-width="0.5"/>
<circle cx="465.57" cy="521.06" r="1.35" fill="none" stroke="#111" stroke-width="0.5"/>
<line x1="465.57" x2="465.57" y1="518.46" y2="523.66" stroke="#111" stroke-width="0.45"/>
<circle cx="467.11" cy="521.06" r="1.35" fill="none" stroke="#111" stroke-width="0.5"/>
<line x1="467.11" x2="467.11" y1="518.46" y2="523.66" stroke="#111" stroke-width="0.45"/>
<path d="M463.26 529.15H467.88M463.26 525.95v6.4M467.88 525.95v6.4" stroke="#5a5a5a" stroke-width="0.55" fill="none"/>
<circle cx="463.26" cy="529.15" r="1.35" fill="none" stroke="#5a5a5a" stroke-width="0.5"/>
<circle cx="467.88" cy="529.15" r="1.35" fill="none" stroke="#5a5a5a" stroke-width="0.5"/>
<path d="M464.03 537.24H467.11M464.03 534.04v6.4M467.11 534.04v6.4" stroke="#111" stroke-width="0.55" fill="none"/>
<circle cx="464.03" cy="537.24" r="1.35" fill="none" stroke="#111" stroke-width="0.5"/>
<circle cx="467.11" cy="537.24" r="1.35" fill="none" stroke="#111" stroke-width="0.5"/>
<circle cx="463.26" cy="545.33" r="1.35" fill="none" stroke="#111" stroke-width="0.5"/>
<line x1="463.26" x2="463.26" y1="542.73" y2="547.93" stroke="#111" stroke-width="0.45"/>
<circle cx="464.03" cy="545.33" r="1.35" fill="none" stroke="#111" stroke-width="0.5"/>
<line x1="464.03" x2="464.03" y1="542.73" y2="547.93" stroke="#111" stroke-width="0.45"/>
<path d="M462.49 553.42H466.34M462.49 550.22v6.4M466.34 550.22v6.4" stroke="#111" stroke-width="0.55" fill="none"/>
<circle cx="462.49" cy="553.42" r="1.35" fill="none" stroke="#111" stroke-width="0.5"/>
<circle cx="466.34" cy="553.42" r="1.35" fill="none" stroke="#111" stroke-width="0.5"/>
<path d="M462.49 561.51H466.34M462.49 558.31v6.4M466.34 558.31v6.4" stroke="#111" stroke-width="0.55" fill="none"/>
<circle cx="462.49" cy="561.51" r="1.35" fill="none" stroke="#111" stroke-width="0.5"/>
<circle cx="466.34" cy="561.51" r="1.35" fill="none" stroke="#111" stroke-width="0.5"/>
<circle cx="458.64" cy="569.6" r="1.35" fill="none" stroke="#111" stroke-width="0.5"/>
<line x1="458.64" x2="458.64" y1="567" y2="572.2" stroke="#111" stroke-width="0.45"/>
<circle cx="459.8" cy="569.6" r="1.35" fill="none" stroke="#111" stroke-width="0.5"/>
<line x1="459.8" x2="459.8" y1="567" y2="572.2" stroke="#111" stroke-width="0.45"/>
<path d="M440.55 577.69H445.55M440.55 574.49v6.4M445.55 574.49v6.4" stroke="#111" stroke-width="0.55" fill="none"/>
<circle cx="440.55" cy="577.69" r="1.35" fill="none" stroke="#111" stroke-width="0.5"/>
<circle cx="445.55" cy="577.69" r="1.35" fill="none" stroke="#111" stroke-width="0.5"/>
<circle cx="458.64" cy="585.78" r="1.35" fill="none" stroke="#111" stroke-width="0.5"/>
<line x1="458.64" x2="458.64" y1="583.18" y2="588.38" stroke="#111" stroke-width="0.45"/>
<circle cx="459.8" cy="585.78" r="1.35" fill="none" stroke="#111" stroke-width="0.5"/>
<line x1="459.8" x2="459.8" y1="583.18" y2="588.38" stroke="#111" stroke-width="0.45"/>
<path d="M443.62 593.87H449.4M443.62 590.67v6.4M449.4 590.67v6.4" stroke="#111" stroke-width="0.55" fill="none"/>
<circle cx="443.62" cy="593.87" r="1.35" fill="none" stroke="#111" stroke-width="0.5"/>
<circle cx="449.4" cy="593.87" r="1.35" fill="none" stroke="#111" stroke-width="0.5"/>
<path d="M421.68 601.96H432.46M421.68 598.76v6.4M432.46 598.76v6.4" stroke="#111" stroke-width="0.55" fill="none"/>
<circle cx="421.68" cy="601.96" r="1.35" fill="none" stroke="#111" stroke-width="0.5"/>
<circle cx="432.46" cy="601.96" r="1.35" fill="none" stroke="#111" stroke-width="0.5"/>
<path d="M419.37 610.05H434.38M419.37 606.85v6.4M434.38 606.85v6.4" stroke="#111" stroke-width="0.55" fill="none"/>
<circle cx="419.37" cy="610.05" r="1.35" fill="none" stroke="#111" stroke-width="0.5"/>
<circle cx="434.38" cy="610.05" r="1.35" fill="none" stroke="#111" stroke-width="0.5"/>
<circle cx="422.84" cy="618.14" r="1.35" fill="none" stroke="#111" stroke-width="0.5"/>
<line x1="422.84" x2="422.84" y1="615.54" y2="620.74" stroke="#111" stroke-width="0.45"/>
<circle cx="422.84" cy="626.23" r="1.35" fill="none" stroke="#111" stroke-width="0.5"/>
<line x1="422.84" x2="422.84" y1="623.63" y2="628.83" stroke="#111" stroke-width="0.45"/>
<path d="M433.62 634.32H440.16M433.62 631.12v6.4M440.16 631.12v6.4" stroke="#111" stroke-width="0.55" fill="none"/>
<circle cx="433.62" cy="634.32" r="1.35" fill="none" stroke="#111" stroke-width="0.5"/>
<circle cx="440.16" cy="634.32" r="1.35" fill="none" stroke="#111" stroke-width="0.5"/>
<circle cx="457.49" cy="642.41" r="1.35" fill="none" stroke="#111" stroke-width="0.5"/>
<line x1="457.49" x2="457.49" y1="639.81" y2="645.01" stroke="#111" stroke-width="0.45"/>
<circle cx="459.03" cy="642.41" r="1.35" fill="none" stroke="#111" stroke-width="0.5"/>
<line x1="459.03" x2="459.03" y1="639.81" y2="645.01" stroke="#111" stroke-width="0.45"/>
<circle cx="465.57" cy="650.5" r="1.35" fill="none" stroke="#111" stroke-width="0.5"/>
<line x1="465.57" x2="465.57" y1="647.9" y2="653.1" stroke="#111" stroke-width="0.45"/>
<path d="M464.03 666.68H467.11M464.03 663.48v6.4M467.11 663.48v6.4" stroke="#111" stroke-width="0.55" fill="none"/>
<circle cx="464.03" cy="666.68" r="1.35" fill="none" stroke="#111" stroke-width="0.5"/>
<circle cx="467.11" cy="666.68" r="1.35" fill="none" stroke="#111" stroke-width="0.5"/>
<circle cx="460.18" cy="674.77" r="1.35" fill="none" stroke="#111" stroke-width="0.5"/>
<line x1="460.18" x2="460.18" y1="672.17" y2="677.37" stroke="#111" stroke-width="0.45"/>
<circle cx="455.94" cy="682.86" r="1.35" fill="none" stroke="#111" stroke-width="0.5"/>
<line x1="455.94" x2="455.94" y1="680.26" y2="685.46" stroke="#111" stroke-width="0.45"/>
<path d="M446.32 690.95H453.25M446.32 687.75v6.4M453.25 687.75v6.4" stroke="#111" stroke-width="0.55" fill="none"/>
<circle cx="446.32" cy="690.95" r="1.35" fill="none" stroke="#111" stroke-width="0.5"/>
<circle cx="453.25" cy="690.95" r="1.35" fill="none" stroke="#111" stroke-width="0.5"/>
<circle cx="454.79" cy="699.04" r="1.35" fill="none" stroke="#111" stroke-width="0.5"/>
<line x1="454.79" x2="454.79" y1="696.44" y2="701.64" stroke="#111" stroke-width="0.45"/>
<circle cx="455.94" cy="699.04" r="1.35" fill="none" stroke="#111" stroke-width="0.5"/>
<line x1="455.94" x2="455.94" y1="696.44" y2="701.64" stroke="#111" stroke-width="0.45"/>
<path d="M446.32 707.13H453.25M446.32 703.93v6.4M453.25 703.93v6.4" stroke="#111" stroke-width="0.55" fill="none"/>
<circle cx="446.32" cy="707.13" r="1.35" fill="none" stroke="#111" stroke-width="0.5"/>
<circle cx="453.25" cy="707.13" r="1.35" fill="none" stroke="#111" stroke-width="0.5"/>
<circle cx="444.39" cy="715.22" r="1.35" fill="none" stroke="#111" stroke-width="0.5"/>
<line x1="444.39" x2="444.39" y1="712.62" y2="717.82" stroke="#111" stroke-width="0.45"/>
<rect x="407.7" y="403" width="83.95" height="316.6" fill="none" stroke="#4e5256" stroke-width="0.7"/>
<line x1="418.6" x2="418.6" y1="719.6" y2="722.4" stroke="#333" stroke-width="0.5"/>
<text x="418.6" y="732.3" text-anchor="middle" font-size="9.8" fill="#0a0a0a">−6</text>
<line x1="434" x2="434" y1="719.6" y2="722.4" stroke="#333" stroke-width="0.5"/>
<text x="434" y="732.3" text-anchor="middle" font-size="9.8" fill="#0a0a0a">−4</text>
<line x1="449.4" x2="449.4" y1="719.6" y2="722.4" stroke="#333" stroke-width="0.5"/>
<text x="449.4" y="732.3" text-anchor="middle" font-size="9.8" fill="#0a0a0a">−2</text>
<line x1="464.8" x2="464.8" y1="719.6" y2="722.4" stroke="#333" stroke-width="0.5"/>
<text x="464.8" y="732.3" text-anchor="middle" font-size="9.8" fill="#0a0a0a">0</text>
<line x1="480.2" x2="480.2" y1="719.6" y2="722.4" stroke="#333" stroke-width="0.5"/>
<text x="480.2" y="732.3" text-anchor="middle" font-size="9.8" fill="#0a0a0a">2</text>
<rect x="497.5" y="403" width="83.95" height="316.6" fill="#fff" stroke="none"/>
<line x1="546.9" x2="546.9" y1="403" y2="719.6" stroke="#4a5058" stroke-width="0.4" stroke-dasharray="1.3 1.45"/>
<line x1="562.3" x2="562.3" y1="403" y2="719.6" stroke="#4a5058" stroke-width="0.4" stroke-dasharray="1.3 1.45"/>
<rect x="554.6" y="404.2" width="1.54" height="7.2" fill="#D9CE8F" stroke="#8f8f8f" stroke-width="0.3"/>
<rect x="554.6" y="428.47" width="1.93" height="7.2" fill="#D9CE8F" stroke="#8f8f8f" stroke-width="0.3"/>
<rect x="553.83" y="436.56" width="0.77" height="7.2" fill="#D9CE8F" stroke="#8f8f8f" stroke-width="0.3"/>
<rect x="547.28" y="444.65" width="7.31" height="7.2" fill="#D9CE8F" stroke="#8f8f8f" stroke-width="0.3"/>
<rect x="537.27" y="452.74" width="17.32" height="7.2" fill="#D9CE8F" stroke="#8f8f8f" stroke-width="0.3"/>
<rect x="554.6" y="460.83" width="2.31" height="7.2" fill="#FCAF21" stroke="#8f8f8f" stroke-width="0.3"/>
<rect x="534.58" y="468.92" width="20.02" height="7.2" fill="#FCAF21" stroke="#8f8f8f" stroke-width="0.3"/>
<rect x="517.25" y="477.01" width="37.34" height="7.2" fill="#FCAF21" stroke="#8f8f8f" stroke-width="0.3"/>
<rect x="554.6" y="485.1" width="3.47" height="7.2" fill="#FCAF21" stroke="#8f8f8f" stroke-width="0.3"/>
<rect x="539.2" y="493.19" width="15.4" height="7.2" fill="#FCAF21" stroke="#8f8f8f" stroke-width="0.3"/>
<rect x="553.06" y="501.28" width="1.54" height="7.2" fill="#FCAF21" stroke="#8f8f8f" stroke-width="0.3"/>
<rect x="554.6" y="517.46" width="1.54" height="7.2" fill="#D21E4B" stroke="#8f8f8f" stroke-width="0.3"/>
<rect x="554.6" y="525.55" width="3.08" height="7.2" fill="#D21E4B" stroke="#8f8f8f" stroke-width="0.3"/>
<rect x="554.6" y="533.64" width="0.39" height="7.2" fill="#D21E4B" stroke="#8f8f8f" stroke-width="0.3"/>
<rect x="553.06" y="541.73" width="1.54" height="7.2" fill="#D21E4B" stroke="#8f8f8f" stroke-width="0.3"/>
<rect x="554.6" y="549.82" width="2.31" height="7.2" fill="#D21E4B" stroke="#8f8f8f" stroke-width="0.3"/>
<rect x="554.6" y="557.91" width="2.31" height="7.2" fill="#D21E4B" stroke="#8f8f8f" stroke-width="0.3"/>
<rect x="547.67" y="566" width="6.93" height="7.2" fill="#D21E4B" stroke="#8f8f8f" stroke-width="0.3"/>
<rect x="529.96" y="574.09" width="24.64" height="7.2" fill="#D21E4B" stroke="#8f8f8f" stroke-width="0.3"/>
<rect x="547.67" y="582.18" width="6.93" height="7.2" fill="#D21E4B" stroke="#8f8f8f" stroke-width="0.3"/>
<rect x="536.89" y="590.27" width="17.71" height="7.2" fill="#D21E4B" stroke="#8f8f8f" stroke-width="0.3"/>
<rect x="519.95" y="598.36" width="34.65" height="7.2" fill="#D21E4B" stroke="#8f8f8f" stroke-width="0.3"/>
<rect x="521.11" y="606.45" width="33.49" height="7.2" fill="#D21E4B" stroke="#8f8f8f" stroke-width="0.3"/>
<rect x="509.94" y="614.54" width="44.66" height="7.2" fill="#D21E4B" stroke="#8f8f8f" stroke-width="0.3"/>
<rect x="509.94" y="622.63" width="44.66" height="7.2" fill="#D21E4B" stroke="#8f8f8f" stroke-width="0.3"/>
<rect x="528.03" y="630.72" width="26.57" height="7.2" fill="#D21E4B" stroke="#8f8f8f" stroke-width="0.3"/>
<rect x="548.44" y="638.81" width="6.16" height="7.2" fill="#54101C" stroke="#8f8f8f" stroke-width="0.3"/>
<rect x="550.37" y="654.99" width="4.24" height="7.2" fill="#54101C" stroke="#8f8f8f" stroke-width="0.3"/>
<rect x="554.6" y="663.08" width="1.16" height="7.2" fill="#54101C" stroke="#8f8f8f" stroke-width="0.3"/>
<rect x="547.28" y="671.17" width="7.31" height="7.2" fill="#54101C" stroke="#8f8f8f" stroke-width="0.3"/>
<rect x="545.75" y="679.26" width="8.85" height="7.2" fill="#54101C" stroke="#8f8f8f" stroke-width="0.3"/>
<rect x="542.28" y="687.35" width="12.32" height="7.2" fill="#54101C" stroke="#8f8f8f" stroke-width="0.3"/>
<rect x="544.59" y="695.44" width="10.01" height="7.2" fill="#54101C" stroke="#8f8f8f" stroke-width="0.3"/>
<rect x="542.28" y="703.53" width="12.32" height="7.2" fill="#54101C" stroke="#8f8f8f" stroke-width="0.3"/>
<rect x="535.35" y="711.62" width="19.25" height="7.2" fill="#54101C" stroke="#8f8f8f" stroke-width="0.3"/>
<line x1="554.6" x2="554.6" y1="403" y2="719.6" stroke="#222" stroke-width="0.7"/>
<circle cx="555.75" cy="407.8" r="1.35" fill="none" stroke="#111" stroke-width="0.5"/>
<line x1="555.75" x2="555.75" y1="405.2" y2="410.4" stroke="#111" stroke-width="0.45"/>
<circle cx="557.3" cy="407.8" r="1.35" fill="none" stroke="#111" stroke-width="0.5"/>
<line x1="557.3" x2="557.3" y1="405.2" y2="410.4" stroke="#111" stroke-width="0.45"/>
<path d="M551.9 415.89H556.52M551.9 412.69v6.4M556.52 412.69v6.4" stroke="#5a5a5a" stroke-width="0.55" fill="none"/>
<circle cx="551.9" cy="415.89" r="1.35" fill="none" stroke="#5a5a5a" stroke-width="0.5"/>
<circle cx="556.52" cy="415.89" r="1.35" fill="none" stroke="#5a5a5a" stroke-width="0.5"/>
<circle cx="555.37" cy="423.98" r="1.35" fill="none" stroke="#5a5a5a" stroke-width="0.5"/>
<line x1="555.37" x2="555.37" y1="421.38" y2="426.58" stroke="#5a5a5a" stroke-width="0.45"/>
<circle cx="554.99" cy="432.07" r="1.35" fill="none" stroke="#111" stroke-width="0.5"/>
<line x1="554.99" x2="554.99" y1="429.47" y2="434.67" stroke="#111" stroke-width="0.45"/>
<circle cx="558.84" cy="432.07" r="1.35" fill="none" stroke="#111" stroke-width="0.5"/>
<line x1="558.84" x2="558.84" y1="429.47" y2="434.67" stroke="#111" stroke-width="0.45"/>
<path d="M548.44 440.16H558.45M548.44 436.96v6.4M558.45 436.96v6.4" stroke="#5a5a5a" stroke-width="0.55" fill="none"/>
<circle cx="548.44" cy="440.16" r="1.35" fill="none" stroke="#5a5a5a" stroke-width="0.5"/>
<circle cx="558.45" cy="440.16" r="1.35" fill="none" stroke="#5a5a5a" stroke-width="0.5"/>
<path d="M543.82 448.25H549.98M543.82 445.05v6.4M549.98 445.05v6.4" stroke="#111" stroke-width="0.55" fill="none"/>
<circle cx="543.82" cy="448.25" r="1.35" fill="none" stroke="#111" stroke-width="0.5"/>
<circle cx="549.98" cy="448.25" r="1.35" fill="none" stroke="#111" stroke-width="0.5"/>
<circle cx="537.27" cy="456.34" r="1.35" fill="none" stroke="#111" stroke-width="0.5"/>
<line x1="537.27" x2="537.27" y1="453.74" y2="458.94" stroke="#111" stroke-width="0.45"/>
<circle cx="555.75" cy="464.43" r="1.35" fill="none" stroke="#111" stroke-width="0.5"/>
<line x1="555.75" x2="555.75" y1="461.83" y2="467.03" stroke="#111" stroke-width="0.45"/>
<circle cx="557.3" cy="464.43" r="1.35" fill="none" stroke="#111" stroke-width="0.5"/>
<line x1="557.3" x2="557.3" y1="461.83" y2="467.03" stroke="#111" stroke-width="0.45"/>
<path d="M532.65 472.52H535.35M532.65 469.32v6.4M535.35 469.32v6.4" stroke="#111" stroke-width="0.55" fill="none"/>
<circle cx="532.65" cy="472.52" r="1.35" fill="none" stroke="#111" stroke-width="0.5"/>
<circle cx="535.35" cy="472.52" r="1.35" fill="none" stroke="#111" stroke-width="0.5"/>
<circle cx="517.25" cy="480.61" r="1.35" fill="none" stroke="#111" stroke-width="0.5"/>
<line x1="517.25" x2="517.25" y1="478.01" y2="483.21" stroke="#111" stroke-width="0.45"/>
<circle cx="557.3" cy="488.7" r="1.35" fill="none" stroke="#111" stroke-width="0.5"/>
<line x1="557.3" x2="557.3" y1="486.1" y2="491.3" stroke="#111" stroke-width="0.45"/>
<circle cx="559.61" cy="488.7" r="1.35" fill="none" stroke="#111" stroke-width="0.5"/>
<line x1="559.61" x2="559.61" y1="486.1" y2="491.3" stroke="#111" stroke-width="0.45"/>
<path d="M532.65 496.79H545.75M532.65 493.59v6.4M545.75 493.59v6.4" stroke="#111" stroke-width="0.55" fill="none"/>
<circle cx="532.65" cy="496.79" r="1.35" fill="none" stroke="#111" stroke-width="0.5"/>
<circle cx="545.75" cy="496.79" r="1.35" fill="none" stroke="#111" stroke-width="0.5"/>
<circle cx="551.9" cy="504.88" r="1.35" fill="none" stroke="#111" stroke-width="0.5"/>
<line x1="551.9" x2="551.9" y1="502.28" y2="507.48" stroke="#111" stroke-width="0.45"/>
<circle cx="553.83" cy="504.88" r="1.35" fill="none" stroke="#111" stroke-width="0.5"/>
<line x1="553.83" x2="553.83" y1="502.28" y2="507.48" stroke="#111" stroke-width="0.45"/>
<path d="M550.75 512.97H556.52M550.75 509.77v6.4M556.52 509.77v6.4" stroke="#5a5a5a" stroke-width="0.55" fill="none"/>
<circle cx="550.75" cy="512.97" r="1.35" fill="none" stroke="#5a5a5a" stroke-width="0.5"/>
<circle cx="556.52" cy="512.97" r="1.35" fill="none" stroke="#5a5a5a" stroke-width="0.5"/>
<circle cx="555.75" cy="521.06" r="1.35" fill="none" stroke="#111" stroke-width="0.5"/>
<line x1="555.75" x2="555.75" y1="518.46" y2="523.66" stroke="#111" stroke-width="0.45"/>
<circle cx="558.07" cy="521.06" r="1.35" fill="none" stroke="#111" stroke-width="0.5"/>
<line x1="558.07" x2="558.07" y1="518.46" y2="523.66" stroke="#111" stroke-width="0.45"/>
<circle cx="557.68" cy="529.15" r="1.35" fill="none" stroke="#111" stroke-width="0.5"/>
<line x1="557.68" x2="557.68" y1="526.55" y2="531.75" stroke="#111" stroke-width="0.45"/>
<path d="M554.22 537.24H558.07M554.22 534.04v6.4M558.07 534.04v6.4" stroke="#111" stroke-width="0.55" fill="none"/>
<circle cx="554.22" cy="537.24" r="1.35" fill="none" stroke="#111" stroke-width="0.5"/>
<circle cx="558.07" cy="537.24" r="1.35" fill="none" stroke="#111" stroke-width="0.5"/>
<path d="M550.75 545.33H554.22M550.75 542.13v6.4M554.22 542.13v6.4" stroke="#111" stroke-width="0.55" fill="none"/>
<circle cx="550.75" cy="545.33" r="1.35" fill="none" stroke="#111" stroke-width="0.5"/>
<circle cx="554.22" cy="545.33" r="1.35" fill="none" stroke="#111" stroke-width="0.5"/>
<circle cx="556.52" cy="553.42" r="1.35" fill="none" stroke="#111" stroke-width="0.5"/>
<line x1="556.52" x2="556.52" y1="550.82" y2="556.02" stroke="#111" stroke-width="0.45"/>
<circle cx="556.52" cy="561.51" r="1.35" fill="none" stroke="#111" stroke-width="0.5"/>
<line x1="556.52" x2="556.52" y1="558.91" y2="564.11" stroke="#111" stroke-width="0.45"/>
<circle cx="547.67" cy="569.6" r="1.35" fill="none" stroke="#111" stroke-width="0.5"/>
<line x1="547.67" x2="547.67" y1="567" y2="572.2" stroke="#111" stroke-width="0.45"/>
<path d="M525.73 577.69H534.2M525.73 574.49v6.4M534.2 574.49v6.4" stroke="#111" stroke-width="0.55" fill="none"/>
<circle cx="525.73" cy="577.69" r="1.35" fill="none" stroke="#111" stroke-width="0.5"/>
<circle cx="534.2" cy="577.69" r="1.35" fill="none" stroke="#111" stroke-width="0.5"/>
<circle cx="547.67" cy="585.78" r="1.35" fill="none" stroke="#111" stroke-width="0.5"/>
<line x1="547.67" x2="547.67" y1="583.18" y2="588.38" stroke="#111" stroke-width="0.45"/>
<path d="M534.97 593.87H538.43M534.97 590.67v6.4M538.43 590.67v6.4" stroke="#111" stroke-width="0.55" fill="none"/>
<circle cx="534.97" cy="593.87" r="1.35" fill="none" stroke="#111" stroke-width="0.5"/>
<circle cx="538.05" cy="593.87" r="1.35" fill="none" stroke="#111" stroke-width="0.5"/>
<path d="M516.1 601.96H523.03M516.1 598.76v6.4M523.03 598.76v6.4" stroke="#111" stroke-width="0.55" fill="none"/>
<circle cx="516.1" cy="601.96" r="1.35" fill="none" stroke="#111" stroke-width="0.5"/>
<circle cx="523.03" cy="601.96" r="1.35" fill="none" stroke="#111" stroke-width="0.5"/>
<path d="M517.25 610.05H524.19M517.25 606.85v6.4M524.19 606.85v6.4" stroke="#111" stroke-width="0.55" fill="none"/>
<circle cx="517.25" cy="610.05" r="1.35" fill="none" stroke="#111" stroke-width="0.5"/>
<circle cx="524.19" cy="610.05" r="1.35" fill="none" stroke="#111" stroke-width="0.5"/>
<path d="M505.71 618.14H514.18M505.71 614.94v6.4M514.18 614.94v6.4" stroke="#111" stroke-width="0.55" fill="none"/>
<circle cx="505.71" cy="618.14" r="1.35" fill="none" stroke="#111" stroke-width="0.5"/>
<circle cx="514.18" cy="618.14" r="1.35" fill="none" stroke="#111" stroke-width="0.5"/>
<path d="M505.71 626.23H514.18M505.71 623.03v6.4M514.18 623.03v6.4" stroke="#111" stroke-width="0.55" fill="none"/>
<circle cx="505.71" cy="626.23" r="1.35" fill="none" stroke="#111" stroke-width="0.5"/>
<circle cx="514.18" cy="626.23" r="1.35" fill="none" stroke="#111" stroke-width="0.5"/>
<path d="M524.96 634.32H531.5M524.96 631.12v6.4M531.5 631.12v6.4" stroke="#111" stroke-width="0.55" fill="none"/>
<circle cx="524.96" cy="634.32" r="1.35" fill="none" stroke="#111" stroke-width="0.5"/>
<circle cx="531.5" cy="634.32" r="1.35" fill="none" stroke="#111" stroke-width="0.5"/>
<circle cx="546.9" cy="642.41" r="1.35" fill="none" stroke="#111" stroke-width="0.5"/>
<line x1="546.9" x2="546.9" y1="639.81" y2="645.01" stroke="#111" stroke-width="0.45"/>
<circle cx="549.21" cy="642.41" r="1.35" fill="none" stroke="#111" stroke-width="0.5"/>
<line x1="549.21" x2="549.21" y1="639.81" y2="645.01" stroke="#111" stroke-width="0.45"/>
<circle cx="554.6" cy="650.5" r="1.35" fill="none" stroke="#111" stroke-width="0.5"/>
<line x1="554.6" x2="554.6" y1="647.9" y2="653.1" stroke="#111" stroke-width="0.45"/>
<circle cx="549.6" cy="658.59" r="1.35" fill="none" stroke="#111" stroke-width="0.5"/>
<line x1="549.6" x2="549.6" y1="655.99" y2="661.19" stroke="#111" stroke-width="0.45"/>
<path d="M552.68 666.68H558.45M552.68 663.48v6.4M558.45 663.48v6.4" stroke="#111" stroke-width="0.55" fill="none"/>
<circle cx="552.68" cy="666.68" r="1.35" fill="none" stroke="#111" stroke-width="0.5"/>
<circle cx="558.45" cy="666.68" r="1.35" fill="none" stroke="#111" stroke-width="0.5"/>
<circle cx="546.51" cy="674.77" r="1.35" fill="none" stroke="#111" stroke-width="0.5"/>
<line x1="546.51" x2="546.51" y1="672.17" y2="677.37" stroke="#111" stroke-width="0.45"/>
<path d="M543.82 682.86H546.9M543.82 679.66v6.4M546.9 679.66v6.4" stroke="#111" stroke-width="0.55" fill="none"/>
<circle cx="543.44" cy="682.86" r="1.35" fill="none" stroke="#111" stroke-width="0.5"/>
<circle cx="546.13" cy="682.86" r="1.35" fill="none" stroke="#111" stroke-width="0.5"/>
<path d="M540.36 690.95H543.44M540.36 687.75v6.4M543.44 687.75v6.4" stroke="#111" stroke-width="0.55" fill="none"/>
<circle cx="540.36" cy="690.95" r="1.35" fill="none" stroke="#111" stroke-width="0.5"/>
<circle cx="543.05" cy="690.95" r="1.35" fill="none" stroke="#111" stroke-width="0.5"/>
<path d="M541.51 699.04H546.13M541.51 695.84v6.4M546.13 695.84v6.4" stroke="#111" stroke-width="0.55" fill="none"/>
<circle cx="541.51" cy="699.04" r="1.35" fill="none" stroke="#111" stroke-width="0.5"/>
<circle cx="546.13" cy="699.04" r="1.35" fill="none" stroke="#111" stroke-width="0.5"/>
<path d="M540.36 707.13H543.44M540.36 703.93v6.4M543.44 703.93v6.4" stroke="#111" stroke-width="0.55" fill="none"/>
<circle cx="540.36" cy="707.13" r="1.35" fill="none" stroke="#111" stroke-width="0.5"/>
<circle cx="543.05" cy="707.13" r="1.35" fill="none" stroke="#111" stroke-width="0.5"/>
<circle cx="534.58" cy="715.22" r="1.35" fill="none" stroke="#111" stroke-width="0.5"/>
<line x1="534.58" x2="534.58" y1="712.62" y2="717.82" stroke="#111" stroke-width="0.45"/>
<rect x="497.5" y="403" width="83.95" height="316.6" fill="none" stroke="#4e5256" stroke-width="0.7"/>
<line x1="508.4" x2="508.4" y1="719.6" y2="722.4" stroke="#333" stroke-width="0.5"/>
<text x="508.4" y="732.3" text-anchor="middle" font-size="9.8" fill="#0a0a0a">−6</text>
<line x1="523.8" x2="523.8" y1="719.6" y2="722.4" stroke="#333" stroke-width="0.5"/>
<text x="523.8" y="732.3" text-anchor="middle" font-size="9.8" fill="#0a0a0a">−4</text>
<line x1="539.2" x2="539.2" y1="719.6" y2="722.4" stroke="#333" stroke-width="0.5"/>
<text x="539.2" y="732.3" text-anchor="middle" font-size="9.8" fill="#0a0a0a">−2</text>
<line x1="554.6" x2="554.6" y1="719.6" y2="722.4" stroke="#333" stroke-width="0.5"/>
<text x="554.6" y="732.3" text-anchor="middle" font-size="9.8" fill="#0a0a0a">0</text>
<line x1="570" x2="570" y1="719.6" y2="722.4" stroke="#333" stroke-width="0.5"/>
<text x="570" y="732.3" text-anchor="middle" font-size="9.8" fill="#0a0a0a">2</text>
<text x="61.8" y="398.4" font-size="10.8" font-weight="bold" fill="#111">10min</text>
<text x="151.7" y="398.4" font-size="10.8" font-weight="bold" fill="#111">20min</text>
<text x="241.5" y="398.4" font-size="10.8" font-weight="bold" fill="#111">30min</text>
<text x="331.3" y="398.4" font-size="10.8" font-weight="bold" fill="#111">60min</text>
<text x="415.2" y="398.4" font-size="10.8" font-weight="bold" fill="#111">240min</text>
<text x="505.1" y="398.4" font-size="10.8" font-weight="bold" fill="#111">480min</text>
<text x="577.0" y="398.4" font-size="10.9" font-weight="bold" fill="#111">A-485 treatment time</text>
<text x="255.2" y="745.6" font-size="10.85" fill="#1a1a1a">Log2 Ac ratio (A485 / Control)</text>
</svg>
</body></html>
